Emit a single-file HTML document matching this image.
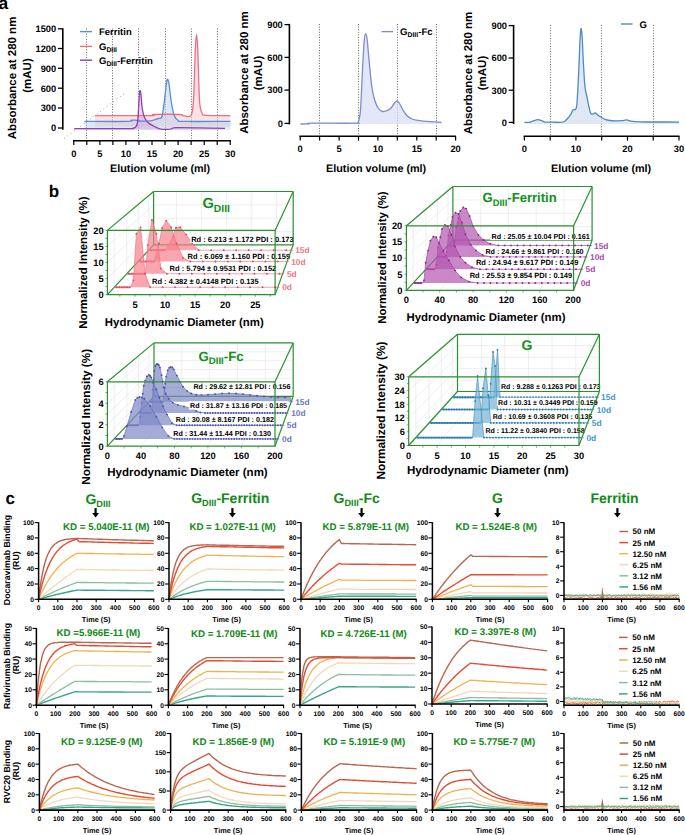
<!DOCTYPE html><html><head><meta charset="utf-8"><style>html,body{margin:0;padding:0;background:#fff;}svg{display:block;font-family:"Liberation Sans",sans-serif;}</style></head><body><svg width="685" height="835" viewBox="0 0 685 835" font-family='&quot;Liberation Sans&quot;, sans-serif' font-weight="bold" text-rendering="geometricPrecision"><rect width="100%" height="100%" fill="#fff"/><text x="-1.6" y="9.4" font-size="17.4">a</text>
<text x="15.8" y="78" font-size="11.5" text-anchor="middle" transform="rotate(-90 15.8 78)">Absorbance at 280 nm</text>
<text x="30.6" y="75.5" font-size="11.5" text-anchor="middle" transform="rotate(-90 30.6 75.5)">(mAU)</text>
<line x1="62.8" y1="28.2" x2="62.8" y2="129.8" stroke="#000" stroke-width="1.6"/>
<line x1="57.9" y1="28.8" x2="62.8" y2="28.8" stroke="#000" stroke-width="1.3"/>
<text x="56.2" y="32.1" font-size="9.3" text-anchor="end">1500</text>
<line x1="57.9" y1="48.5" x2="62.8" y2="48.5" stroke="#000" stroke-width="1.3"/>
<text x="56.2" y="51.8" font-size="9.3" text-anchor="end">1200</text>
<line x1="57.9" y1="68.3" x2="62.8" y2="68.3" stroke="#000" stroke-width="1.3"/>
<text x="56.2" y="71.6" font-size="9.3" text-anchor="end">900</text>
<line x1="57.9" y1="88.2" x2="62.8" y2="88.2" stroke="#000" stroke-width="1.3"/>
<text x="56.2" y="91.5" font-size="9.3" text-anchor="end">600</text>
<line x1="57.9" y1="108" x2="62.8" y2="108" stroke="#000" stroke-width="1.3"/>
<text x="56.2" y="111.3" font-size="9.3" text-anchor="end">300</text>
<line x1="57.9" y1="128" x2="62.8" y2="128" stroke="#000" stroke-width="1.3"/>
<text x="56.2" y="131.3" font-size="9.3" text-anchor="end">0</text>
<line x1="73" y1="140.7" x2="230.9" y2="140.7" stroke="#000" stroke-width="1.6"/>
<line x1="73.8" y1="140.7" x2="73.8" y2="145.1" stroke="#000" stroke-width="1.2"/>
<line x1="86.8" y1="140.7" x2="86.8" y2="145.1" stroke="#000" stroke-width="1.2"/>
<line x1="99.9" y1="140.7" x2="99.9" y2="145.1" stroke="#000" stroke-width="1.2"/>
<line x1="112.9" y1="140.7" x2="112.9" y2="145.1" stroke="#000" stroke-width="1.2"/>
<line x1="125.9" y1="140.7" x2="125.9" y2="145.1" stroke="#000" stroke-width="1.2"/>
<line x1="139" y1="140.7" x2="139" y2="145.1" stroke="#000" stroke-width="1.2"/>
<line x1="152" y1="140.7" x2="152" y2="145.1" stroke="#000" stroke-width="1.2"/>
<line x1="165" y1="140.7" x2="165" y2="145.1" stroke="#000" stroke-width="1.2"/>
<line x1="178.1" y1="140.7" x2="178.1" y2="145.1" stroke="#000" stroke-width="1.2"/>
<line x1="191.1" y1="140.7" x2="191.1" y2="145.1" stroke="#000" stroke-width="1.2"/>
<line x1="204.2" y1="140.7" x2="204.2" y2="145.1" stroke="#000" stroke-width="1.2"/>
<line x1="217.2" y1="140.7" x2="217.2" y2="145.1" stroke="#000" stroke-width="1.2"/>
<line x1="230.2" y1="140.7" x2="230.2" y2="145.1" stroke="#000" stroke-width="1.2"/>
<text x="73.8" y="156.7" font-size="9.3" text-anchor="middle">0</text>
<text x="99.9" y="156.7" font-size="9.3" text-anchor="middle">5</text>
<text x="125.9" y="156.7" font-size="9.3" text-anchor="middle">10</text>
<text x="152" y="156.7" font-size="9.3" text-anchor="middle">15</text>
<text x="178.1" y="156.7" font-size="9.3" text-anchor="middle">20</text>
<text x="204.2" y="156.7" font-size="9.3" text-anchor="middle">25</text>
<text x="230.2" y="156.7" font-size="9.3" text-anchor="middle">30</text>
<line x1="86.5" y1="28.5" x2="86.5" y2="140" stroke="#444" stroke-width="0.8" stroke-dasharray="1 1.6"/>
<line x1="112.5" y1="28.5" x2="112.5" y2="140" stroke="#444" stroke-width="0.8" stroke-dasharray="1 1.6"/>
<line x1="138.5" y1="28.5" x2="138.5" y2="140" stroke="#444" stroke-width="0.8" stroke-dasharray="1 1.6"/>
<line x1="165.5" y1="28.5" x2="165.5" y2="140" stroke="#444" stroke-width="0.8" stroke-dasharray="1 1.6"/>
<line x1="191.5" y1="28.5" x2="191.5" y2="140" stroke="#444" stroke-width="0.8" stroke-dasharray="1 1.6"/>
<line x1="217.5" y1="28.5" x2="217.5" y2="140" stroke="#444" stroke-width="0.8" stroke-dasharray="1 1.6"/>
<line x1="64" y1="138.5" x2="124.5" y2="93.5" stroke="#777" stroke-width="0.8" stroke-dasharray="0.9 3.2"/>
<text x="110" y="171.6" font-size="10.8">Elution volume (ml)</text>
<path d="M95 115.6 C104.2 115.6 140.2 115.8 150 115.6 C159.8 115.4 149 114.7 154 114.5 C159 114.3 175.2 114.3 180 114.5 C184.8 114.7 181.2 115.4 183 115.6 C184.8 115.8 189.2 118 191 115.4 C192.8 112.8 192.8 110.9 193.5 100 C194.2 89.1 194.8 60.9 195.3 50 C195.8 39.1 196.1 34.5 196.5 34.5 C196.9 34.5 197.3 39.1 197.8 50 C198.3 60.9 198.8 89.5 199.5 100 C200.2 110.5 200.9 110.4 202 113 C203.1 115.6 201.3 115 206 115.4 C210.7 115.8 226.3 115.6 230.4 115.6 L230.4 126.5 L95 126.5 Z" fill="#f6c6cf" stroke="none" fill-opacity="0.5"/>
<path d="M84.5 121.4 C91.8 121.4 120.2 121.6 128 121.4 C135.8 121.2 129.8 120.4 131 120.2 C132.2 120 133.7 120 135 120.1 C136.3 120.2 136.5 120.9 139 121 C141.5 121.1 147.3 121.1 150 120.9 C152.7 120.7 153.6 120 155 119.6 C156.4 119.2 157.3 118.9 158.5 118.4 C159.7 117.9 161 119.6 162 116.5 C163 113.4 163.8 105.6 164.5 100 C165.2 94.4 166 86.5 166.5 83 C167 79.5 167.2 79 167.6 79.2 C168 79.4 168.4 80.5 169 84 C169.6 87.5 170.2 94.8 171 100 C171.8 105.2 172.8 111.6 174 115 C175.2 118.4 176.3 119.2 178 120.3 C179.7 121.4 175.3 121.2 184 121.4 C192.7 121.6 222.7 121.4 230.4 121.4 L230.4 129.8 L84.5 129.8 Z" fill="#b7cdeb" stroke="none" fill-opacity="0.45"/>
<path d="M74.2 128.7 C83.2 128.7 118.2 128.7 128 128.6 C137.8 128.5 131.8 128.4 133 128.2 C134.2 128 134.8 127.9 135.5 127.2 C136.2 126.5 136.8 126 137.2 124 C137.6 122 137.8 119.8 138.2 115 C138.5 110.2 139 99.1 139.3 95 C139.6 90.9 139.7 90.7 140 90.5 C140.3 90.3 140.5 91.1 140.9 94 C141.3 96.9 141.6 104.1 142.2 108 C142.8 111.9 143.5 115.1 144.5 117.5 C145.5 119.9 146.6 121.1 148 122.5 C149.4 123.9 151.2 124.8 153 125.8 C154.8 126.8 157.3 128 159 128.6 C160.7 129.2 161.2 129.2 163 129.3 C164.8 129.4 168.2 129.4 170 129.2 C171.8 128.9 171.8 128 173.5 127.8 C175.2 127.5 175.6 127.7 180 127.7 C184.4 127.7 192.5 127.8 200 127.9 C207.5 128 220.8 128.3 225 128.4 L225 129.8 L74.2 129.8 Z" fill="#c9a6dc" stroke="none" fill-opacity="0.45"/>
<path d="M95 115.6 C104.2 115.6 140.2 115.8 150 115.6 C159.8 115.4 149 114.7 154 114.5 C159 114.3 175.2 114.3 180 114.5 C184.8 114.7 181.2 115.4 183 115.6 C184.8 115.8 189.2 118 191 115.4 C192.8 112.8 192.8 110.9 193.5 100 C194.2 89.1 194.8 60.9 195.3 50 C195.8 39.1 196.1 34.5 196.5 34.5 C196.9 34.5 197.3 39.1 197.8 50 C198.3 60.9 198.8 89.5 199.5 100 C200.2 110.5 200.9 110.4 202 113 C203.1 115.6 201.3 115 206 115.4 C210.7 115.8 226.3 115.6 230.4 115.6" stroke="#ee6f80" stroke-width="1.3" fill="none"/>
<path d="M84.5 121.4 C91.8 121.4 120.2 121.6 128 121.4 C135.8 121.2 129.8 120.4 131 120.2 C132.2 120 133.7 120 135 120.1 C136.3 120.2 136.5 120.9 139 121 C141.5 121.1 147.3 121.1 150 120.9 C152.7 120.7 153.6 120 155 119.6 C156.4 119.2 157.3 118.9 158.5 118.4 C159.7 117.9 161 119.6 162 116.5 C163 113.4 163.8 105.6 164.5 100 C165.2 94.4 166 86.5 166.5 83 C167 79.5 167.2 79 167.6 79.2 C168 79.4 168.4 80.5 169 84 C169.6 87.5 170.2 94.8 171 100 C171.8 105.2 172.8 111.6 174 115 C175.2 118.4 176.3 119.2 178 120.3 C179.7 121.4 175.3 121.2 184 121.4 C192.7 121.6 222.7 121.4 230.4 121.4" stroke="#5a8fd2" stroke-width="1.3" fill="none"/>
<path d="M74.2 128.7 C83.2 128.7 118.2 128.7 128 128.6 C137.8 128.5 131.8 128.4 133 128.2 C134.2 128 134.8 127.9 135.5 127.2 C136.2 126.5 136.8 126 137.2 124 C137.6 122 137.8 119.8 138.2 115 C138.5 110.2 139 99.1 139.3 95 C139.6 90.9 139.7 90.7 140 90.5 C140.3 90.3 140.5 91.1 140.9 94 C141.3 96.9 141.6 104.1 142.2 108 C142.8 111.9 143.5 115.1 144.5 117.5 C145.5 119.9 146.6 121.1 148 122.5 C149.4 123.9 151.2 124.8 153 125.8 C154.8 126.8 157.3 128 159 128.6 C160.7 129.2 161.2 129.2 163 129.3 C164.8 129.4 168.2 129.4 170 129.2 C171.8 128.9 171.8 128 173.5 127.8 C175.2 127.5 175.6 127.7 180 127.7 C184.4 127.7 192.5 127.8 200 127.9 C207.5 128 220.8 128.3 225 128.4" stroke="#9140b2" stroke-width="1.3" fill="none"/>
<line x1="80" y1="31.6" x2="92" y2="31.6" stroke="#5a8fd2" stroke-width="1.4"/>
<line x1="80" y1="46.4" x2="92" y2="46.4" stroke="#ee6f80" stroke-width="1.4"/>
<line x1="80" y1="60.2" x2="92" y2="60.2" stroke="#9140b2" stroke-width="1.4"/>
<text x="99" y="35" font-size="9.5">Ferritin</text>
<text x="99" y="49.8"><tspan font-size="9.5" dy="0">G</tspan><tspan font-size="6.8" dy="2.3">DIII</tspan></text>
<text x="99" y="63.6"><tspan font-size="9.5" dy="0">G</tspan><tspan font-size="6.8" dy="2.3">DIII</tspan><tspan font-size="9.5" dy="-2.3">-Ferritin</tspan></text>
<text x="248.2" y="72.5" font-size="11.5" text-anchor="middle" transform="rotate(-90 248.2 72.5)">Absorbance at 280 nm</text>
<text x="261.6" y="73" font-size="11.5" text-anchor="middle" transform="rotate(-90 261.6 73)">(mAU)</text>
<line x1="289.4" y1="23.9" x2="289.4" y2="124.4" stroke="#000" stroke-width="1.6"/>
<line x1="284.5" y1="24.6" x2="289.4" y2="24.6" stroke="#000" stroke-width="1.3"/>
<text x="282.8" y="27.9" font-size="9.3" text-anchor="end">900</text>
<line x1="284.5" y1="57.4" x2="289.4" y2="57.4" stroke="#000" stroke-width="1.3"/>
<text x="282.8" y="60.7" font-size="9.3" text-anchor="end">600</text>
<line x1="284.5" y1="90.1" x2="289.4" y2="90.1" stroke="#000" stroke-width="1.3"/>
<text x="282.8" y="93.4" font-size="9.3" text-anchor="end">300</text>
<line x1="284.5" y1="123.4" x2="289.4" y2="123.4" stroke="#000" stroke-width="1.3"/>
<text x="282.8" y="126.7" font-size="9.3" text-anchor="end">0</text>
<line x1="299.4" y1="136.2" x2="455.9" y2="136.2" stroke="#000" stroke-width="1.6"/>
<line x1="300.2" y1="136.2" x2="300.2" y2="140.6" stroke="#000" stroke-width="1.2"/>
<line x1="319.6" y1="136.2" x2="319.6" y2="140.6" stroke="#000" stroke-width="1.2"/>
<line x1="339.1" y1="136.2" x2="339.1" y2="140.6" stroke="#000" stroke-width="1.2"/>
<line x1="358.5" y1="136.2" x2="358.5" y2="140.6" stroke="#000" stroke-width="1.2"/>
<line x1="377.9" y1="136.2" x2="377.9" y2="140.6" stroke="#000" stroke-width="1.2"/>
<line x1="397.3" y1="136.2" x2="397.3" y2="140.6" stroke="#000" stroke-width="1.2"/>
<line x1="416.8" y1="136.2" x2="416.8" y2="140.6" stroke="#000" stroke-width="1.2"/>
<line x1="436.2" y1="136.2" x2="436.2" y2="140.6" stroke="#000" stroke-width="1.2"/>
<line x1="455.6" y1="136.2" x2="455.6" y2="140.6" stroke="#000" stroke-width="1.2"/>
<text x="300.2" y="151.5" font-size="9.3" text-anchor="middle">0</text>
<text x="339.1" y="151.5" font-size="9.3" text-anchor="middle">5</text>
<text x="377.9" y="151.5" font-size="9.3" text-anchor="middle">10</text>
<text x="416.8" y="151.5" font-size="9.3" text-anchor="middle">15</text>
<text x="455.6" y="151.5" font-size="9.3" text-anchor="middle">20</text>
<line x1="319.5" y1="24" x2="319.5" y2="135.5" stroke="#444" stroke-width="0.8" stroke-dasharray="1 1.6"/>
<line x1="358.5" y1="24" x2="358.5" y2="135.5" stroke="#444" stroke-width="0.8" stroke-dasharray="1 1.6"/>
<line x1="397.5" y1="24" x2="397.5" y2="135.5" stroke="#444" stroke-width="0.8" stroke-dasharray="1 1.6"/>
<line x1="436.5" y1="24" x2="436.5" y2="135.5" stroke="#444" stroke-width="0.8" stroke-dasharray="1 1.6"/>
<text x="326" y="171.6" font-size="10.8">Elution volume (ml)</text>
<path d="M300.5 124 C301.9 124 307.2 124 309 123.9 C310.8 123.8 303.3 123.3 311 123.2 C318.7 123.1 347.1 123.4 355 123.2 C362.9 123 357.3 124.2 358.2 122 C359.1 119.8 359.8 118.7 360.5 110 C361.2 101.3 361.9 81.7 362.5 70 C363.1 58.3 363.8 46.1 364.3 40 C364.8 33.9 365.2 33.6 365.7 33.6 C366.2 33.6 366.6 34.8 367.2 40 C367.8 45.2 368.7 57 369.5 65 C370.3 73 371.1 82 372 88 C372.9 94 373.9 97.6 375 101 C376.1 104.4 377.3 106.8 378.5 108.5 C379.7 110.2 380.8 110.9 382 111.3 C383.2 111.7 384.6 111.5 386 111 C387.4 110.5 389.1 109.8 390.5 108.5 C391.9 107.2 393.4 104.2 394.5 103 C395.6 101.8 396.2 100.9 397 101 C397.8 101.1 398.5 102 399.5 103.5 C400.5 105 401.8 108 403 110 C404.2 112 405.5 114.3 407 115.8 C408.5 117.3 410.2 118.2 412 119 C413.8 119.8 415 120 418 120.4 C421 120.8 426.1 121.3 430 121.6 C433.9 121.9 439.7 122.3 441.6 122.4 L441.6 124 L300.5 124 Z" fill="#d9ddf3" stroke="none" fill-opacity="0.7"/>
<path d="M300.5 124 C301.9 124 307.2 124 309 123.9 C310.8 123.8 303.3 123.3 311 123.2 C318.7 123.1 347.1 123.4 355 123.2 C362.9 123 357.3 124.2 358.2 122 C359.1 119.8 359.8 118.7 360.5 110 C361.2 101.3 361.9 81.7 362.5 70 C363.1 58.3 363.8 46.1 364.3 40 C364.8 33.9 365.2 33.6 365.7 33.6 C366.2 33.6 366.6 34.8 367.2 40 C367.8 45.2 368.7 57 369.5 65 C370.3 73 371.1 82 372 88 C372.9 94 373.9 97.6 375 101 C376.1 104.4 377.3 106.8 378.5 108.5 C379.7 110.2 380.8 110.9 382 111.3 C383.2 111.7 384.6 111.5 386 111 C387.4 110.5 389.1 109.8 390.5 108.5 C391.9 107.2 393.4 104.2 394.5 103 C395.6 101.8 396.2 100.9 397 101 C397.8 101.1 398.5 102 399.5 103.5 C400.5 105 401.8 108 403 110 C404.2 112 405.5 114.3 407 115.8 C408.5 117.3 410.2 118.2 412 119 C413.8 119.8 415 120 418 120.4 C421 120.8 426.1 121.3 430 121.6 C433.9 121.9 439.7 122.3 441.6 122.4" stroke="#7d8ccb" stroke-width="1.3" fill="none"/>
<line x1="381.6" y1="31.6" x2="393" y2="31.6" stroke="#7d8ccb" stroke-width="1.4"/>
<text x="400" y="34.9"><tspan font-size="9.6" dy="0">G</tspan><tspan font-size="6.9" dy="2.3">DIII</tspan><tspan font-size="9.6" dy="-2.3">-Fc</tspan></text>
<text x="472.2" y="73" font-size="11.5" text-anchor="middle" transform="rotate(-90 472.2 73)">Absorbance at 280 nm</text>
<text x="485.6" y="73" font-size="11.5" text-anchor="middle" transform="rotate(-90 485.6 73)">(mAU)</text>
<line x1="513.6" y1="24.9" x2="513.6" y2="124" stroke="#000" stroke-width="1.6"/>
<line x1="508.7" y1="25.6" x2="513.6" y2="25.6" stroke="#000" stroke-width="1.3"/>
<text x="507" y="28.9" font-size="9.3" text-anchor="end">900</text>
<line x1="508.7" y1="58" x2="513.6" y2="58" stroke="#000" stroke-width="1.3"/>
<text x="507" y="61.3" font-size="9.3" text-anchor="end">600</text>
<line x1="508.7" y1="90.2" x2="513.6" y2="90.2" stroke="#000" stroke-width="1.3"/>
<text x="507" y="93.5" font-size="9.3" text-anchor="end">300</text>
<line x1="508.7" y1="122.4" x2="513.6" y2="122.4" stroke="#000" stroke-width="1.3"/>
<text x="507" y="125.7" font-size="9.3" text-anchor="end">0</text>
<line x1="523.6" y1="136.2" x2="679.5" y2="136.2" stroke="#000" stroke-width="1.6"/>
<line x1="524.4" y1="136.2" x2="524.4" y2="140.6" stroke="#000" stroke-width="1.2"/>
<line x1="550.2" y1="136.2" x2="550.2" y2="140.6" stroke="#000" stroke-width="1.2"/>
<line x1="575.9" y1="136.2" x2="575.9" y2="140.6" stroke="#000" stroke-width="1.2"/>
<line x1="601.7" y1="136.2" x2="601.7" y2="140.6" stroke="#000" stroke-width="1.2"/>
<line x1="627.5" y1="136.2" x2="627.5" y2="140.6" stroke="#000" stroke-width="1.2"/>
<line x1="653.2" y1="136.2" x2="653.2" y2="140.6" stroke="#000" stroke-width="1.2"/>
<line x1="679" y1="136.2" x2="679" y2="140.6" stroke="#000" stroke-width="1.2"/>
<text x="524.4" y="151.5" font-size="9.3" text-anchor="middle">0</text>
<text x="575.9" y="151.5" font-size="9.3" text-anchor="middle">10</text>
<text x="627.5" y="151.5" font-size="9.3" text-anchor="middle">20</text>
<text x="679" y="151.5" font-size="9.3" text-anchor="middle">30</text>
<line x1="550.5" y1="25" x2="550.5" y2="135.5" stroke="#444" stroke-width="0.8" stroke-dasharray="1 1.6"/>
<line x1="601.5" y1="25" x2="601.5" y2="135.5" stroke="#444" stroke-width="0.8" stroke-dasharray="1 1.6"/>
<line x1="653.5" y1="25" x2="653.5" y2="135.5" stroke="#444" stroke-width="0.8" stroke-dasharray="1 1.6"/>
<text x="551" y="171.6" font-size="10.8">Elution volume (ml)</text>
<path d="M524.4 122.4 C525.3 122.4 528.4 122.5 530 122.2 C531.6 121.9 532.7 121 534 120.6 C535.3 120.2 536.7 119.6 538 119.6 C539.3 119.6 540.8 120.4 542 120.8 C543.2 121.2 543.3 121.9 545 122.1 C546.7 122.3 549.2 122.2 552 122.2 C554.8 122.2 559.8 122.4 562 122.2 C564.2 122 563.9 121.8 565 121 C566.1 120.2 567.5 118.7 568.5 117.5 C569.5 116.3 570.2 115.2 571 114 C571.8 112.8 572.2 110.8 573 110 C573.8 109.2 574.8 110.4 575.5 109.2 C576.2 108 576.5 109.5 577 103 C577.5 96.5 578.3 80.5 578.8 70 C579.3 59.5 579.6 46.9 580 40 C580.4 33.1 580.6 28.9 581 28.6 C581.4 28.3 581.8 31.9 582.2 38 C582.6 44.1 583 56.8 583.5 65 C584 73.2 584.4 81.7 585 87 C585.6 92.3 586.4 93.8 587 97 C587.6 100.2 588.2 103.3 588.8 106 C589.4 108.7 589.9 111.6 590.5 113 C591.1 114.4 591.8 114.2 592.5 114.2 C593.2 114.2 594.1 112.8 595 113 C595.9 113.2 597 114.6 598 115.3 C599 116 599.8 116.3 601 117 C602.2 117.7 603.5 118.7 605 119.3 C606.5 119.9 608.2 120.2 610 120.5 C611.8 120.8 614 120.8 616 120.8 C618 120.8 620.2 120.8 622 120.7 C623.8 120.6 625 119.8 626.5 119.9 C628 120 628.8 120.9 631 121.2 C633.2 121.5 635.2 121.7 640 121.8 C644.8 121.9 653.5 122 660 122 C666.5 122 675.8 122.1 679 122.1 L679 124 L524.4 124 Z" fill="#d3e0ee" stroke="none" fill-opacity="0.7"/>
<path d="M524.4 122.4 C525.3 122.4 528.4 122.5 530 122.2 C531.6 121.9 532.7 121 534 120.6 C535.3 120.2 536.7 119.6 538 119.6 C539.3 119.6 540.8 120.4 542 120.8 C543.2 121.2 543.3 121.9 545 122.1 C546.7 122.3 549.2 122.2 552 122.2 C554.8 122.2 559.8 122.4 562 122.2 C564.2 122 563.9 121.8 565 121 C566.1 120.2 567.5 118.7 568.5 117.5 C569.5 116.3 570.2 115.2 571 114 C571.8 112.8 572.2 110.8 573 110 C573.8 109.2 574.8 110.4 575.5 109.2 C576.2 108 576.5 109.5 577 103 C577.5 96.5 578.3 80.5 578.8 70 C579.3 59.5 579.6 46.9 580 40 C580.4 33.1 580.6 28.9 581 28.6 C581.4 28.3 581.8 31.9 582.2 38 C582.6 44.1 583 56.8 583.5 65 C584 73.2 584.4 81.7 585 87 C585.6 92.3 586.4 93.8 587 97 C587.6 100.2 588.2 103.3 588.8 106 C589.4 108.7 589.9 111.6 590.5 113 C591.1 114.4 591.8 114.2 592.5 114.2 C593.2 114.2 594.1 112.8 595 113 C595.9 113.2 597 114.6 598 115.3 C599 116 599.8 116.3 601 117 C602.2 117.7 603.5 118.7 605 119.3 C606.5 119.9 608.2 120.2 610 120.5 C611.8 120.8 614 120.8 616 120.8 C618 120.8 620.2 120.8 622 120.7 C623.8 120.6 625 119.8 626.5 119.9 C628 120 628.8 120.9 631 121.2 C633.2 121.5 635.2 121.7 640 121.8 C644.8 121.9 653.5 122 660 122 C666.5 122 675.8 122.1 679 122.1" stroke="#4e8cc0" stroke-width="1.3" fill="none"/>
<line x1="621" y1="24" x2="632.6" y2="24" stroke="#4e8cc0" stroke-width="1.4"/>
<text x="639.4" y="27.5" font-size="9.6">G</text>
<text x="48.7" y="196.6" font-size="17">b</text>
<path d="M135 294.6 L176.6 244.9 L176.6 191.5" stroke="#e2e2e2" stroke-width="0.6" fill="none"/>
<path d="M165.1 294.6 L201.6 244.9 L201.6 191.5" stroke="#e2e2e2" stroke-width="0.6" fill="none"/>
<path d="M195.1 294.6 L226.6 244.9 L226.6 191.5" stroke="#e2e2e2" stroke-width="0.6" fill="none"/>
<path d="M225.2 294.6 L251.7 244.9 L251.7 191.5" stroke="#e2e2e2" stroke-width="0.6" fill="none"/>
<path d="M255.3 294.6 L276.7 244.9 L276.7 191.5" stroke="#e2e2e2" stroke-width="0.6" fill="none"/>
<path d="M107.4 278.6 L153.6 231.6 L293.2 231.6" stroke="#e2e2e2" stroke-width="0.6" fill="none"/>
<path d="M107.4 262.5 L153.6 218.2 L293.2 218.2" stroke="#e2e2e2" stroke-width="0.6" fill="none"/>
<path d="M107.4 246.5 L153.6 204.9 L293.2 204.9" stroke="#e2e2e2" stroke-width="0.6" fill="none"/>
<line x1="114.2" y1="287.3" x2="114.2" y2="224.7" stroke="#e2e2e2" stroke-width="0.6"/>
<line x1="126.8" y1="273.8" x2="126.8" y2="214.1" stroke="#e2e2e2" stroke-width="0.6"/>
<line x1="138.2" y1="261.5" x2="138.2" y2="204.5" stroke="#e2e2e2" stroke-width="0.6"/>
<line x1="148.7" y1="250.2" x2="148.7" y2="195.6" stroke="#e2e2e2" stroke-width="0.6"/>
<line x1="119.9" y1="294.6" x2="119.9" y2="296.8" stroke="#555" stroke-width="0.6"/>
<line x1="135" y1="294.6" x2="135" y2="296.8" stroke="#555" stroke-width="0.6"/>
<line x1="150" y1="294.6" x2="150" y2="296.8" stroke="#555" stroke-width="0.6"/>
<line x1="165.1" y1="294.6" x2="165.1" y2="296.8" stroke="#555" stroke-width="0.6"/>
<line x1="180.1" y1="294.6" x2="180.1" y2="296.8" stroke="#555" stroke-width="0.6"/>
<line x1="195.1" y1="294.6" x2="195.1" y2="296.8" stroke="#555" stroke-width="0.6"/>
<line x1="210.2" y1="294.6" x2="210.2" y2="296.8" stroke="#555" stroke-width="0.6"/>
<line x1="225.2" y1="294.6" x2="225.2" y2="296.8" stroke="#555" stroke-width="0.6"/>
<line x1="240.2" y1="294.6" x2="240.2" y2="296.8" stroke="#555" stroke-width="0.6"/>
<line x1="255.3" y1="294.6" x2="255.3" y2="296.8" stroke="#555" stroke-width="0.6"/>
<line x1="270.3" y1="294.6" x2="270.3" y2="296.8" stroke="#555" stroke-width="0.6"/>
<path d="M153.6 191.5 L153.6 244.9 L293.2 244.9" stroke="#2a9130" stroke-width="1.2" fill="none"/>
<path d="M153.6 191.5 L293.2 191.5" stroke="#2a9130" stroke-width="1.2" fill="none"/>
<line x1="107.4" y1="294.6" x2="153.6" y2="244.9" stroke="#2a9130" stroke-width="1.2"/>
<path d="M149.1 250.2 L165.7 250.2 L172.9 236.4 L175.9 227.7 L180.3 227.2 L186.1 234.6 L192.1 243 L198.7 250.2 L291.3 250.2 Z" fill="#f7808e" fill-opacity="0.7" stroke="none"/>
<path d="M149.1 250.2 L165.7 250.2 L172.9 236.4 L175.9 227.7 L180.3 227.2 L186.1 234.6 L192.1 243 L198.7 250.2 L291.3 250.2" fill="none" stroke="#ef6d7d" stroke-width="0.7" stroke-opacity="0.9"/>
<line x1="149.1" y1="250.2" x2="165.7" y2="250.2" stroke="#ef6d7d" stroke-width="1.7"/>
<path d="M172.9 236.4h0.01M175.9 227.7h0.01M180.3 227.2h0.01M186.1 234.6h0.01M192.1 243h0.01M198.7 250.2h0.01M211.2 250.2h0.01M223.7 250.2h0.01M236.2 250.2h0.01M248.7 250.2h0.01M261.2 250.2h0.01M273.7 250.2h0.01M286.2 250.2h0.01M151.1 250.2h0.01M153.7 250.2h0.01M156.3 250.2h0.01M158.9 250.2h0.01M161.5 250.2h0.01M164.1 250.2h0.01" stroke="#e04a60" stroke-width="1.9" stroke-linecap="round" fill="none"/>
<path d="M138.7 261.5 L153.7 261.5 L158.9 243.5 L162.1 227.9 L166.3 220.7 L171.1 227.3 L176.5 243.5 L183.1 257.9 L190.3 261.5 L287.2 261.5 Z" fill="#f7808e" fill-opacity="0.7" stroke="none"/>
<path d="M138.7 261.5 L153.7 261.5 L158.9 243.5 L162.1 227.9 L166.3 220.7 L171.1 227.3 L176.5 243.5 L183.1 257.9 L190.3 261.5 L287.2 261.5" fill="none" stroke="#ef6d7d" stroke-width="0.7" stroke-opacity="0.9"/>
<line x1="138.7" y1="261.5" x2="153.7" y2="261.5" stroke="#ef6d7d" stroke-width="1.7"/>
<path d="M158.9 243.5h0.01M162.1 227.9h0.01M166.3 220.7h0.01M171.1 227.3h0.01M176.5 243.5h0.01M183.1 257.9h0.01M190.3 261.5h0.01M202.8 261.5h0.01M215.3 261.5h0.01M227.8 261.5h0.01M240.3 261.5h0.01M252.8 261.5h0.01M265.3 261.5h0.01M277.8 261.5h0.01M140.7 261.5h0.01M143.3 261.5h0.01M145.9 261.5h0.01M148.5 261.5h0.01M151.1 261.5h0.01M153.7 261.5h0.01" stroke="#e04a60" stroke-width="1.9" stroke-linecap="round" fill="none"/>
<path d="M127.2 273.8 L145.4 273.8 L147.8 245.1 L151.9 219.9 L156.4 233.7 L160.9 268.5 L166.9 273.8 L282.7 273.8 Z" fill="#f7808e" fill-opacity="0.7" stroke="none"/>
<path d="M127.2 273.8 L145.4 273.8 L147.8 245.1 L151.9 219.9 L156.4 233.7 L160.9 268.5 L166.9 273.8 L282.7 273.8" fill="none" stroke="#ef6d7d" stroke-width="0.7" stroke-opacity="0.9"/>
<line x1="127.2" y1="273.8" x2="145.4" y2="273.8" stroke="#ef6d7d" stroke-width="1.7"/>
<path d="M147.8 245.1h0.01M151.9 219.9h0.01M156.4 233.7h0.01M160.9 268.5h0.01M166.9 273.8h0.01M179.4 273.8h0.01M191.9 273.8h0.01M204.4 273.8h0.01M216.9 273.8h0.01M229.4 273.8h0.01M241.9 273.8h0.01M254.4 273.8h0.01M266.9 273.8h0.01M279.4 273.8h0.01M129.2 273.8h0.01M131.8 273.8h0.01M134.4 273.8h0.01M137 273.8h0.01M139.6 273.8h0.01M142.2 273.8h0.01M144.8 273.8h0.01" stroke="#e04a60" stroke-width="1.9" stroke-linecap="round" fill="none"/>
<path d="M114.7 287.3 L130.4 287.3 L133.4 280.4 L136.4 233.7 L140.6 227.4 L145.1 273.6 L150.1 287.3 L277.8 287.3 Z" fill="#f7808e" fill-opacity="0.7" stroke="none"/>
<path d="M114.7 287.3 L130.4 287.3 L133.4 280.4 L136.4 233.7 L140.6 227.4 L145.1 273.6 L150.1 287.3 L277.8 287.3" fill="none" stroke="#ef6d7d" stroke-width="0.7" stroke-opacity="0.9"/>
<line x1="114.7" y1="287.3" x2="130.4" y2="287.3" stroke="#ef6d7d" stroke-width="1.7"/>
<path d="M133.4 280.4h0.01M136.4 233.7h0.01M140.6 227.4h0.01M145.1 273.6h0.01M150.1 287.3h0.01M162.6 287.3h0.01M175.1 287.3h0.01M187.6 287.3h0.01M200.1 287.3h0.01M212.6 287.3h0.01M225.1 287.3h0.01M237.6 287.3h0.01M250.1 287.3h0.01M262.6 287.3h0.01M275.1 287.3h0.01M116.7 287.3h0.01M119.3 287.3h0.01M121.9 287.3h0.01M124.5 287.3h0.01M127.1 287.3h0.01M129.7 287.3h0.01" stroke="#e04a60" stroke-width="1.9" stroke-linecap="round" fill="none"/>
<rect x="190" y="234.4" width="104.6" height="8.4" fill="#fff"/>
<text x="191.2" y="241.5" font-size="7.5">Rd : 6.213 ± 1.172 PDI : 0.173</text>
<rect x="186.4" y="251.4" width="104.3" height="8.4" fill="#fff"/>
<text x="187.6" y="258.5" font-size="7.5">Rd : 6.069 ± 1.160 PDI : 0.159</text>
<rect x="168.4" y="263.6" width="109.1" height="8.4" fill="#fff"/>
<text x="169.6" y="270.7" font-size="7.5">Rd : 5.794 ± 0.9531 PDI : 0.152</text>
<rect x="150.8" y="276.9" width="109.4" height="8.4" fill="#fff"/>
<text x="152" y="284" font-size="7.5">Rd : 4.382 ± 0.4148 PDI : 0.135</text>
<path d="M107.4 230.4 L275.1 230.4 L275.1 294.6 L107.4 294.6 L107.4 230.4" stroke="#2a9130" stroke-width="1.2" fill="none"/>
<line x1="293.2" y1="191.5" x2="293.2" y2="244.9" stroke="#2a9130" stroke-width="1.2"/>
<line x1="107.4" y1="230.4" x2="153.6" y2="191.5" stroke="#2a9130" stroke-width="1.2"/>
<line x1="275.1" y1="230.4" x2="293.2" y2="191.5" stroke="#2a9130" stroke-width="1.2"/>
<line x1="275.1" y1="294.6" x2="293.2" y2="244.9" stroke="#2a9130" stroke-width="1.2"/>
<line x1="105.4" y1="294.6" x2="107.4" y2="294.6" stroke="#555" stroke-width="0.6"/>
<line x1="105.4" y1="286.6" x2="107.4" y2="286.6" stroke="#555" stroke-width="0.6"/>
<line x1="105.4" y1="278.6" x2="107.4" y2="278.6" stroke="#555" stroke-width="0.6"/>
<line x1="105.4" y1="270.5" x2="107.4" y2="270.5" stroke="#555" stroke-width="0.6"/>
<line x1="105.4" y1="262.5" x2="107.4" y2="262.5" stroke="#555" stroke-width="0.6"/>
<line x1="105.4" y1="254.5" x2="107.4" y2="254.5" stroke="#555" stroke-width="0.6"/>
<line x1="105.4" y1="246.5" x2="107.4" y2="246.5" stroke="#555" stroke-width="0.6"/>
<line x1="105.4" y1="238.4" x2="107.4" y2="238.4" stroke="#555" stroke-width="0.6"/>
<line x1="105.4" y1="230.4" x2="107.4" y2="230.4" stroke="#555" stroke-width="0.6"/>
<text x="103.6" y="297.9" font-size="9.3" text-anchor="end">0</text>
<text x="103.6" y="281.9" font-size="9.3" text-anchor="end">5</text>
<text x="103.6" y="265.8" font-size="9.3" text-anchor="end">10</text>
<text x="103.6" y="249.8" font-size="9.3" text-anchor="end">15</text>
<text x="103.6" y="233.7" font-size="9.3" text-anchor="end">20</text>
<text x="135" y="308.1" font-size="9.3" text-anchor="middle">5</text>
<text x="165.1" y="308.1" font-size="9.3" text-anchor="middle">10</text>
<text x="195.1" y="308.1" font-size="9.3" text-anchor="middle">15</text>
<text x="225.2" y="308.1" font-size="9.3" text-anchor="middle">20</text>
<text x="255.3" y="308.1" font-size="9.3" text-anchor="middle">25</text>
<text x="202.5" y="207.9" fill="#11901a"><tspan font-size="14.6" dy="0">G</tspan><tspan font-size="10.3" dy="4">DIII</tspan></text>
<text x="86.9" y="262.6" font-size="11.4" text-anchor="middle" transform="rotate(-90 86.9 262.6)">Normalized Intensity (%)</text>
<text x="184.3" y="326.3" font-size="11.4" text-anchor="middle">Hydrodynamic Diameter (nm)</text>
<line x1="276.2" y1="287.3" x2="279.4" y2="287.3" stroke="#f07585" stroke-width="0.9"/>
<text x="282.2" y="290.4" font-size="8.4" fill="#f07585">0d</text>
<line x1="281.1" y1="273.8" x2="284.3" y2="273.8" stroke="#f07585" stroke-width="0.9"/>
<text x="286.9" y="276.9" font-size="8.4" fill="#f07585">5d</text>
<line x1="285.6" y1="261.5" x2="288.8" y2="261.5" stroke="#f07585" stroke-width="0.9"/>
<text x="291.2" y="264.6" font-size="8.4" fill="#f07585">10d</text>
<line x1="289.7" y1="250.2" x2="292.9" y2="250.2" stroke="#f07585" stroke-width="0.9"/>
<text x="295.2" y="253.3" font-size="8.4" fill="#f07585">15d</text>
<path d="M439.7 290.3 L480.7 240.2 L480.7 186.5" stroke="#e2e2e2" stroke-width="0.6" fill="none"/>
<path d="M473.1 290.3 L508.4 240.2 L508.4 186.5" stroke="#e2e2e2" stroke-width="0.6" fill="none"/>
<path d="M506.4 290.3 L536.2 240.2 L536.2 186.5" stroke="#e2e2e2" stroke-width="0.6" fill="none"/>
<path d="M539.8 290.3 L563.9 240.2 L563.9 186.5" stroke="#e2e2e2" stroke-width="0.6" fill="none"/>
<path d="M406.4 274.2 L452.9 226.8 L592.1 226.8" stroke="#e2e2e2" stroke-width="0.6" fill="none"/>
<path d="M406.4 258 L452.9 213.3 L592.1 213.3" stroke="#e2e2e2" stroke-width="0.6" fill="none"/>
<path d="M406.4 241.9 L452.9 199.9 L592.1 199.9" stroke="#e2e2e2" stroke-width="0.6" fill="none"/>
<line x1="413.2" y1="283" x2="413.2" y2="220" stroke="#e2e2e2" stroke-width="0.6"/>
<line x1="425.9" y1="269.3" x2="425.9" y2="209.3" stroke="#e2e2e2" stroke-width="0.6"/>
<line x1="437.4" y1="256.9" x2="437.4" y2="199.6" stroke="#e2e2e2" stroke-width="0.6"/>
<line x1="448" y1="245.5" x2="448" y2="190.7" stroke="#e2e2e2" stroke-width="0.6"/>
<line x1="423.1" y1="290.3" x2="423.1" y2="292.5" stroke="#555" stroke-width="0.6"/>
<line x1="439.7" y1="290.3" x2="439.7" y2="292.5" stroke="#555" stroke-width="0.6"/>
<line x1="456.4" y1="290.3" x2="456.4" y2="292.5" stroke="#555" stroke-width="0.6"/>
<line x1="473.1" y1="290.3" x2="473.1" y2="292.5" stroke="#555" stroke-width="0.6"/>
<line x1="489.8" y1="290.3" x2="489.8" y2="292.5" stroke="#555" stroke-width="0.6"/>
<line x1="506.4" y1="290.3" x2="506.4" y2="292.5" stroke="#555" stroke-width="0.6"/>
<line x1="523.1" y1="290.3" x2="523.1" y2="292.5" stroke="#555" stroke-width="0.6"/>
<line x1="539.8" y1="290.3" x2="539.8" y2="292.5" stroke="#555" stroke-width="0.6"/>
<line x1="556.4" y1="290.3" x2="556.4" y2="292.5" stroke="#555" stroke-width="0.6"/>
<path d="M452.9 186.5 L452.9 240.2 L592.1 240.2" stroke="#2a9130" stroke-width="1.2" fill="none"/>
<path d="M452.9 186.5 L592.1 186.5" stroke="#2a9130" stroke-width="1.2" fill="none"/>
<line x1="406.4" y1="290.3" x2="452.9" y2="240.2" stroke="#2a9130" stroke-width="1.2"/>
<path d="M448.4 245.5 L453.2 245.5 L454.4 241.5 L456.2 227 L458.5 218.1 L460.2 211 L463.2 207.5 L466.1 208.6 L469.6 216 L473.1 226 L478.4 235 L483.6 240 L490.2 243.8 L498.2 245.5 L590.1 245.5 Z" fill="#b356b1" fill-opacity="0.7" stroke="none"/>
<path d="M448.4 245.5 L453.2 245.5 L454.4 241.5 L456.2 227 L458.5 218.1 L460.2 211 L463.2 207.5 L466.1 208.6 L469.6 216 L473.1 226 L478.4 235 L483.6 240 L490.2 243.8 L498.2 245.5 L590.1 245.5" fill="none" stroke="#a03c9e" stroke-width="0.7" stroke-opacity="0.9"/>
<line x1="448.4" y1="245.5" x2="453.2" y2="245.5" stroke="#a03c9e" stroke-width="1.7"/>
<path d="M454.4 241.5h0.01M456.2 227h0.01M458.5 218.1h0.01M460.2 211h0.01M463.2 207.5h0.01M466.1 208.6h0.01M469.6 216h0.01M473.1 226h0.01M478.4 235h0.01M483.6 240h0.01M490.2 243.8h0.01M498.2 245.5h0.01M504.6 245.5h0.01M511 245.5h0.01M517.4 245.5h0.01M523.8 245.5h0.01M530.2 245.5h0.01M536.6 245.5h0.01M543 245.5h0.01M549.4 245.5h0.01M555.8 245.5h0.01M562.2 245.5h0.01M568.6 245.5h0.01M575 245.5h0.01M581.4 245.5h0.01M587.8 245.5h0.01M450.4 245.5h0.01M453 245.5h0.01" stroke="#8c2a8a" stroke-width="1.9" stroke-linecap="round" fill="none"/>
<path d="M437.9 256.9 L445.5 256.9 L446.7 252.2 L448.5 235.4 L450.8 225 L452.5 216.9 L455.5 212.8 L458.4 214 L461.9 222.6 L465.4 234.2 L470.7 244.7 L475.9 250.4 L482.5 254.9 L490.5 256.9 L585.9 256.9 Z" fill="#b356b1" fill-opacity="0.7" stroke="none"/>
<path d="M437.9 256.9 L445.5 256.9 L446.7 252.2 L448.5 235.4 L450.8 225 L452.5 216.9 L455.5 212.8 L458.4 214 L461.9 222.6 L465.4 234.2 L470.7 244.7 L475.9 250.4 L482.5 254.9 L490.5 256.9 L585.9 256.9" fill="none" stroke="#a03c9e" stroke-width="0.7" stroke-opacity="0.9"/>
<line x1="437.9" y1="256.9" x2="445.5" y2="256.9" stroke="#a03c9e" stroke-width="1.7"/>
<path d="M446.7 252.2h0.01M448.5 235.4h0.01M450.8 225h0.01M452.5 216.9h0.01M455.5 212.8h0.01M458.4 214h0.01M461.9 222.6h0.01M465.4 234.2h0.01M470.7 244.7h0.01M475.9 250.4h0.01M482.5 254.9h0.01M490.5 256.9h0.01M496.9 256.9h0.01M503.3 256.9h0.01M509.7 256.9h0.01M516.1 256.9h0.01M522.5 256.9h0.01M528.9 256.9h0.01M535.3 256.9h0.01M541.7 256.9h0.01M548.1 256.9h0.01M554.5 256.9h0.01M560.9 256.9h0.01M567.3 256.9h0.01M573.7 256.9h0.01M580.1 256.9h0.01M439.9 256.9h0.01M442.5 256.9h0.01M445.1 256.9h0.01" stroke="#8c2a8a" stroke-width="1.9" stroke-linecap="round" fill="none"/>
<path d="M426.3 269.3 L435 269.3 L436.2 264.6 L438 247.7 L440.3 237.2 L442 229 L445 224.9 L447.9 226.1 L451.4 234.8 L454.9 246.5 L460.2 257 L465.4 262.8 L472 267.3 L480 269.3 L581.3 269.3 Z" fill="#b356b1" fill-opacity="0.7" stroke="none"/>
<path d="M426.3 269.3 L435 269.3 L436.2 264.6 L438 247.7 L440.3 237.2 L442 229 L445 224.9 L447.9 226.1 L451.4 234.8 L454.9 246.5 L460.2 257 L465.4 262.8 L472 267.3 L480 269.3 L581.3 269.3" fill="none" stroke="#a03c9e" stroke-width="0.7" stroke-opacity="0.9"/>
<line x1="426.3" y1="269.3" x2="435" y2="269.3" stroke="#a03c9e" stroke-width="1.7"/>
<path d="M436.2 264.6h0.01M438 247.7h0.01M440.3 237.2h0.01M442 229h0.01M445 224.9h0.01M447.9 226.1h0.01M451.4 234.8h0.01M454.9 246.5h0.01M460.2 257h0.01M465.4 262.8h0.01M472 267.3h0.01M480 269.3h0.01M486.4 269.3h0.01M492.8 269.3h0.01M499.2 269.3h0.01M505.6 269.3h0.01M512 269.3h0.01M518.4 269.3h0.01M524.8 269.3h0.01M531.2 269.3h0.01M537.6 269.3h0.01M544 269.3h0.01M550.4 269.3h0.01M556.8 269.3h0.01M563.2 269.3h0.01M569.6 269.3h0.01M576 269.3h0.01M428.3 269.3h0.01M430.9 269.3h0.01M433.5 269.3h0.01" stroke="#8c2a8a" stroke-width="1.9" stroke-linecap="round" fill="none"/>
<path d="M413.7 283 L422.2 283 L424 280.4 L425.7 262.8 L428 250.6 L430.4 240.8 L433.3 236.6 L436.2 237.2 L439.1 243 L443.2 251.2 L449 260.5 L455 270.5 L461.3 277.5 L469 281.6 L477.7 283 L576.3 283 Z" fill="#b356b1" fill-opacity="0.7" stroke="none"/>
<path d="M413.7 283 L422.2 283 L424 280.4 L425.7 262.8 L428 250.6 L430.4 240.8 L433.3 236.6 L436.2 237.2 L439.1 243 L443.2 251.2 L449 260.5 L455 270.5 L461.3 277.5 L469 281.6 L477.7 283 L576.3 283" fill="none" stroke="#a03c9e" stroke-width="0.7" stroke-opacity="0.9"/>
<line x1="413.7" y1="283" x2="422.2" y2="283" stroke="#a03c9e" stroke-width="1.7"/>
<path d="M424 280.4h0.01M425.7 262.8h0.01M428 250.6h0.01M430.4 240.8h0.01M433.3 236.6h0.01M436.2 237.2h0.01M439.1 243h0.01M443.2 251.2h0.01M449 260.5h0.01M455 270.5h0.01M461.3 277.5h0.01M469 281.6h0.01M477.7 283h0.01M484.1 283h0.01M490.5 283h0.01M496.9 283h0.01M503.3 283h0.01M509.7 283h0.01M516.1 283h0.01M522.5 283h0.01M528.9 283h0.01M535.3 283h0.01M541.7 283h0.01M548.1 283h0.01M554.5 283h0.01M560.9 283h0.01M567.3 283h0.01M573.7 283h0.01M415.7 283h0.01M418.3 283h0.01M420.9 283h0.01" stroke="#8c2a8a" stroke-width="1.9" stroke-linecap="round" fill="none"/>
<rect x="490.4" y="231.7" width="100.5" height="8.4" fill="#fff"/>
<text x="491.6" y="238.7" font-size="7.2">Rd : 25.05 ± 10.04 PDI : 0.161</text>
<rect x="484.2" y="246.7" width="100.5" height="8.4" fill="#fff"/>
<text x="485.4" y="253.7" font-size="7.2">Rd : 24.66 ± 9.861 PDI : 0.160</text>
<rect x="474.7" y="258" width="104.5" height="8.4" fill="#fff"/>
<text x="475.9" y="265.1" font-size="7.5">Rd : 24.94 ± 9.617 PDI : 0.149</text>
<rect x="468.5" y="270.6" width="104.5" height="8.4" fill="#fff"/>
<text x="469.7" y="277.7" font-size="7.5">Rd : 25.53 ± 9.854 PDI : 0.149</text>
<path d="M406.4 225.8 L573.6 225.8 L573.6 290.3 L406.4 290.3 L406.4 225.8" stroke="#2a9130" stroke-width="1.2" fill="none"/>
<line x1="592.1" y1="186.5" x2="592.1" y2="240.2" stroke="#2a9130" stroke-width="1.2"/>
<line x1="406.4" y1="225.8" x2="452.9" y2="186.5" stroke="#2a9130" stroke-width="1.2"/>
<line x1="573.6" y1="225.8" x2="592.1" y2="186.5" stroke="#2a9130" stroke-width="1.2"/>
<line x1="573.6" y1="290.3" x2="592.1" y2="240.2" stroke="#2a9130" stroke-width="1.2"/>
<line x1="404.4" y1="290.3" x2="406.4" y2="290.3" stroke="#555" stroke-width="0.6"/>
<line x1="404.4" y1="282.2" x2="406.4" y2="282.2" stroke="#555" stroke-width="0.6"/>
<line x1="404.4" y1="274.2" x2="406.4" y2="274.2" stroke="#555" stroke-width="0.6"/>
<line x1="404.4" y1="266.1" x2="406.4" y2="266.1" stroke="#555" stroke-width="0.6"/>
<line x1="404.4" y1="258.1" x2="406.4" y2="258.1" stroke="#555" stroke-width="0.6"/>
<line x1="404.4" y1="250" x2="406.4" y2="250" stroke="#555" stroke-width="0.6"/>
<line x1="404.4" y1="241.9" x2="406.4" y2="241.9" stroke="#555" stroke-width="0.6"/>
<line x1="404.4" y1="233.9" x2="406.4" y2="233.9" stroke="#555" stroke-width="0.6"/>
<line x1="404.4" y1="225.8" x2="406.4" y2="225.8" stroke="#555" stroke-width="0.6"/>
<text x="402.3" y="293.6" font-size="9.3" text-anchor="end">0</text>
<text x="402.3" y="277.5" font-size="9.3" text-anchor="end">5</text>
<text x="402.3" y="261.4" font-size="9.3" text-anchor="end">10</text>
<text x="402.3" y="245.3" font-size="9.3" text-anchor="end">15</text>
<text x="402.3" y="229.1" font-size="9.3" text-anchor="end">20</text>
<text x="406.4" y="303.3" font-size="9.3" text-anchor="middle">0</text>
<text x="439.7" y="303.3" font-size="9.3" text-anchor="middle">40</text>
<text x="473.1" y="303.3" font-size="9.3" text-anchor="middle">80</text>
<text x="506.4" y="303.3" font-size="9.3" text-anchor="middle">120</text>
<text x="539.8" y="303.3" font-size="9.3" text-anchor="middle">160</text>
<text x="573.1" y="303.3" font-size="9.3" text-anchor="middle">200</text>
<text x="482.5" y="202.2" fill="#11901a"><tspan font-size="13.1" dy="0">G</tspan><tspan font-size="9.4" dy="3.3">DIII</tspan><tspan font-size="13.1" dy="-3.3">-Ferritin</tspan></text>
<text x="385.8" y="257.5" font-size="11.4" text-anchor="middle" transform="rotate(-90 385.8 257.5)">Normalized Intensity (%)</text>
<text x="486" y="321.4" font-size="11.4" text-anchor="middle">Hydrodynamic Diameter (nm)</text>
<line x1="574.7" y1="283" x2="577.9" y2="283" stroke="#a84aa6" stroke-width="0.9"/>
<text x="580.7" y="286.1" font-size="8.4" fill="#a84aa6">0d</text>
<line x1="579.7" y1="269.3" x2="582.9" y2="269.3" stroke="#a84aa6" stroke-width="0.9"/>
<text x="585.6" y="272.4" font-size="8.4" fill="#a84aa6">5d</text>
<line x1="584.3" y1="256.9" x2="587.5" y2="256.9" stroke="#a84aa6" stroke-width="0.9"/>
<text x="590" y="260" font-size="8.4" fill="#a84aa6">10d</text>
<line x1="588.5" y1="245.5" x2="591.7" y2="245.5" stroke="#a84aa6" stroke-width="0.9"/>
<text x="594" y="248.6" font-size="8.4" fill="#a84aa6">15d</text>
<path d="M140.9 446.2 L181.8 396.4 L181.8 342.9" stroke="#e2e2e2" stroke-width="0.6" fill="none"/>
<path d="M174.4 446.2 L209.6 396.4 L209.6 342.9" stroke="#e2e2e2" stroke-width="0.6" fill="none"/>
<path d="M207.9 446.2 L237.5 396.4 L237.5 342.9" stroke="#e2e2e2" stroke-width="0.6" fill="none"/>
<path d="M241.4 446.2 L265.3 396.4 L265.3 342.9" stroke="#e2e2e2" stroke-width="0.6" fill="none"/>
<path d="M107.4 435.5 L154 387.5 L293.2 387.5" stroke="#e2e2e2" stroke-width="0.6" fill="none"/>
<path d="M107.4 424.7 L154 378.6 L293.2 378.6" stroke="#e2e2e2" stroke-width="0.6" fill="none"/>
<path d="M107.4 414 L154 369.6 L293.2 369.6" stroke="#e2e2e2" stroke-width="0.6" fill="none"/>
<path d="M107.4 403.3 L154 360.7 L293.2 360.7" stroke="#e2e2e2" stroke-width="0.6" fill="none"/>
<path d="M107.4 392.5 L154 351.8 L293.2 351.8" stroke="#e2e2e2" stroke-width="0.6" fill="none"/>
<line x1="114.2" y1="438.9" x2="114.2" y2="376.1" stroke="#e2e2e2" stroke-width="0.6"/>
<line x1="126.9" y1="425.3" x2="126.9" y2="365.5" stroke="#e2e2e2" stroke-width="0.6"/>
<line x1="138.5" y1="413" x2="138.5" y2="355.8" stroke="#e2e2e2" stroke-width="0.6"/>
<line x1="149.1" y1="401.7" x2="149.1" y2="347" stroke="#e2e2e2" stroke-width="0.6"/>
<line x1="124.2" y1="446.2" x2="124.2" y2="448.4" stroke="#555" stroke-width="0.6"/>
<line x1="140.9" y1="446.2" x2="140.9" y2="448.4" stroke="#555" stroke-width="0.6"/>
<line x1="157.7" y1="446.2" x2="157.7" y2="448.4" stroke="#555" stroke-width="0.6"/>
<line x1="174.4" y1="446.2" x2="174.4" y2="448.4" stroke="#555" stroke-width="0.6"/>
<line x1="191.2" y1="446.2" x2="191.2" y2="448.4" stroke="#555" stroke-width="0.6"/>
<line x1="207.9" y1="446.2" x2="207.9" y2="448.4" stroke="#555" stroke-width="0.6"/>
<line x1="224.7" y1="446.2" x2="224.7" y2="448.4" stroke="#555" stroke-width="0.6"/>
<line x1="241.4" y1="446.2" x2="241.4" y2="448.4" stroke="#555" stroke-width="0.6"/>
<line x1="258.1" y1="446.2" x2="258.1" y2="448.4" stroke="#555" stroke-width="0.6"/>
<path d="M154 342.9 L154 396.4 L293.2 396.4" stroke="#2a9130" stroke-width="1.2" fill="none"/>
<path d="M154 342.9 L293.2 342.9" stroke="#2a9130" stroke-width="1.2" fill="none"/>
<line x1="107.4" y1="446.2" x2="154" y2="396.4" stroke="#2a9130" stroke-width="1.2"/>
<path d="M149.5 401.7 L163.2 401.7 L164.6 387.8 L165.1 383.8 L166.2 376.6 L167.7 370.5 L169.3 367.7 L170.8 366.9 L172.3 367.5 L173.8 369.4 L176.9 375.6 L180 381.7 L183 386.8 L187.1 390.9 L191.2 393.5 L196.3 394.8 L201.4 395.1 L208 394.7 L215 394.1 L222 393.5 L229 393.3 L236 393.5 L243 394.1 L250 394.9 L257 395.7 L264 396.4 L271 396.9 L278 397.3 L285 397.5 L290.5 397.7 L291.3 401.7 Z" fill="#7f88c6" fill-opacity="0.7" stroke="none"/>
<path d="M149.5 401.7 L163.2 401.7 L164.6 387.8 L165.1 383.8 L166.2 376.6 L167.7 370.5 L169.3 367.7 L170.8 366.9 L172.3 367.5 L173.8 369.4 L176.9 375.6 L180 381.7 L183 386.8 L187.1 390.9 L191.2 393.5 L196.3 394.8 L201.4 395.1 L208 394.7 L215 394.1 L222 393.5 L229 393.3 L236 393.5 L243 394.1 L250 394.9 L257 395.7 L264 396.4 L271 396.9 L278 397.3 L285 397.5 L290.5 397.7 L291.3 401.7" fill="none" stroke="#5f6ab3" stroke-width="0.7" stroke-opacity="0.9"/>
<line x1="149.5" y1="401.7" x2="163.2" y2="401.7" stroke="#5f6ab3" stroke-width="1.7"/>
<path d="M164.6 387.8h0.01M165.1 383.8h0.01M166.2 376.6h0.01M167.7 370.5h0.01M169.3 367.7h0.01M170.8 366.9h0.01M172.3 367.5h0.01M173.8 369.4h0.01M176.9 375.6h0.01M180 381.7h0.01M183 386.8h0.01M187.1 390.9h0.01M191.2 393.5h0.01M196.3 394.8h0.01M201.4 395.1h0.01M208 394.7h0.01M215 394.1h0.01M222 393.5h0.01M229 393.3h0.01M236 393.5h0.01M243 394.1h0.01M250 394.9h0.01M257 395.7h0.01M264 396.4h0.01M271 396.9h0.01M278 397.3h0.01M285 397.5h0.01M151.5 401.7h0.01M154.1 401.7h0.01M156.7 401.7h0.01M159.3 401.7h0.01M161.9 401.7h0.01" stroke="#4a55a3" stroke-width="1.9" stroke-linecap="round" fill="none"/>
<path d="M138.9 413 L151.9 413 L152.9 389.5 L153.4 380.3 L154.4 371.1 L155.4 366 L156.4 364.3 L157.5 364 L158.8 365 L160 367.6 L161.6 375.2 L162.6 381.4 L163.6 387.5 L165.7 393.6 L168.7 398.7 L172.8 402.8 L177.9 404.9 L184 406.4 L190.2 407.9 L196.3 411 L200.4 412.5 L205 413 L287.1 413 Z" fill="#7f88c6" fill-opacity="0.7" stroke="none"/>
<path d="M138.9 413 L151.9 413 L152.9 389.5 L153.4 380.3 L154.4 371.1 L155.4 366 L156.4 364.3 L157.5 364 L158.8 365 L160 367.6 L161.6 375.2 L162.6 381.4 L163.6 387.5 L165.7 393.6 L168.7 398.7 L172.8 402.8 L177.9 404.9 L184 406.4 L190.2 407.9 L196.3 411 L200.4 412.5 L205 413 L287.1 413" fill="none" stroke="#5f6ab3" stroke-width="0.7" stroke-opacity="0.9"/>
<line x1="138.9" y1="413" x2="151.9" y2="413" stroke="#5f6ab3" stroke-width="1.7"/>
<path d="M152.9 389.5h0.01M153.4 380.3h0.01M154.4 371.1h0.01M155.4 366h0.01M156.4 364.3h0.01M157.5 364h0.01M158.8 365h0.01M160 367.6h0.01M161.6 375.2h0.01M162.6 381.4h0.01M163.6 387.5h0.01M165.7 393.6h0.01M168.7 398.7h0.01M172.8 402.8h0.01M177.9 404.9h0.01M184 406.4h0.01M190.2 407.9h0.01M196.3 411h0.01M200.4 412.5h0.01M205 413h0.01M207.6 413h0.01M210.2 413h0.01M212.8 413h0.01M215.4 413h0.01M218 413h0.01M220.6 413h0.01M223.2 413h0.01M225.8 413h0.01M228.4 413h0.01M231 413h0.01M233.6 413h0.01M236.2 413h0.01M238.8 413h0.01M241.4 413h0.01M244 413h0.01M246.6 413h0.01M249.2 413h0.01M251.8 413h0.01M254.4 413h0.01M257 413h0.01M259.6 413h0.01M262.2 413h0.01M264.8 413h0.01M267.4 413h0.01M270 413h0.01M272.6 413h0.01M275.2 413h0.01M277.8 413h0.01M280.4 413h0.01M283 413h0.01M285.6 413h0.01M140.9 413h0.01M143.5 413h0.01M146.1 413h0.01M148.7 413h0.01M151.3 413h0.01" stroke="#4a55a3" stroke-width="1.9" stroke-linecap="round" fill="none"/>
<path d="M127.4 425.3 L138.9 425.3 L140.1 417 L140.6 411.3 L141.6 403 L142.7 393.8 L143.7 385.7 L145.2 380.6 L146.9 376.5 L148.8 374.9 L150.1 375.7 L151.3 377.5 L152.9 382.6 L156.3 389.4 L159.3 397.8 L162.9 406.2 L167.1 414.6 L171.9 423 L176.6 425.3 L282.6 425.3 Z" fill="#7f88c6" fill-opacity="0.7" stroke="none"/>
<path d="M127.4 425.3 L138.9 425.3 L140.1 417 L140.6 411.3 L141.6 403 L142.7 393.8 L143.7 385.7 L145.2 380.6 L146.9 376.5 L148.8 374.9 L150.1 375.7 L151.3 377.5 L152.9 382.6 L156.3 389.4 L159.3 397.8 L162.9 406.2 L167.1 414.6 L171.9 423 L176.6 425.3 L282.6 425.3" fill="none" stroke="#5f6ab3" stroke-width="0.7" stroke-opacity="0.9"/>
<line x1="127.4" y1="425.3" x2="138.9" y2="425.3" stroke="#5f6ab3" stroke-width="1.7"/>
<path d="M140.1 417h0.01M140.6 411.3h0.01M141.6 403h0.01M142.7 393.8h0.01M143.7 385.7h0.01M145.2 380.6h0.01M146.9 376.5h0.01M148.8 374.9h0.01M150.1 375.7h0.01M151.3 377.5h0.01M152.9 382.6h0.01M156.3 389.4h0.01M159.3 397.8h0.01M162.9 406.2h0.01M167.1 414.6h0.01M171.9 423h0.01M176.6 425.3h0.01M179.2 425.3h0.01M181.8 425.3h0.01M184.4 425.3h0.01M187 425.3h0.01M189.6 425.3h0.01M192.2 425.3h0.01M194.8 425.3h0.01M197.4 425.3h0.01M200 425.3h0.01M202.6 425.3h0.01M205.2 425.3h0.01M207.8 425.3h0.01M210.4 425.3h0.01M213 425.3h0.01M215.6 425.3h0.01M218.2 425.3h0.01M220.8 425.3h0.01M223.4 425.3h0.01M226 425.3h0.01M228.6 425.3h0.01M231.2 425.3h0.01M233.8 425.3h0.01M236.4 425.3h0.01M239 425.3h0.01M241.6 425.3h0.01M244.2 425.3h0.01M246.8 425.3h0.01M249.4 425.3h0.01M252 425.3h0.01M254.6 425.3h0.01M257.2 425.3h0.01M259.8 425.3h0.01M262.4 425.3h0.01M265 425.3h0.01M267.6 425.3h0.01M270.2 425.3h0.01M272.8 425.3h0.01M275.4 425.3h0.01M278 425.3h0.01M280.6 425.3h0.01M129.4 425.3h0.01M132 425.3h0.01M134.6 425.3h0.01M137.2 425.3h0.01" stroke="#4a55a3" stroke-width="1.9" stroke-linecap="round" fill="none"/>
<path d="M114.7 438.9 L122.2 438.9 L124 435.9 L127 426.3 L131.1 412 L135.3 400 L137.4 397.7 L139.5 397 L141.9 397.4 L144.3 398.8 L150.3 406 L156.3 416.7 L162.3 427.5 L168.3 435.9 L174.3 438.9 L277.7 438.9 Z" fill="#7f88c6" fill-opacity="0.7" stroke="none"/>
<path d="M114.7 438.9 L122.2 438.9 L124 435.9 L127 426.3 L131.1 412 L135.3 400 L137.4 397.7 L139.5 397 L141.9 397.4 L144.3 398.8 L150.3 406 L156.3 416.7 L162.3 427.5 L168.3 435.9 L174.3 438.9 L277.7 438.9" fill="none" stroke="#5f6ab3" stroke-width="0.7" stroke-opacity="0.9"/>
<line x1="114.7" y1="438.9" x2="122.2" y2="438.9" stroke="#5f6ab3" stroke-width="1.7"/>
<path d="M124 435.9h0.01M127 426.3h0.01M131.1 412h0.01M135.3 400h0.01M137.4 397.7h0.01M139.5 397h0.01M141.9 397.4h0.01M144.3 398.8h0.01M150.3 406h0.01M156.3 416.7h0.01M162.3 427.5h0.01M168.3 435.9h0.01M174.3 438.9h0.01M176.9 438.9h0.01M179.5 438.9h0.01M182.1 438.9h0.01M184.7 438.9h0.01M187.3 438.9h0.01M189.9 438.9h0.01M192.5 438.9h0.01M195.1 438.9h0.01M197.7 438.9h0.01M200.3 438.9h0.01M202.9 438.9h0.01M205.5 438.9h0.01M208.1 438.9h0.01M210.7 438.9h0.01M213.3 438.9h0.01M215.9 438.9h0.01M218.5 438.9h0.01M221.1 438.9h0.01M223.7 438.9h0.01M226.3 438.9h0.01M228.9 438.9h0.01M231.5 438.9h0.01M234.1 438.9h0.01M236.7 438.9h0.01M239.3 438.9h0.01M241.9 438.9h0.01M244.5 438.9h0.01M247.1 438.9h0.01M249.7 438.9h0.01M252.3 438.9h0.01M254.9 438.9h0.01M257.5 438.9h0.01M260.1 438.9h0.01M262.7 438.9h0.01M265.3 438.9h0.01M267.9 438.9h0.01M270.5 438.9h0.01M273.1 438.9h0.01M275.7 438.9h0.01M116.7 438.9h0.01M119.3 438.9h0.01M121.9 438.9h0.01" stroke="#4a55a3" stroke-width="1.9" stroke-linecap="round" fill="none"/>
<rect x="192.3" y="381.9" width="99.8" height="8.4" fill="#fff"/>
<text x="193.5" y="388.9" font-size="7.1">Rd : 29.62 ± 12.81 PDI : 0.156</text>
<rect x="188.9" y="401.2" width="99.8" height="8.4" fill="#fff"/>
<text x="190.1" y="408.2" font-size="7.1">Rd : 31.87 ± 13.16 PDI : 0.185</text>
<rect x="174.5" y="415.4" width="100.7" height="8.4" fill="#fff"/>
<text x="175.7" y="422.4" font-size="7.2">Rd : 30.08 ± 8.167 PDI : 0.182</text>
<rect x="172" y="428.8" width="100.1" height="8.4" fill="#fff"/>
<text x="173.2" y="435.8" font-size="7.2">Rd : 31.44 ± 11.44 PDI : 0.130</text>
<path d="M107.4 381.8 L275 381.8 L275 446.2 L107.4 446.2 L107.4 381.8" stroke="#2a9130" stroke-width="1.2" fill="none"/>
<line x1="293.2" y1="342.9" x2="293.2" y2="396.4" stroke="#2a9130" stroke-width="1.2"/>
<line x1="107.4" y1="381.8" x2="154" y2="342.9" stroke="#2a9130" stroke-width="1.2"/>
<line x1="275" y1="381.8" x2="293.2" y2="342.9" stroke="#2a9130" stroke-width="1.2"/>
<line x1="275" y1="446.2" x2="293.2" y2="396.4" stroke="#2a9130" stroke-width="1.2"/>
<line x1="105.4" y1="446.2" x2="107.4" y2="446.2" stroke="#555" stroke-width="0.6"/>
<line x1="105.4" y1="435.5" x2="107.4" y2="435.5" stroke="#555" stroke-width="0.6"/>
<line x1="105.4" y1="424.7" x2="107.4" y2="424.7" stroke="#555" stroke-width="0.6"/>
<line x1="105.4" y1="414" x2="107.4" y2="414" stroke="#555" stroke-width="0.6"/>
<line x1="105.4" y1="403.3" x2="107.4" y2="403.3" stroke="#555" stroke-width="0.6"/>
<line x1="105.4" y1="392.5" x2="107.4" y2="392.5" stroke="#555" stroke-width="0.6"/>
<line x1="105.4" y1="381.8" x2="107.4" y2="381.8" stroke="#555" stroke-width="0.6"/>
<text x="103.6" y="449.5" font-size="9.3" text-anchor="end">0</text>
<text x="103.6" y="428.1" font-size="9.3" text-anchor="end">2</text>
<text x="103.6" y="406.6" font-size="9.3" text-anchor="end">4</text>
<text x="103.6" y="385.1" font-size="9.3" text-anchor="end">6</text>
<text x="107.4" y="459.2" font-size="9.3" text-anchor="middle">0</text>
<text x="140.9" y="459.2" font-size="9.3" text-anchor="middle">40</text>
<text x="174.4" y="459.2" font-size="9.3" text-anchor="middle">80</text>
<text x="207.9" y="459.2" font-size="9.3" text-anchor="middle">120</text>
<text x="241.4" y="459.2" font-size="9.3" text-anchor="middle">160</text>
<text x="274.9" y="459.2" font-size="9.3" text-anchor="middle">200</text>
<text x="198.5" y="360.6" fill="#11901a"><tspan font-size="13.3" dy="0">G</tspan><tspan font-size="9.6" dy="3.3">DIII</tspan><tspan font-size="13.3" dy="-3.3">-Fc</tspan></text>
<text x="89.8" y="416.8" font-size="11.7" text-anchor="middle" transform="rotate(-90 89.8 416.8)">Normalized Intensity (%)</text>
<text x="187.5" y="475.6" font-size="11.5" text-anchor="middle">Hydrodynamic Diameter (nm)</text>
<line x1="276.1" y1="438.9" x2="279.3" y2="438.9" stroke="#6b76bd" stroke-width="0.9"/>
<text x="282.1" y="442" font-size="8.4" fill="#6b76bd">0d</text>
<line x1="281" y1="425.3" x2="284.2" y2="425.3" stroke="#6b76bd" stroke-width="0.9"/>
<text x="286.8" y="428.4" font-size="8.4" fill="#6b76bd">5d</text>
<line x1="285.5" y1="413" x2="288.7" y2="413" stroke="#6b76bd" stroke-width="0.9"/>
<text x="291.2" y="416.1" font-size="8.4" fill="#6b76bd">10d</text>
<line x1="289.7" y1="401.7" x2="292.9" y2="401.7" stroke="#6b76bd" stroke-width="0.9"/>
<text x="295.2" y="404.8" font-size="8.4" fill="#6b76bd">15d</text>
<path d="M437.1 445.5 L481.2 391.5 L481.2 334.3" stroke="#e2e2e2" stroke-width="0.6" fill="none"/>
<path d="M465.5 445.5 L504.8 391.5 L504.8 334.3" stroke="#e2e2e2" stroke-width="0.6" fill="none"/>
<path d="M493.9 445.5 L528.5 391.5 L528.5 334.3" stroke="#e2e2e2" stroke-width="0.6" fill="none"/>
<path d="M522.2 445.5 L552.1 391.5 L552.1 334.3" stroke="#e2e2e2" stroke-width="0.6" fill="none"/>
<path d="M550.6 445.5 L575.8 391.5 L575.8 334.3" stroke="#e2e2e2" stroke-width="0.6" fill="none"/>
<path d="M408.7 431.8 L457.5 380.1 L599.4 380.1" stroke="#e2e2e2" stroke-width="0.6" fill="none"/>
<path d="M408.7 418 L457.5 368.6 L599.4 368.6" stroke="#e2e2e2" stroke-width="0.6" fill="none"/>
<path d="M408.7 404.3 L457.5 357.2 L599.4 357.2" stroke="#e2e2e2" stroke-width="0.6" fill="none"/>
<path d="M408.7 390.5 L457.5 345.7 L599.4 345.7" stroke="#e2e2e2" stroke-width="0.6" fill="none"/>
<line x1="415.8" y1="437.6" x2="415.8" y2="370.6" stroke="#e2e2e2" stroke-width="0.6"/>
<line x1="429.1" y1="422.9" x2="429.1" y2="359" stroke="#e2e2e2" stroke-width="0.6"/>
<line x1="441.2" y1="409.5" x2="441.2" y2="348.5" stroke="#e2e2e2" stroke-width="0.6"/>
<line x1="452.3" y1="397.3" x2="452.3" y2="338.8" stroke="#e2e2e2" stroke-width="0.6"/>
<line x1="422.9" y1="445.5" x2="422.9" y2="447.7" stroke="#555" stroke-width="0.6"/>
<line x1="437.1" y1="445.5" x2="437.1" y2="447.7" stroke="#555" stroke-width="0.6"/>
<line x1="451.3" y1="445.5" x2="451.3" y2="447.7" stroke="#555" stroke-width="0.6"/>
<line x1="465.5" y1="445.5" x2="465.5" y2="447.7" stroke="#555" stroke-width="0.6"/>
<line x1="479.7" y1="445.5" x2="479.7" y2="447.7" stroke="#555" stroke-width="0.6"/>
<line x1="493.9" y1="445.5" x2="493.9" y2="447.7" stroke="#555" stroke-width="0.6"/>
<line x1="508" y1="445.5" x2="508" y2="447.7" stroke="#555" stroke-width="0.6"/>
<line x1="522.2" y1="445.5" x2="522.2" y2="447.7" stroke="#555" stroke-width="0.6"/>
<line x1="536.4" y1="445.5" x2="536.4" y2="447.7" stroke="#555" stroke-width="0.6"/>
<line x1="550.6" y1="445.5" x2="550.6" y2="447.7" stroke="#555" stroke-width="0.6"/>
<line x1="564.8" y1="445.5" x2="564.8" y2="447.7" stroke="#555" stroke-width="0.6"/>
<path d="M457.5 334.3 L457.5 391.5 L599.4 391.5" stroke="#2a9130" stroke-width="1.2" fill="none"/>
<path d="M457.5 334.3 L599.4 334.3" stroke="#2a9130" stroke-width="1.2" fill="none"/>
<line x1="408.7" y1="445.5" x2="457.5" y2="391.5" stroke="#2a9130" stroke-width="1.2"/>
<path d="M452.7 397.3 L494 397.3 L497.5 349.9 L500 397.3 L597.2 397.3 Z" fill="#74b3d6" fill-opacity="0.7" stroke="none"/>
<path d="M452.7 397.3 L494 397.3 L497.5 349.9 L500 397.3 L597.2 397.3" fill="none" stroke="#3f8ebb" stroke-width="0.7" stroke-opacity="0.9"/>
<line x1="452.7" y1="397.3" x2="494" y2="397.3" stroke="#3f8ebb" stroke-width="1.7"/>
<path d="M497.5 349.9h0.01M500 397.3h0.01M503 397.3h0.01M506 397.3h0.01M509 397.3h0.01M512 397.3h0.01M515 397.3h0.01M518 397.3h0.01M521 397.3h0.01M524 397.3h0.01M527 397.3h0.01M530 397.3h0.01M533 397.3h0.01M536 397.3h0.01M539 397.3h0.01M542 397.3h0.01M545 397.3h0.01M548 397.3h0.01M551 397.3h0.01M554 397.3h0.01M557 397.3h0.01M560 397.3h0.01M563 397.3h0.01M566 397.3h0.01M569 397.3h0.01M572 397.3h0.01M575 397.3h0.01M578 397.3h0.01M581 397.3h0.01M584 397.3h0.01M587 397.3h0.01M590 397.3h0.01M593 397.3h0.01M596 397.3h0.01M454.7 397.3h0.01M457.3 397.3h0.01M459.9 397.3h0.01M462.5 397.3h0.01M465.1 397.3h0.01M467.7 397.3h0.01M470.3 397.3h0.01M472.9 397.3h0.01M475.5 397.3h0.01M478.1 397.3h0.01M480.7 397.3h0.01M483.3 397.3h0.01M485.9 397.3h0.01M488.5 397.3h0.01M491.1 397.3h0.01M493.7 397.3h0.01" stroke="#2f7aa6" stroke-width="1.9" stroke-linecap="round" fill="none"/>
<path d="M441.7 409.5 L488.9 409.5 L490.6 383.8 L493 351.9 L495.2 366.1 L497.7 409.5 L592.6 409.5 Z" fill="#74b3d6" fill-opacity="0.7" stroke="none"/>
<path d="M441.7 409.5 L488.9 409.5 L490.6 383.8 L493 351.9 L495.2 366.1 L497.7 409.5 L592.6 409.5" fill="none" stroke="#3f8ebb" stroke-width="0.7" stroke-opacity="0.9"/>
<line x1="441.7" y1="409.5" x2="488.9" y2="409.5" stroke="#3f8ebb" stroke-width="1.7"/>
<path d="M490.6 383.8h0.01M493 351.9h0.01M495.2 366.1h0.01M497.7 409.5h0.01M500.7 409.5h0.01M503.7 409.5h0.01M506.7 409.5h0.01M509.7 409.5h0.01M512.7 409.5h0.01M515.7 409.5h0.01M518.7 409.5h0.01M521.7 409.5h0.01M524.7 409.5h0.01M527.7 409.5h0.01M530.7 409.5h0.01M533.7 409.5h0.01M536.7 409.5h0.01M539.7 409.5h0.01M542.7 409.5h0.01M545.7 409.5h0.01M548.7 409.5h0.01M551.7 409.5h0.01M554.7 409.5h0.01M557.7 409.5h0.01M560.7 409.5h0.01M563.7 409.5h0.01M566.7 409.5h0.01M569.7 409.5h0.01M572.7 409.5h0.01M575.7 409.5h0.01M578.7 409.5h0.01M581.7 409.5h0.01M584.7 409.5h0.01M587.7 409.5h0.01M590.7 409.5h0.01M443.7 409.5h0.01M446.3 409.5h0.01M448.9 409.5h0.01M451.5 409.5h0.01M454.1 409.5h0.01M456.7 409.5h0.01M459.3 409.5h0.01M461.9 409.5h0.01M464.5 409.5h0.01M467.1 409.5h0.01M469.7 409.5h0.01M472.3 409.5h0.01M474.9 409.5h0.01M477.5 409.5h0.01M480.1 409.5h0.01M482.7 409.5h0.01M485.3 409.5h0.01M487.9 409.5h0.01" stroke="#2f7aa6" stroke-width="1.9" stroke-linecap="round" fill="none"/>
<path d="M429.6 422.9 L480.8 422.9 L483 388.3 L485.8 368.5 L488.3 395.3 L490.8 422.9 L587.5 422.9 Z" fill="#74b3d6" fill-opacity="0.7" stroke="none"/>
<path d="M429.6 422.9 L480.8 422.9 L483 388.3 L485.8 368.5 L488.3 395.3 L490.8 422.9 L587.5 422.9" fill="none" stroke="#3f8ebb" stroke-width="0.7" stroke-opacity="0.9"/>
<line x1="429.6" y1="422.9" x2="480.8" y2="422.9" stroke="#3f8ebb" stroke-width="1.7"/>
<path d="M483 388.3h0.01M485.8 368.5h0.01M488.3 395.3h0.01M490.8 422.9h0.01M493.8 422.9h0.01M496.8 422.9h0.01M499.8 422.9h0.01M502.8 422.9h0.01M505.8 422.9h0.01M508.8 422.9h0.01M511.8 422.9h0.01M514.8 422.9h0.01M517.8 422.9h0.01M520.8 422.9h0.01M523.8 422.9h0.01M526.8 422.9h0.01M529.8 422.9h0.01M532.8 422.9h0.01M535.8 422.9h0.01M538.8 422.9h0.01M541.8 422.9h0.01M544.8 422.9h0.01M547.8 422.9h0.01M550.8 422.9h0.01M553.8 422.9h0.01M556.8 422.9h0.01M559.8 422.9h0.01M562.8 422.9h0.01M565.8 422.9h0.01M568.8 422.9h0.01M571.8 422.9h0.01M574.8 422.9h0.01M577.8 422.9h0.01M580.8 422.9h0.01M583.8 422.9h0.01M431.6 422.9h0.01M434.2 422.9h0.01M436.8 422.9h0.01M439.4 422.9h0.01M442 422.9h0.01M444.6 422.9h0.01M447.2 422.9h0.01M449.8 422.9h0.01M452.4 422.9h0.01M455 422.9h0.01M457.6 422.9h0.01M460.2 422.9h0.01M462.8 422.9h0.01M465.4 422.9h0.01M468 422.9h0.01M470.6 422.9h0.01M473.2 422.9h0.01M475.8 422.9h0.01M478.4 422.9h0.01" stroke="#2f7aa6" stroke-width="1.9" stroke-linecap="round" fill="none"/>
<path d="M416.3 437.6 L472.6 437.6 L475.1 401.1 L477.6 376 L483.9 437.6 L582 437.6 Z" fill="#74b3d6" fill-opacity="0.7" stroke="none"/>
<path d="M416.3 437.6 L472.6 437.6 L475.1 401.1 L477.6 376 L483.9 437.6 L582 437.6" fill="none" stroke="#3f8ebb" stroke-width="0.7" stroke-opacity="0.9"/>
<line x1="416.3" y1="437.6" x2="472.6" y2="437.6" stroke="#3f8ebb" stroke-width="1.7"/>
<path d="M475.1 401.1h0.01M477.6 376h0.01M483.9 437.6h0.01M486.9 437.6h0.01M489.9 437.6h0.01M492.9 437.6h0.01M495.9 437.6h0.01M498.9 437.6h0.01M501.9 437.6h0.01M504.9 437.6h0.01M507.9 437.6h0.01M510.9 437.6h0.01M513.9 437.6h0.01M516.9 437.6h0.01M519.9 437.6h0.01M522.9 437.6h0.01M525.9 437.6h0.01M528.9 437.6h0.01M531.9 437.6h0.01M534.9 437.6h0.01M537.9 437.6h0.01M540.9 437.6h0.01M543.9 437.6h0.01M546.9 437.6h0.01M549.9 437.6h0.01M552.9 437.6h0.01M555.9 437.6h0.01M558.9 437.6h0.01M561.9 437.6h0.01M564.9 437.6h0.01M567.9 437.6h0.01M570.9 437.6h0.01M573.9 437.6h0.01M576.9 437.6h0.01M579.9 437.6h0.01M418.3 437.6h0.01M420.9 437.6h0.01M423.5 437.6h0.01M426.1 437.6h0.01M428.7 437.6h0.01M431.3 437.6h0.01M433.9 437.6h0.01M436.5 437.6h0.01M439.1 437.6h0.01M441.7 437.6h0.01M444.3 437.6h0.01M446.9 437.6h0.01M449.5 437.6h0.01M452.1 437.6h0.01M454.7 437.6h0.01M457.3 437.6h0.01M459.9 437.6h0.01M462.5 437.6h0.01M465.1 437.6h0.01M467.7 437.6h0.01M470.3 437.6h0.01" stroke="#2f7aa6" stroke-width="1.9" stroke-linecap="round" fill="none"/>
<rect x="499.7" y="382.4" width="101.2" height="8.4" fill="#fff"/>
<text x="500.9" y="389.3" font-size="7">Rd : 9.288 ± 0.1263 PDI : 0.173</text>
<rect x="496.9" y="397.8" width="101.2" height="8.4" fill="#fff"/>
<text x="498.1" y="404.7" font-size="7">Rd : 10.31 ± 0.3449 PDI : 0.159</text>
<rect x="491.5" y="411.9" width="101.2" height="8.4" fill="#fff"/>
<text x="492.7" y="418.8" font-size="7">Rd : 10.69 ± 0.3608 PDI : 0.135</text>
<rect x="484.2" y="426.4" width="100.9" height="8.4" fill="#fff"/>
<text x="485.4" y="433.3" font-size="7">Rd : 11.22 ± 0.3840 PDI : 0.158</text>
<path d="M408.7 376.8 L579 376.8 L579 445.5 L408.7 445.5 L408.7 376.8" stroke="#2a9130" stroke-width="1.2" fill="none"/>
<line x1="599.4" y1="334.3" x2="599.4" y2="391.5" stroke="#2a9130" stroke-width="1.2"/>
<line x1="408.7" y1="376.8" x2="457.5" y2="334.3" stroke="#2a9130" stroke-width="1.2"/>
<line x1="579" y1="376.8" x2="599.4" y2="334.3" stroke="#2a9130" stroke-width="1.2"/>
<line x1="579" y1="445.5" x2="599.4" y2="391.5" stroke="#2a9130" stroke-width="1.2"/>
<line x1="406.7" y1="445.5" x2="408.7" y2="445.5" stroke="#555" stroke-width="0.6"/>
<line x1="406.7" y1="438.6" x2="408.7" y2="438.6" stroke="#555" stroke-width="0.6"/>
<line x1="406.7" y1="431.8" x2="408.7" y2="431.8" stroke="#555" stroke-width="0.6"/>
<line x1="406.7" y1="424.9" x2="408.7" y2="424.9" stroke="#555" stroke-width="0.6"/>
<line x1="406.7" y1="418" x2="408.7" y2="418" stroke="#555" stroke-width="0.6"/>
<line x1="406.7" y1="411.1" x2="408.7" y2="411.1" stroke="#555" stroke-width="0.6"/>
<line x1="406.7" y1="404.3" x2="408.7" y2="404.3" stroke="#555" stroke-width="0.6"/>
<line x1="406.7" y1="397.4" x2="408.7" y2="397.4" stroke="#555" stroke-width="0.6"/>
<line x1="406.7" y1="390.5" x2="408.7" y2="390.5" stroke="#555" stroke-width="0.6"/>
<line x1="406.7" y1="383.7" x2="408.7" y2="383.7" stroke="#555" stroke-width="0.6"/>
<line x1="406.7" y1="376.8" x2="408.7" y2="376.8" stroke="#555" stroke-width="0.6"/>
<text x="404.8" y="448.8" font-size="9.3" text-anchor="end">0</text>
<text x="404.8" y="435.1" font-size="9.3" text-anchor="end">6</text>
<text x="404.8" y="421.4" font-size="9.3" text-anchor="end">12</text>
<text x="404.8" y="407.6" font-size="9.3" text-anchor="end">18</text>
<text x="404.8" y="393.9" font-size="9.3" text-anchor="end">24</text>
<text x="404.8" y="380.1" font-size="9.3" text-anchor="end">30</text>
<text x="408.7" y="458.5" font-size="9.3" text-anchor="middle">0</text>
<text x="437.1" y="458.5" font-size="9.3" text-anchor="middle">5</text>
<text x="465.5" y="458.5" font-size="9.3" text-anchor="middle">10</text>
<text x="493.9" y="458.5" font-size="9.3" text-anchor="middle">15</text>
<text x="522.2" y="458.5" font-size="9.3" text-anchor="middle">20</text>
<text x="550.6" y="458.5" font-size="9.3" text-anchor="middle">25</text>
<text x="579" y="458.5" font-size="9.3" text-anchor="middle">30</text>
<text x="521.5" y="349.6" fill="#11901a"><tspan font-size="14" dy="0">G</tspan></text>
<text x="385.3" y="410.5" font-size="11.9" text-anchor="middle" transform="rotate(-90 385.3 410.5)">Normalized Intensity (%)</text>
<text x="487.8" y="473.6" font-size="11.6" text-anchor="middle">Hydrodynamic Diameter (nm)</text>
<line x1="580.4" y1="437.6" x2="583.6" y2="437.6" stroke="#3f96c4" stroke-width="0.9"/>
<text x="586.4" y="440.7" font-size="8.4" fill="#3f96c4">0d</text>
<line x1="585.9" y1="422.9" x2="589.1" y2="422.9" stroke="#3f96c4" stroke-width="0.9"/>
<text x="591.8" y="426" font-size="8.4" fill="#3f96c4">5d</text>
<line x1="591" y1="409.5" x2="594.2" y2="409.5" stroke="#3f96c4" stroke-width="0.9"/>
<text x="596.7" y="412.6" font-size="8.4" fill="#3f96c4">10d</text>
<line x1="595.6" y1="397.3" x2="598.8" y2="397.3" stroke="#3f96c4" stroke-width="0.9"/>
<text x="601.1" y="400.4" font-size="8.4" fill="#3f96c4">15d</text>
<text x="5.6" y="504.4" font-size="17">c</text>
<text x="85.4" y="503.5" fill="#118a17"><tspan font-size="14" dy="0">G</tspan><tspan font-size="9.2" dy="3">DIII</tspan></text>
<text x="191.2" y="502.7" fill="#118a17"><tspan font-size="14" dy="0">G</tspan><tspan font-size="9.2" dy="3">DIII</tspan><tspan font-size="14" dy="-3">-Ferritin</tspan></text>
<text x="333.6" y="502.7" fill="#118a17"><tspan font-size="14" dy="0">G</tspan><tspan font-size="9.2" dy="3">DIII</tspan><tspan font-size="14" dy="-3">-Fc</tspan></text>
<text x="497.4" y="502.7" font-size="14" text-anchor="middle" fill="#118a17">G</text>
<text x="614.5" y="502.7" font-size="14" text-anchor="middle" fill="#118a17">Ferritin</text>
<line x1="95.6" y1="508.1" x2="95.6" y2="514" stroke="#000" stroke-width="2.2"/>
<path d="M92.2 513.1 L99 513.1 L95.6 517.6 Z" fill="#000"/>
<line x1="232.4" y1="508.1" x2="232.4" y2="514" stroke="#000" stroke-width="2.2"/>
<path d="M229 513.1 L235.8 513.1 L232.4 517.6 Z" fill="#000"/>
<line x1="361.6" y1="508.1" x2="361.6" y2="514" stroke="#000" stroke-width="2.2"/>
<path d="M358.2 513.1 L365 513.1 L361.6 517.6 Z" fill="#000"/>
<line x1="497.6" y1="508.1" x2="497.6" y2="514" stroke="#000" stroke-width="2.2"/>
<path d="M494.2 513.1 L501 513.1 L497.6 517.6 Z" fill="#000"/>
<line x1="617.4" y1="508.1" x2="617.4" y2="514" stroke="#000" stroke-width="2.2"/>
<path d="M614 513.1 L620.8 513.1 L617.4 517.6 Z" fill="#000"/>
<path d="M38.6 599.3 L38.8 599.2 L39 599.2 L39.2 599.1 L39.4 599.1 L40.1 598.9 L40.9 598.6 L41.7 598.4 L42.4 598.2 L43.2 598 L44 597.8 L44.7 597.6 L45.5 597.4 L46.3 597.2 L47 596.9 L47.8 596.7 L48.6 596.5 L49.4 596.3 L50.1 596.1 L50.9 595.9 L51.7 595.8 L52.4 595.6 L53.2 595.4 L54 595.2 L54.7 595 L55.5 594.8 L56.3 594.6 L57 594.4 L57.8 594.2 L58.6 594.1 L59.3 593.9 L60.1 593.7 L60.9 593.5 L61.6 593.3 L62.4 593.2 L63.2 593 L63.9 592.8 L64.7 592.7 L65.5 592.5 L66.2 592.3 L67 592.1 L67.8 592 L68.6 591.8 L69.3 591.7 L70.1 591.5 L70.9 591.3 L71.6 591.2 L72.4 591 L73.2 590.9 L73.9 590.7 L74.7 590.6 L75.5 590.4 L76.2 590.2 L77 590.1 L78.9 590.1 L80.8 590.1 L82.8 590.2 L84.7 590.2 L86.6 590.2 L88.5 590.2 L90.4 590.2 L92.4 590.2 L94.3 590.3 L96.2 590.3 L98.1 590.3 L100 590.3 L102 590.3 L103.9 590.3 L105.8 590.4 L107.7 590.4 L109.6 590.4 L111.6 590.4 L113.5 590.4 L115.4 590.4 L117.3 590.4 L119.2 590.5 L121.2 590.5 L123.1 590.5 L125 590.5 L126.9 590.5 L128.8 590.5 L130.8 590.6 L132.7 590.6 L134.6 590.6 L136.5 590.6 L138.4 590.6 L140.4 590.6 L142.3 590.6 L144.2 590.6 L146.1 590.7 L148 590.7 L150 590.7 L151.9 590.7 L153.8 590.7" stroke="#36a68b" stroke-width="1.4" fill="none" stroke-linejoin="round"/>
<path d="M38.6 599.3 L38.8 599.2 L39 599.1 L39.2 599 L39.4 598.9 L40.1 598.5 L40.9 598.1 L41.7 597.7 L42.4 597.3 L43.2 596.9 L44 596.5 L44.7 596.1 L45.5 595.7 L46.3 595.4 L47 595 L47.8 594.6 L48.6 594.2 L49.4 593.9 L50.1 593.5 L50.9 593.2 L51.7 592.8 L52.4 592.4 L53.2 592.1 L54 591.7 L54.7 591.4 L55.5 591 L56.3 590.7 L57 590.4 L57.8 590 L58.6 589.7 L59.3 589.4 L60.1 589 L60.9 588.7 L61.6 588.4 L62.4 588.1 L63.2 587.7 L63.9 587.4 L64.7 587.1 L65.5 586.8 L66.2 586.5 L67 586.2 L67.8 585.9 L68.6 585.6 L69.3 585.3 L70.1 585 L70.9 584.7 L71.6 584.4 L72.4 584.1 L73.2 583.8 L73.9 583.5 L74.7 583.3 L75.5 583 L76.2 582.7 L77 582.4 L78.9 582.4 L80.8 582.5 L82.8 582.5 L84.7 582.5 L86.6 582.5 L88.5 582.6 L90.4 582.6 L92.4 582.6 L94.3 582.6 L96.2 582.6 L98.1 582.7 L100 582.7 L102 582.7 L103.9 582.7 L105.8 582.8 L107.7 582.8 L109.6 582.8 L111.6 582.8 L113.5 582.8 L115.4 582.8 L117.3 582.9 L119.2 582.9 L121.2 582.9 L123.1 582.9 L125 582.9 L126.9 583 L128.8 583 L130.8 583 L132.7 583 L134.6 583 L136.5 583 L138.4 583.1 L140.4 583.1 L142.3 583.1 L144.2 583.1 L146.1 583.1 L148 583.1 L150 583.2 L151.9 583.2 L153.8 583.2" stroke="#8cbd9f" stroke-width="1.3" fill="none" stroke-linejoin="round"/>
<path d="M38.6 599.3 L38.8 599.1 L39 599 L39.2 598.8 L39.4 598.6 L40.1 597.9 L40.9 597.2 L41.7 596.6 L42.4 595.9 L43.2 595.2 L44 594.6 L44.7 593.9 L45.5 593.2 L46.3 592.6 L47 591.9 L47.8 591.3 L48.6 590.6 L49.4 590 L50.1 589.4 L50.9 588.7 L51.7 588.1 L52.4 587.5 L53.2 586.9 L54 586.2 L54.7 585.6 L55.5 585 L56.3 584.4 L57 583.8 L57.8 583.2 L58.6 582.6 L59.3 582 L60.1 581.5 L60.9 580.9 L61.6 580.3 L62.4 579.7 L63.2 579.1 L63.9 578.6 L64.7 578 L65.5 577.4 L66.2 576.9 L67 576.3 L67.8 575.8 L68.6 575.2 L69.3 574.7 L70.1 574.1 L70.9 573.6 L71.6 573.1 L72.4 572.5 L73.2 572 L73.9 571.5 L74.7 570.9 L75.5 570.4 L76.2 569.9 L77 569.4 L78.9 569.4 L80.8 569.5 L82.8 569.5 L84.7 569.5 L86.6 569.6 L88.5 569.6 L90.4 569.6 L92.4 569.7 L94.3 569.7 L96.2 569.7 L98.1 569.8 L100 569.8 L102 569.8 L103.9 569.8 L105.8 569.9 L107.7 569.9 L109.6 569.9 L111.6 570 L113.5 570 L115.4 570 L117.3 570 L119.2 570.1 L121.2 570.1 L123.1 570.1 L125 570.2 L126.9 570.2 L128.8 570.2 L130.8 570.2 L132.7 570.3 L134.6 570.3 L136.5 570.3 L138.4 570.3 L140.4 570.4 L142.3 570.4 L144.2 570.4 L146.1 570.4 L148 570.5 L150 570.5 L151.9 570.5 L153.8 570.5" stroke="#f2d8ba" stroke-width="1.3" fill="none" stroke-linejoin="round"/>
<path d="M38.6 599.3 L38.8 598.9 L39 598.4 L39.2 598 L39.4 597.5 L40.1 595.8 L40.9 594.1 L41.7 592.5 L42.4 590.9 L43.2 589.4 L44 587.9 L44.7 586.5 L45.5 585.1 L46.3 583.8 L47 582.5 L47.8 581.2 L48.6 580 L49.4 578.8 L50.1 577.6 L50.9 576.5 L51.7 575.4 L52.4 574.4 L53.2 573.3 L54 572.4 L54.7 571.4 L55.5 570.5 L56.3 569.6 L57 568.7 L57.8 567.8 L58.6 567 L59.3 566.2 L60.1 565.5 L60.9 564.7 L61.6 564 L62.4 563.3 L63.2 562.6 L63.9 561.9 L64.7 561.3 L65.5 560.7 L66.2 560.1 L67 559.5 L67.8 558.9 L68.6 558.3 L69.3 557.8 L70.1 557.3 L70.9 556.8 L71.6 556.3 L72.4 555.8 L73.2 555.4 L73.9 554.9 L74.7 554.5 L75.5 554.1 L76.2 553.7 L77 553.3 L78.9 553.3 L80.8 553.3 L82.8 553.4 L84.7 553.4 L86.6 553.5 L88.5 553.5 L90.4 553.5 L92.4 553.5 L94.3 553.6 L96.2 553.6 L98.1 553.6 L100 553.7 L102 553.7 L103.9 553.7 L105.8 553.8 L107.7 553.8 L109.6 553.8 L111.6 553.9 L113.5 553.9 L115.4 553.9 L117.3 553.9 L119.2 554 L121.2 554 L123.1 554 L125 554.1 L126.9 554.1 L128.8 554.1 L130.8 554.1 L132.7 554.2 L134.6 554.2 L136.5 554.2 L138.4 554.2 L140.4 554.3 L142.3 554.3 L144.2 554.3 L146.1 554.3 L148 554.4 L150 554.4 L151.9 554.4 L153.8 554.4" stroke="#f1b14e" stroke-width="1.3" fill="none" stroke-linejoin="round"/>
<path d="M38.6 599.3 L38.8 598.4 L39 597.5 L39.2 596.6 L39.4 595.7 L40.1 592.3 L40.9 589.1 L41.7 586.1 L42.4 583.3 L43.2 580.6 L44 578 L44.7 575.6 L45.5 573.4 L46.3 571.3 L47 569.2 L47.8 567.4 L48.6 565.6 L49.4 563.9 L50.1 562.3 L50.9 560.8 L51.7 559.4 L52.4 558 L53.2 556.8 L54 555.6 L54.7 554.4 L55.5 553.4 L56.3 552.4 L57 551.4 L57.8 550.5 L58.6 549.7 L59.3 548.9 L60.1 548.1 L60.9 547.4 L61.6 546.8 L62.4 546.1 L63.2 545.5 L63.9 545 L64.7 544.5 L65.5 544 L66.2 543.5 L67 543 L67.8 542.6 L68.6 542.2 L69.3 541.8 L70.1 541.5 L70.9 541.2 L71.6 540.8 L72.4 540.5 L73.2 540.3 L73.9 540 L74.7 539.8 L75.5 539.5 L76.2 539.3 L77 539.1 L78.9 541.6 L80.8 541.7 L82.8 541.7 L84.7 541.8 L86.6 541.8 L88.5 541.9 L90.4 541.9 L92.4 542 L94.3 542 L96.2 542.1 L98.1 542.2 L100 542.2 L102 542.3 L103.9 542.3 L105.8 542.4 L107.7 542.4 L109.6 542.5 L111.6 542.5 L113.5 542.6 L115.4 542.6 L117.3 542.6 L119.2 542.7 L121.2 542.7 L123.1 542.8 L125 542.8 L126.9 542.9 L128.8 542.9 L130.8 543 L132.7 543 L134.6 543.1 L136.5 543.1 L138.4 543.1 L140.4 543.2 L142.3 543.2 L144.2 543.3 L146.1 543.3 L148 543.3 L150 543.4 L151.9 543.4 L153.8 543.5" stroke="#e64a32" stroke-width="1.4" fill="none" stroke-linejoin="round"/>
<path d="M38.6 599.3 L38.8 597.6 L39 596 L39.2 594.5 L39.4 592.9 L40.1 587.2 L40.9 582.1 L41.7 577.6 L42.4 573.5 L43.2 569.8 L44 566.5 L44.7 563.6 L45.5 560.9 L46.3 558.6 L47 556.4 L47.8 554.5 L48.6 552.8 L49.4 551.3 L50.1 550 L50.9 548.7 L51.7 547.6 L52.4 546.7 L53.2 545.8 L54 545 L54.7 544.3 L55.5 543.7 L56.3 543.1 L57 542.6 L57.8 542.1 L58.6 541.7 L59.3 541.4 L60.1 541 L60.9 540.7 L61.6 540.5 L62.4 540.2 L63.2 540 L63.9 539.8 L64.7 539.7 L65.5 539.5 L66.2 539.4 L67 539.3 L67.8 539.2 L68.6 539.1 L69.3 539 L70.1 538.9 L70.9 538.8 L71.6 538.8 L72.4 538.7 L73.2 538.7 L73.9 538.6 L74.7 538.6 L75.5 538.5 L76.2 538.5 L77 538.5 L78.9 538.5 L80.8 538.6 L82.8 538.7 L84.7 538.8 L86.6 538.8 L88.5 538.9 L90.4 538.9 L92.4 539 L94.3 539.1 L96.2 539.1 L98.1 539.2 L100 539.3 L102 539.3 L103.9 539.4 L105.8 539.4 L107.7 539.5 L109.6 539.6 L111.6 539.6 L113.5 539.7 L115.4 539.7 L117.3 539.8 L119.2 539.9 L121.2 539.9 L123.1 540 L125 540 L126.9 540.1 L128.8 540.1 L130.8 540.2 L132.7 540.2 L134.6 540.3 L136.5 540.3 L138.4 540.4 L140.4 540.4 L142.3 540.5 L144.2 540.5 L146.1 540.6 L148 540.6 L150 540.7 L151.9 540.7 L153.8 540.8" stroke="#b9664c" stroke-width="1.4" fill="none" stroke-linejoin="round"/>
<line x1="38.6" y1="522.2" x2="38.6" y2="600" stroke="#000" stroke-width="1.5"/>
<line x1="37.9" y1="599.3" x2="154.3" y2="599.3" stroke="#000" stroke-width="1.6"/>
<line x1="34.7" y1="599.3" x2="38.6" y2="599.3" stroke="#000" stroke-width="1.1"/>
<text x="34.1" y="601.7" font-size="6.7" text-anchor="end">0</text>
<line x1="34.7" y1="584" x2="38.6" y2="584" stroke="#000" stroke-width="1.1"/>
<text x="34.1" y="586.4" font-size="6.7" text-anchor="end">20</text>
<line x1="34.7" y1="568.6" x2="38.6" y2="568.6" stroke="#000" stroke-width="1.1"/>
<text x="34.1" y="571" font-size="6.7" text-anchor="end">40</text>
<line x1="34.7" y1="553.3" x2="38.6" y2="553.3" stroke="#000" stroke-width="1.1"/>
<text x="34.1" y="555.7" font-size="6.7" text-anchor="end">60</text>
<line x1="34.7" y1="537.9" x2="38.6" y2="537.9" stroke="#000" stroke-width="1.1"/>
<text x="34.1" y="540.4" font-size="6.7" text-anchor="end">80</text>
<line x1="34.7" y1="522.6" x2="38.6" y2="522.6" stroke="#000" stroke-width="1.1"/>
<text x="34.1" y="525" font-size="6.7" text-anchor="end">100</text>
<line x1="38.6" y1="599.3" x2="38.6" y2="602.3" stroke="#000" stroke-width="1.1"/>
<text x="38.6" y="610.3" font-size="6.7" text-anchor="middle">0</text>
<line x1="57.8" y1="599.3" x2="57.8" y2="602.3" stroke="#000" stroke-width="1.1"/>
<text x="57.8" y="610.3" font-size="6.7" text-anchor="middle">100</text>
<line x1="77" y1="599.3" x2="77" y2="602.3" stroke="#000" stroke-width="1.1"/>
<text x="77" y="610.3" font-size="6.7" text-anchor="middle">200</text>
<line x1="96.2" y1="599.3" x2="96.2" y2="602.3" stroke="#000" stroke-width="1.1"/>
<text x="96.2" y="610.3" font-size="6.7" text-anchor="middle">300</text>
<line x1="115.4" y1="599.3" x2="115.4" y2="602.3" stroke="#000" stroke-width="1.1"/>
<text x="115.4" y="610.3" font-size="6.7" text-anchor="middle">400</text>
<line x1="134.6" y1="599.3" x2="134.6" y2="602.3" stroke="#000" stroke-width="1.1"/>
<text x="134.6" y="610.3" font-size="6.7" text-anchor="middle">500</text>
<line x1="153.8" y1="599.3" x2="153.8" y2="602.3" stroke="#000" stroke-width="1.1"/>
<text x="153.8" y="610.3" font-size="6.7" text-anchor="middle">600</text>
<text x="96.2" y="622" font-size="7.3" text-anchor="middle">Time (S)</text>
<text x="63.1" y="529.6" font-size="9.7" fill="#118a17">KD = 5.040E-11 (M)</text>
<path d="M169 599.3 L169.2 599.2 L169.4 599.1 L169.6 599.1 L169.8 599 L170.5 598.7 L171.3 598.4 L172.1 598.1 L172.8 597.8 L173.6 597.5 L174.4 597.2 L175.1 596.9 L175.9 596.7 L176.7 596.4 L177.4 596.2 L178.2 595.9 L179 595.7 L179.8 595.4 L180.5 595.2 L181.3 595 L182.1 594.7 L182.8 594.5 L183.6 594.3 L184.4 594.1 L185.1 593.9 L185.9 593.7 L186.7 593.5 L187.4 593.3 L188.2 593.2 L189 593 L189.7 592.8 L190.5 592.6 L191.3 592.5 L192 592.3 L192.8 592.1 L193.6 592 L194.3 591.8 L195.1 591.7 L195.9 591.5 L196.6 591.4 L197.4 591.3 L198.2 591.1 L199 591 L199.7 590.9 L200.5 590.7 L201.3 590.6 L202 590.5 L202.8 590.4 L203.6 590.3 L204.3 590.1 L205.1 590 L205.9 589.9 L206.6 589.8 L207.4 589.7 L209.3 589.7 L211.2 589.7 L213.2 589.7 L215.1 589.8 L217 589.8 L218.9 589.8 L220.8 589.8 L222.8 589.8 L224.7 589.8 L226.6 589.8 L228.5 589.8 L230.4 589.8 L232.4 589.9 L234.3 589.9 L236.2 589.9 L238.1 589.9 L240 589.9 L242 589.9 L243.9 589.9 L245.8 589.9 L247.7 589.9 L249.6 589.9 L251.6 590 L253.5 590 L255.4 590 L257.3 590 L259.2 590 L261.2 590 L263.1 590 L265 590 L266.9 590 L268.8 590 L270.8 590 L272.7 590 L274.6 590.1 L276.5 590.1 L278.4 590.1 L280.4 590.1 L282.3 590.1 L284.2 590.1" stroke="#36a68b" stroke-width="1.4" fill="none" stroke-linejoin="round"/>
<path d="M169 599.3 L169.2 599.1 L169.4 599 L169.6 598.8 L169.8 598.7 L170.5 598.1 L171.3 597.5 L172.1 597 L172.8 596.4 L173.6 595.9 L174.4 595.4 L175.1 594.9 L175.9 594.4 L176.7 593.9 L177.4 593.4 L178.2 592.9 L179 592.5 L179.8 592 L180.5 591.6 L181.3 591.2 L182.1 590.7 L182.8 590.3 L183.6 589.9 L184.4 589.6 L185.1 589.2 L185.9 588.8 L186.7 588.4 L187.4 588.1 L188.2 587.7 L189 587.4 L189.7 587.1 L190.5 586.8 L191.3 586.4 L192 586.1 L192.8 585.8 L193.6 585.5 L194.3 585.3 L195.1 585 L195.9 584.7 L196.6 584.4 L197.4 584.2 L198.2 583.9 L199 583.7 L199.7 583.4 L200.5 583.2 L201.3 583 L202 582.7 L202.8 582.5 L203.6 582.3 L204.3 582.1 L205.1 581.9 L205.9 581.7 L206.6 581.5 L207.4 581.3 L209.3 581.3 L211.2 581.3 L213.2 581.3 L215.1 581.4 L217 581.4 L218.9 581.4 L220.8 581.4 L222.8 581.5 L224.7 581.5 L226.6 581.5 L228.5 581.5 L230.4 581.5 L232.4 581.6 L234.3 581.6 L236.2 581.6 L238.1 581.6 L240 581.6 L242 581.7 L243.9 581.7 L245.8 581.7 L247.7 581.7 L249.6 581.7 L251.6 581.8 L253.5 581.8 L255.4 581.8 L257.3 581.8 L259.2 581.8 L261.2 581.8 L263.1 581.9 L265 581.9 L266.9 581.9 L268.8 581.9 L270.8 581.9 L272.7 581.9 L274.6 582 L276.5 582 L278.4 582 L280.4 582 L282.3 582 L284.2 582" stroke="#8cbd9f" stroke-width="1.3" fill="none" stroke-linejoin="round"/>
<path d="M169 599.3 L169.2 599 L169.4 598.7 L169.6 598.4 L169.8 598.1 L170.5 597 L171.3 595.9 L172.1 594.8 L172.8 593.8 L173.6 592.8 L174.4 591.8 L175.1 590.9 L175.9 590 L176.7 589.1 L177.4 588.2 L178.2 587.4 L179 586.6 L179.8 585.8 L180.5 585 L181.3 584.3 L182.1 583.6 L182.8 582.9 L183.6 582.2 L184.4 581.6 L185.1 580.9 L185.9 580.3 L186.7 579.7 L187.4 579.2 L188.2 578.6 L189 578.1 L189.7 577.5 L190.5 577 L191.3 576.5 L192 576 L192.8 575.6 L193.6 575.1 L194.3 574.7 L195.1 574.3 L195.9 573.9 L196.6 573.5 L197.4 573.1 L198.2 572.7 L199 572.3 L199.7 572 L200.5 571.6 L201.3 571.3 L202 571 L202.8 570.7 L203.6 570.4 L204.3 570.1 L205.1 569.8 L205.9 569.5 L206.6 569.3 L207.4 569 L209.3 569 L211.2 569.1 L213.2 569.1 L215.1 569.1 L217 569.2 L218.9 569.2 L220.8 569.2 L222.8 569.3 L224.7 569.3 L226.6 569.3 L228.5 569.4 L230.4 569.4 L232.4 569.4 L234.3 569.5 L236.2 569.5 L238.1 569.5 L240 569.5 L242 569.6 L243.9 569.6 L245.8 569.6 L247.7 569.7 L249.6 569.7 L251.6 569.7 L253.5 569.7 L255.4 569.8 L257.3 569.8 L259.2 569.8 L261.2 569.9 L263.1 569.9 L265 569.9 L266.9 569.9 L268.8 570 L270.8 570 L272.7 570 L274.6 570 L276.5 570.1 L278.4 570.1 L280.4 570.1 L282.3 570.1 L284.2 570.2" stroke="#f2d8ba" stroke-width="1.3" fill="none" stroke-linejoin="round"/>
<path d="M169 599.3 L169.2 598.7 L169.4 598.1 L169.6 597.5 L169.8 596.9 L170.5 594.7 L171.3 592.5 L172.1 590.5 L172.8 588.6 L173.6 586.7 L174.4 585 L175.1 583.3 L175.9 581.7 L176.7 580.2 L177.4 578.8 L178.2 577.4 L179 576.2 L179.8 574.9 L180.5 573.8 L181.3 572.7 L182.1 571.6 L182.8 570.6 L183.6 569.7 L184.4 568.8 L185.1 567.9 L185.9 567.1 L186.7 566.3 L187.4 565.6 L188.2 564.9 L189 564.2 L189.7 563.6 L190.5 563 L191.3 562.4 L192 561.9 L192.8 561.3 L193.6 560.8 L194.3 560.4 L195.1 559.9 L195.9 559.5 L196.6 559.1 L197.4 558.7 L198.2 558.4 L199 558 L199.7 557.7 L200.5 557.4 L201.3 557.1 L202 556.8 L202.8 556.5 L203.6 556.3 L204.3 556 L205.1 555.8 L205.9 555.6 L206.6 555.4 L207.4 555.2 L209.3 555.2 L211.2 555.3 L213.2 555.3 L215.1 555.4 L217 555.4 L218.9 555.5 L220.8 555.5 L222.8 555.6 L224.7 555.6 L226.6 555.6 L228.5 555.7 L230.4 555.7 L232.4 555.8 L234.3 555.8 L236.2 555.8 L238.1 555.9 L240 555.9 L242 556 L243.9 556 L245.8 556 L247.7 556.1 L249.6 556.1 L251.6 556.2 L253.5 556.2 L255.4 556.2 L257.3 556.3 L259.2 556.3 L261.2 556.3 L263.1 556.4 L265 556.4 L266.9 556.4 L268.8 556.5 L270.8 556.5 L272.7 556.5 L274.6 556.6 L276.5 556.6 L278.4 556.6 L280.4 556.7 L282.3 556.7 L284.2 556.7" stroke="#f1b14e" stroke-width="1.3" fill="none" stroke-linejoin="round"/>
<path d="M169 599.3 L169.2 598.3 L169.4 597.3 L169.6 596.3 L169.8 595.3 L170.5 591.7 L171.3 588.3 L172.1 585.1 L172.8 582.2 L173.6 579.5 L174.4 577 L175.1 574.6 L175.9 572.5 L176.7 570.5 L177.4 568.6 L178.2 566.9 L179 565.3 L179.8 563.8 L180.5 562.5 L181.3 561.2 L182.1 560 L182.8 558.9 L183.6 557.9 L184.4 557 L185.1 556.1 L185.9 555.3 L186.7 554.6 L187.4 553.9 L188.2 553.3 L189 552.7 L189.7 552.1 L190.5 551.6 L191.3 551.1 L192 550.7 L192.8 550.3 L193.6 549.9 L194.3 549.6 L195.1 549.3 L195.9 549 L196.6 548.7 L197.4 548.4 L198.2 548.2 L199 548 L199.7 547.8 L200.5 547.6 L201.3 547.4 L202 547.2 L202.8 547.1 L203.6 546.9 L204.3 546.8 L205.1 546.7 L205.9 546.6 L206.6 546.5 L207.4 546.4 L209.3 546.4 L211.2 546.5 L213.2 546.5 L215.1 546.6 L217 546.6 L218.9 546.6 L220.8 546.7 L222.8 546.7 L224.7 546.8 L226.6 546.8 L228.5 546.9 L230.4 546.9 L232.4 546.9 L234.3 547 L236.2 547 L238.1 547.1 L240 547.1 L242 547.1 L243.9 547.2 L245.8 547.2 L247.7 547.3 L249.6 547.3 L251.6 547.3 L253.5 547.4 L255.4 547.4 L257.3 547.4 L259.2 547.5 L261.2 547.5 L263.1 547.5 L265 547.6 L266.9 547.6 L268.8 547.7 L270.8 547.7 L272.7 547.7 L274.6 547.8 L276.5 547.8 L278.4 547.8 L280.4 547.8 L282.3 547.9 L284.2 547.9" stroke="#e64a32" stroke-width="1.4" fill="none" stroke-linejoin="round"/>
<path d="M169 599.3 L169.2 597.6 L169.4 596 L169.6 594.5 L169.8 592.9 L170.5 587.3 L171.3 582.3 L172.1 578 L172.8 574.1 L173.6 570.7 L174.4 567.6 L175.1 565 L175.9 562.6 L176.7 560.5 L177.4 558.7 L178.2 557.1 L179 555.6 L179.8 554.3 L180.5 553.2 L181.3 552.2 L182.1 551.4 L182.8 550.6 L183.6 549.9 L184.4 549.3 L185.1 548.8 L185.9 548.3 L186.7 547.9 L187.4 547.5 L188.2 547.2 L189 546.9 L189.7 546.7 L190.5 546.4 L191.3 546.2 L192 546.1 L192.8 545.9 L193.6 545.8 L194.3 545.6 L195.1 545.5 L195.9 545.4 L196.6 545.4 L197.4 545.3 L198.2 545.2 L199 545.2 L199.7 545.1 L200.5 545.1 L201.3 545 L202 545 L202.8 545 L203.6 544.9 L204.3 544.9 L205.1 544.9 L205.9 544.9 L206.6 544.9 L207.4 544.8 L209.3 544.9 L211.2 544.9 L213.2 545 L215.1 545 L217 545.1 L218.9 545.1 L220.8 545.2 L222.8 545.2 L224.7 545.2 L226.6 545.3 L228.5 545.3 L230.4 545.4 L232.4 545.4 L234.3 545.5 L236.2 545.5 L238.1 545.5 L240 545.6 L242 545.6 L243.9 545.6 L245.8 545.7 L247.7 545.7 L249.6 545.8 L251.6 545.8 L253.5 545.8 L255.4 545.9 L257.3 545.9 L259.2 545.9 L261.2 546 L263.1 546 L265 546 L266.9 546.1 L268.8 546.1 L270.8 546.2 L272.7 546.2 L274.6 546.2 L276.5 546.2 L278.4 546.3 L280.4 546.3 L282.3 546.3 L284.2 546.4" stroke="#b9664c" stroke-width="1.4" fill="none" stroke-linejoin="round"/>
<line x1="169" y1="522.2" x2="169" y2="600" stroke="#000" stroke-width="1.5"/>
<line x1="168.3" y1="599.3" x2="284.7" y2="599.3" stroke="#000" stroke-width="1.6"/>
<line x1="165.1" y1="599.3" x2="169" y2="599.3" stroke="#000" stroke-width="1.1"/>
<text x="164.5" y="601.7" font-size="6.7" text-anchor="end">0</text>
<line x1="165.1" y1="584" x2="169" y2="584" stroke="#000" stroke-width="1.1"/>
<text x="164.5" y="586.4" font-size="6.7" text-anchor="end">20</text>
<line x1="165.1" y1="568.6" x2="169" y2="568.6" stroke="#000" stroke-width="1.1"/>
<text x="164.5" y="571" font-size="6.7" text-anchor="end">40</text>
<line x1="165.1" y1="553.3" x2="169" y2="553.3" stroke="#000" stroke-width="1.1"/>
<text x="164.5" y="555.7" font-size="6.7" text-anchor="end">60</text>
<line x1="165.1" y1="537.9" x2="169" y2="537.9" stroke="#000" stroke-width="1.1"/>
<text x="164.5" y="540.4" font-size="6.7" text-anchor="end">80</text>
<line x1="165.1" y1="522.6" x2="169" y2="522.6" stroke="#000" stroke-width="1.1"/>
<text x="164.5" y="525" font-size="6.7" text-anchor="end">100</text>
<line x1="169" y1="599.3" x2="169" y2="602.3" stroke="#000" stroke-width="1.1"/>
<text x="169" y="610.3" font-size="6.7" text-anchor="middle">0</text>
<line x1="188.2" y1="599.3" x2="188.2" y2="602.3" stroke="#000" stroke-width="1.1"/>
<text x="188.2" y="610.3" font-size="6.7" text-anchor="middle">100</text>
<line x1="207.4" y1="599.3" x2="207.4" y2="602.3" stroke="#000" stroke-width="1.1"/>
<text x="207.4" y="610.3" font-size="6.7" text-anchor="middle">200</text>
<line x1="226.6" y1="599.3" x2="226.6" y2="602.3" stroke="#000" stroke-width="1.1"/>
<text x="226.6" y="610.3" font-size="6.7" text-anchor="middle">300</text>
<line x1="245.8" y1="599.3" x2="245.8" y2="602.3" stroke="#000" stroke-width="1.1"/>
<text x="245.8" y="610.3" font-size="6.7" text-anchor="middle">400</text>
<line x1="265" y1="599.3" x2="265" y2="602.3" stroke="#000" stroke-width="1.1"/>
<text x="265" y="610.3" font-size="6.7" text-anchor="middle">500</text>
<line x1="284.2" y1="599.3" x2="284.2" y2="602.3" stroke="#000" stroke-width="1.1"/>
<text x="284.2" y="610.3" font-size="6.7" text-anchor="middle">600</text>
<text x="226.6" y="622" font-size="7.3" text-anchor="middle">Time (S)</text>
<text x="189.4" y="529.6" font-size="9.7" fill="#118a17">KD = 1.027E-11 (M)</text>
<path d="M301 599.3 L301.2 599.3 L301.4 599.3 L301.6 599.2 L301.8 599.2 L302.5 599.2 L303.3 599.1 L304.1 599 L304.8 599 L305.6 598.9 L306.4 598.8 L307.1 598.8 L307.9 598.7 L308.7 598.6 L309.4 598.6 L310.2 598.5 L311 598.4 L311.8 598.4 L312.5 598.3 L313.3 598.3 L314.1 598.2 L314.8 598.1 L315.6 598.1 L316.4 598 L317.1 597.9 L317.9 597.9 L318.7 597.8 L319.4 597.8 L320.2 597.7 L321 597.6 L321.7 597.6 L322.5 597.5 L323.3 597.4 L324 597.4 L324.8 597.3 L325.6 597.3 L326.3 597.2 L327.1 597.1 L327.9 597.1 L328.6 597 L329.4 597 L330.2 596.9 L331 596.9 L331.7 596.8 L332.5 596.7 L333.3 596.7 L334 596.6 L334.8 596.6 L335.6 596.5 L336.3 596.5 L337.1 596.4 L337.9 596.3 L338.6 596.3 L339.4 596.2 L341.3 596.2 L343.2 596.2 L345.2 596.2 L347.1 596.3 L349 596.3 L350.9 596.3 L352.8 596.3 L354.8 596.3 L356.7 596.3 L358.6 596.3 L360.5 596.3 L362.4 596.3 L364.4 596.3 L366.3 596.3 L368.2 596.3 L370.1 596.3 L372 596.3 L374 596.3 L375.9 596.3 L377.8 596.3 L379.7 596.3 L381.6 596.3 L383.6 596.3 L385.5 596.3 L387.4 596.3 L389.3 596.3 L391.2 596.3 L393.2 596.3 L395.1 596.3 L397 596.4 L398.9 596.4 L400.8 596.4 L402.8 596.4 L404.7 596.4 L406.6 596.4 L408.5 596.4 L410.4 596.4 L412.4 596.4 L414.3 596.4 L416.2 596.4" stroke="#36a68b" stroke-width="1.4" fill="none" stroke-linejoin="round"/>
<path d="M301 599.3 L301.2 599.3 L301.4 599.2 L301.6 599.2 L301.8 599.2 L302.5 599.1 L303.3 598.9 L304.1 598.8 L304.8 598.7 L305.6 598.6 L306.4 598.5 L307.1 598.4 L307.9 598.3 L308.7 598.1 L309.4 598 L310.2 597.9 L311 597.8 L311.8 597.7 L312.5 597.6 L313.3 597.5 L314.1 597.4 L314.8 597.2 L315.6 597.1 L316.4 597 L317.1 596.9 L317.9 596.8 L318.7 596.7 L319.4 596.6 L320.2 596.5 L321 596.4 L321.7 596.3 L322.5 596.2 L323.3 596.1 L324 596 L324.8 595.8 L325.6 595.7 L326.3 595.6 L327.1 595.5 L327.9 595.4 L328.6 595.3 L329.4 595.2 L330.2 595.1 L331 595 L331.7 594.9 L332.5 594.8 L333.3 594.7 L334 594.6 L334.8 594.5 L335.6 594.4 L336.3 594.3 L337.1 594.2 L337.9 594.1 L338.6 594 L339.4 593.9 L341.3 593.9 L343.2 593.9 L345.2 593.9 L347.1 593.9 L349 594 L350.9 594 L352.8 594 L354.8 594 L356.7 594 L358.6 594 L360.5 594 L362.4 594 L364.4 594 L366.3 594 L368.2 594 L370.1 594 L372 594 L374 594 L375.9 594 L377.8 594 L379.7 594 L381.6 594 L383.6 594 L385.5 594 L387.4 594 L389.3 594 L391.2 594 L393.2 594 L395.1 594 L397 594.1 L398.9 594.1 L400.8 594.1 L402.8 594.1 L404.7 594.1 L406.6 594.1 L408.5 594.1 L410.4 594.1 L412.4 594.1 L414.3 594.1 L416.2 594.1" stroke="#8cbd9f" stroke-width="1.3" fill="none" stroke-linejoin="round"/>
<path d="M301 599.3 L301.2 599.2 L301.4 599.2 L301.6 599.1 L301.8 599.1 L302.5 598.8 L303.3 598.6 L304.1 598.4 L304.8 598.2 L305.6 597.9 L306.4 597.7 L307.1 597.5 L307.9 597.3 L308.7 597.1 L309.4 596.8 L310.2 596.6 L311 596.4 L311.8 596.2 L312.5 596 L313.3 595.8 L314.1 595.5 L314.8 595.3 L315.6 595.1 L316.4 594.9 L317.1 594.7 L317.9 594.5 L318.7 594.3 L319.4 594.1 L320.2 593.9 L321 593.7 L321.7 593.5 L322.5 593.2 L323.3 593 L324 592.8 L324.8 592.6 L325.6 592.4 L326.3 592.2 L327.1 592 L327.9 591.8 L328.6 591.6 L329.4 591.4 L330.2 591.2 L331 591 L331.7 590.9 L332.5 590.7 L333.3 590.5 L334 590.3 L334.8 590.1 L335.6 589.9 L336.3 589.7 L337.1 589.5 L337.9 589.3 L338.6 589.1 L339.4 588.9 L341.3 589.2 L343.2 589.2 L345.2 589.2 L347.1 589.2 L349 589.2 L350.9 589.2 L352.8 589.2 L354.8 589.2 L356.7 589.3 L358.6 589.3 L360.5 589.3 L362.4 589.3 L364.4 589.3 L366.3 589.3 L368.2 589.3 L370.1 589.3 L372 589.3 L374 589.3 L375.9 589.3 L377.8 589.3 L379.7 589.4 L381.6 589.4 L383.6 589.4 L385.5 589.4 L387.4 589.4 L389.3 589.4 L391.2 589.4 L393.2 589.4 L395.1 589.4 L397 589.4 L398.9 589.4 L400.8 589.4 L402.8 589.4 L404.7 589.4 L406.6 589.5 L408.5 589.5 L410.4 589.5 L412.4 589.5 L414.3 589.5 L416.2 589.5" stroke="#f2d8ba" stroke-width="1.3" fill="none" stroke-linejoin="round"/>
<path d="M301 599.3 L301.2 599.2 L301.4 599.1 L301.6 598.9 L301.8 598.8 L302.5 598.3 L303.3 597.9 L304.1 597.4 L304.8 596.9 L305.6 596.5 L306.4 596 L307.1 595.5 L307.9 595.1 L308.7 594.6 L309.4 594.2 L310.2 593.8 L311 593.3 L311.8 592.9 L312.5 592.5 L313.3 592 L314.1 591.6 L314.8 591.2 L315.6 590.8 L316.4 590.4 L317.1 589.9 L317.9 589.5 L318.7 589.1 L319.4 588.7 L320.2 588.3 L321 587.9 L321.7 587.5 L322.5 587.2 L323.3 586.8 L324 586.4 L324.8 586 L325.6 585.6 L326.3 585.3 L327.1 584.9 L327.9 584.5 L328.6 584.2 L329.4 583.8 L330.2 583.4 L331 583.1 L331.7 582.7 L332.5 582.4 L333.3 582 L334 581.7 L334.8 581.4 L335.6 581 L336.3 580.7 L337.1 580.3 L337.9 580 L338.6 579.7 L339.4 579.4 L341.3 580.1 L343.2 580.1 L345.2 580.2 L347.1 580.2 L349 580.2 L350.9 580.2 L352.8 580.2 L354.8 580.2 L356.7 580.2 L358.6 580.2 L360.5 580.2 L362.4 580.3 L364.4 580.3 L366.3 580.3 L368.2 580.3 L370.1 580.3 L372 580.3 L374 580.3 L375.9 580.3 L377.8 580.3 L379.7 580.3 L381.6 580.4 L383.6 580.4 L385.5 580.4 L387.4 580.4 L389.3 580.4 L391.2 580.4 L393.2 580.4 L395.1 580.4 L397 580.4 L398.9 580.4 L400.8 580.4 L402.8 580.5 L404.7 580.5 L406.6 580.5 L408.5 580.5 L410.4 580.5 L412.4 580.5 L414.3 580.5 L416.2 580.5" stroke="#f1b14e" stroke-width="1.3" fill="none" stroke-linejoin="round"/>
<path d="M301 599.3 L301.2 599.1 L301.4 598.8 L301.6 598.6 L301.8 598.3 L302.5 597.4 L303.3 596.5 L304.1 595.6 L304.8 594.6 L305.6 593.7 L306.4 592.9 L307.1 592 L307.9 591.1 L308.7 590.3 L309.4 589.4 L310.2 588.6 L311 587.8 L311.8 586.9 L312.5 586.1 L313.3 585.3 L314.1 584.6 L314.8 583.8 L315.6 583 L316.4 582.3 L317.1 581.5 L317.9 580.8 L318.7 580 L319.4 579.3 L320.2 578.6 L321 577.9 L321.7 577.2 L322.5 576.5 L323.3 575.8 L324 575.1 L324.8 574.5 L325.6 573.8 L326.3 573.2 L327.1 572.5 L327.9 571.9 L328.6 571.3 L329.4 570.7 L330.2 570 L331 569.4 L331.7 568.8 L332.5 568.3 L333.3 567.7 L334 567.1 L334.8 566.5 L335.6 566 L336.3 565.4 L337.1 564.9 L337.9 564.3 L338.6 563.8 L339.4 563.3 L341.3 564 L343.2 564.1 L345.2 564.1 L347.1 564.1 L349 564.1 L350.9 564.2 L352.8 564.2 L354.8 564.2 L356.7 564.2 L358.6 564.2 L360.5 564.3 L362.4 564.3 L364.4 564.3 L366.3 564.3 L368.2 564.3 L370.1 564.4 L372 564.4 L374 564.4 L375.9 564.4 L377.8 564.4 L379.7 564.5 L381.6 564.5 L383.6 564.5 L385.5 564.5 L387.4 564.5 L389.3 564.6 L391.2 564.6 L393.2 564.6 L395.1 564.6 L397 564.6 L398.9 564.6 L400.8 564.7 L402.8 564.7 L404.7 564.7 L406.6 564.7 L408.5 564.7 L410.4 564.7 L412.4 564.8 L414.3 564.8 L416.2 564.8" stroke="#e64a32" stroke-width="1.4" fill="none" stroke-linejoin="round"/>
<path d="M301 599.3 L301.2 598.8 L301.4 598.3 L301.6 597.7 L301.8 597.2 L302.5 595.2 L303.3 593.3 L304.1 591.3 L304.8 589.5 L305.6 587.7 L306.4 585.9 L307.1 584.1 L307.9 582.5 L308.7 580.8 L309.4 579.2 L310.2 577.6 L311 576.1 L311.8 574.6 L312.5 573.1 L313.3 571.7 L314.1 570.3 L314.8 569 L315.6 567.7 L316.4 566.4 L317.1 565.1 L317.9 563.9 L318.7 562.7 L319.4 561.5 L320.2 560.4 L321 559.3 L321.7 558.2 L322.5 557.2 L323.3 556.1 L324 555.1 L324.8 554.1 L325.6 553.2 L326.3 552.2 L327.1 551.3 L327.9 550.5 L328.6 549.6 L329.4 548.7 L330.2 547.9 L331 547.1 L331.7 546.3 L332.5 545.6 L333.3 544.8 L334 544.1 L334.8 543.4 L335.6 542.7 L336.3 542 L337.1 541.4 L337.9 540.7 L338.6 540.1 L339.4 539.5 L341.3 543.5 L343.2 543.5 L345.2 543.6 L347.1 543.6 L349 543.6 L350.9 543.7 L352.8 543.7 L354.8 543.7 L356.7 543.8 L358.6 543.8 L360.5 543.9 L362.4 543.9 L364.4 543.9 L366.3 543.9 L368.2 544 L370.1 544 L372 544 L374 544.1 L375.9 544.1 L377.8 544.1 L379.7 544.2 L381.6 544.2 L383.6 544.2 L385.5 544.3 L387.4 544.3 L389.3 544.3 L391.2 544.3 L393.2 544.4 L395.1 544.4 L397 544.4 L398.9 544.5 L400.8 544.5 L402.8 544.5 L404.7 544.5 L406.6 544.6 L408.5 544.6 L410.4 544.6 L412.4 544.6 L414.3 544.7 L416.2 544.7" stroke="#b9664c" stroke-width="1.4" fill="none" stroke-linejoin="round"/>
<line x1="301" y1="522.2" x2="301" y2="600" stroke="#000" stroke-width="1.5"/>
<line x1="300.3" y1="599.3" x2="416.7" y2="599.3" stroke="#000" stroke-width="1.6"/>
<line x1="297.1" y1="599.3" x2="301" y2="599.3" stroke="#000" stroke-width="1.1"/>
<text x="296.5" y="601.7" font-size="6.7" text-anchor="end">0</text>
<line x1="297.1" y1="584" x2="301" y2="584" stroke="#000" stroke-width="1.1"/>
<text x="296.5" y="586.4" font-size="6.7" text-anchor="end">20</text>
<line x1="297.1" y1="568.6" x2="301" y2="568.6" stroke="#000" stroke-width="1.1"/>
<text x="296.5" y="571" font-size="6.7" text-anchor="end">40</text>
<line x1="297.1" y1="553.3" x2="301" y2="553.3" stroke="#000" stroke-width="1.1"/>
<text x="296.5" y="555.7" font-size="6.7" text-anchor="end">60</text>
<line x1="297.1" y1="537.9" x2="301" y2="537.9" stroke="#000" stroke-width="1.1"/>
<text x="296.5" y="540.4" font-size="6.7" text-anchor="end">80</text>
<line x1="297.1" y1="522.6" x2="301" y2="522.6" stroke="#000" stroke-width="1.1"/>
<text x="296.5" y="525" font-size="6.7" text-anchor="end">100</text>
<line x1="301" y1="599.3" x2="301" y2="602.3" stroke="#000" stroke-width="1.1"/>
<text x="301" y="610.3" font-size="6.7" text-anchor="middle">0</text>
<line x1="320.2" y1="599.3" x2="320.2" y2="602.3" stroke="#000" stroke-width="1.1"/>
<text x="320.2" y="610.3" font-size="6.7" text-anchor="middle">100</text>
<line x1="339.4" y1="599.3" x2="339.4" y2="602.3" stroke="#000" stroke-width="1.1"/>
<text x="339.4" y="610.3" font-size="6.7" text-anchor="middle">200</text>
<line x1="358.6" y1="599.3" x2="358.6" y2="602.3" stroke="#000" stroke-width="1.1"/>
<text x="358.6" y="610.3" font-size="6.7" text-anchor="middle">300</text>
<line x1="377.8" y1="599.3" x2="377.8" y2="602.3" stroke="#000" stroke-width="1.1"/>
<text x="377.8" y="610.3" font-size="6.7" text-anchor="middle">400</text>
<line x1="397" y1="599.3" x2="397" y2="602.3" stroke="#000" stroke-width="1.1"/>
<text x="397" y="610.3" font-size="6.7" text-anchor="middle">500</text>
<line x1="416.2" y1="599.3" x2="416.2" y2="602.3" stroke="#000" stroke-width="1.1"/>
<text x="416.2" y="610.3" font-size="6.7" text-anchor="middle">600</text>
<text x="358.6" y="622" font-size="7.3" text-anchor="middle">Time (S)</text>
<text x="322.6" y="529.6" font-size="9.7" fill="#118a17">KD = 5.879E-11 (M)</text>
<path d="M432.4 599.3 L432.6 599.3 L432.8 599.3 L433 599.3 L433.2 599.3 L433.9 599.2 L434.7 599.2 L435.5 599.2 L436.2 599.1 L437 599.1 L437.8 599 L438.5 599 L439.3 599 L440.1 598.9 L440.8 598.9 L441.6 598.9 L442.4 598.8 L443.2 598.8 L443.9 598.8 L444.7 598.7 L445.5 598.7 L446.2 598.7 L447 598.6 L447.8 598.6 L448.5 598.6 L449.3 598.5 L450.1 598.5 L450.8 598.4 L451.6 598.4 L452.4 598.4 L453.1 598.3 L453.9 598.3 L454.7 598.3 L455.4 598.2 L456.2 598.2 L457 598.2 L457.7 598.1 L458.5 598.1 L459.3 598.1 L460 598.1 L460.8 598 L461.6 598 L462.4 598 L463.1 597.9 L463.9 597.9 L464.7 597.9 L465.4 597.8 L466.2 597.8 L467 597.8 L467.7 597.7 L468.5 597.7 L469.3 597.7 L470 597.6 L470.8 597.6 L472.7 597.8 L474.6 597.8 L476.6 597.8 L478.5 597.8 L480.4 597.8 L482.3 597.8 L484.2 597.8 L486.2 597.8 L488.1 597.8 L490 597.8 L491.9 597.8 L493.8 597.8 L495.8 597.8 L497.7 597.8 L499.6 597.8 L501.5 597.8 L503.4 597.8 L505.4 597.8 L507.3 597.8 L509.2 597.8 L511.1 597.8 L513 597.8 L515 597.8 L516.9 597.8 L518.8 597.8 L520.7 597.8 L522.6 597.8 L524.6 597.8 L526.5 597.8 L528.4 597.8 L530.3 597.8 L532.2 597.8 L534.2 597.8 L536.1 597.8 L538 597.8 L539.9 597.8 L541.8 597.8 L543.8 597.8 L545.7 597.8 L547.6 597.8" stroke="#36a68b" stroke-width="1.4" fill="none" stroke-linejoin="round"/>
<path d="M432.4 599.3 L432.6 599.3 L432.8 599.3 L433 599.2 L433.2 599.2 L433.9 599.1 L434.7 599 L435.5 599 L436.2 598.9 L437 598.8 L437.8 598.7 L438.5 598.6 L439.3 598.6 L440.1 598.5 L440.8 598.4 L441.6 598.3 L442.4 598.2 L443.2 598.1 L443.9 598.1 L444.7 598 L445.5 597.9 L446.2 597.8 L447 597.8 L447.8 597.7 L448.5 597.6 L449.3 597.5 L450.1 597.4 L450.8 597.4 L451.6 597.3 L452.4 597.2 L453.1 597.1 L453.9 597.1 L454.7 597 L455.4 596.9 L456.2 596.8 L457 596.8 L457.7 596.7 L458.5 596.6 L459.3 596.5 L460 596.5 L460.8 596.4 L461.6 596.3 L462.4 596.2 L463.1 596.2 L463.9 596.1 L464.7 596 L465.4 596 L466.2 595.9 L467 595.8 L467.7 595.7 L468.5 595.7 L469.3 595.6 L470 595.5 L470.8 595.5 L472.7 596.1 L474.6 596.1 L476.6 596.1 L478.5 596.1 L480.4 596.1 L482.3 596.1 L484.2 596.1 L486.2 596.1 L488.1 596.1 L490 596.1 L491.9 596.1 L493.8 596.1 L495.8 596.1 L497.7 596.1 L499.6 596.1 L501.5 596.1 L503.4 596.2 L505.4 596.2 L507.3 596.2 L509.2 596.2 L511.1 596.2 L513 596.2 L515 596.2 L516.9 596.2 L518.8 596.2 L520.7 596.2 L522.6 596.2 L524.6 596.2 L526.5 596.2 L528.4 596.2 L530.3 596.2 L532.2 596.2 L534.2 596.2 L536.1 596.2 L538 596.2 L539.9 596.2 L541.8 596.2 L543.8 596.2 L545.7 596.2 L547.6 596.2" stroke="#8cbd9f" stroke-width="1.3" fill="none" stroke-linejoin="round"/>
<path d="M432.4 599.3 L432.6 599.3 L432.8 599.2 L433 599.2 L433.2 599.1 L433.9 599 L434.7 598.8 L435.5 598.6 L436.2 598.5 L437 598.3 L437.8 598.1 L438.5 598 L439.3 597.8 L440.1 597.6 L440.8 597.5 L441.6 597.3 L442.4 597.2 L443.2 597 L443.9 596.8 L444.7 596.7 L445.5 596.5 L446.2 596.4 L447 596.2 L447.8 596 L448.5 595.9 L449.3 595.7 L450.1 595.6 L450.8 595.4 L451.6 595.3 L452.4 595.1 L453.1 595 L453.9 594.8 L454.7 594.7 L455.4 594.5 L456.2 594.4 L457 594.2 L457.7 594.1 L458.5 593.9 L459.3 593.8 L460 593.6 L460.8 593.5 L461.6 593.3 L462.4 593.2 L463.1 593 L463.9 592.9 L464.7 592.8 L465.4 592.6 L466.2 592.5 L467 592.3 L467.7 592.2 L468.5 592 L469.3 591.9 L470 591.8 L470.8 591.6 L472.7 592.8 L474.6 592.8 L476.6 592.8 L478.5 592.8 L480.4 592.8 L482.3 592.8 L484.2 592.8 L486.2 592.8 L488.1 592.8 L490 592.8 L491.9 592.9 L493.8 592.9 L495.8 592.9 L497.7 592.9 L499.6 592.9 L501.5 592.9 L503.4 592.9 L505.4 592.9 L507.3 592.9 L509.2 592.9 L511.1 592.9 L513 592.9 L515 592.9 L516.9 592.9 L518.8 592.9 L520.7 592.9 L522.6 592.9 L524.6 593 L526.5 593 L528.4 593 L530.3 593 L532.2 593 L534.2 593 L536.1 593 L538 593 L539.9 593 L541.8 593 L543.8 593 L545.7 593 L547.6 593" stroke="#f2d8ba" stroke-width="1.3" fill="none" stroke-linejoin="round"/>
<path d="M432.4 599.3 L432.6 599.2 L432.8 599.1 L433 599.1 L433.2 599 L433.9 598.7 L434.7 598.3 L435.5 598 L436.2 597.7 L437 597.4 L437.8 597.1 L438.5 596.8 L439.3 596.5 L440.1 596.1 L440.8 595.8 L441.6 595.5 L442.4 595.2 L443.2 594.9 L443.9 594.6 L444.7 594.3 L445.5 594 L446.2 593.7 L447 593.4 L447.8 593.1 L448.5 592.8 L449.3 592.5 L450.1 592.2 L450.8 591.9 L451.6 591.6 L452.4 591.4 L453.1 591.1 L453.9 590.8 L454.7 590.5 L455.4 590.2 L456.2 589.9 L457 589.6 L457.7 589.4 L458.5 589.1 L459.3 588.8 L460 588.5 L460.8 588.2 L461.6 588 L462.4 587.7 L463.1 587.4 L463.9 587.1 L464.7 586.9 L465.4 586.6 L466.2 586.3 L467 586.1 L467.7 585.8 L468.5 585.5 L469.3 585.3 L470 585 L470.8 584.7 L472.7 586.3 L474.6 586.3 L476.6 586.3 L478.5 586.3 L480.4 586.3 L482.3 586.3 L484.2 586.3 L486.2 586.4 L488.1 586.4 L490 586.4 L491.9 586.4 L493.8 586.4 L495.8 586.4 L497.7 586.4 L499.6 586.4 L501.5 586.4 L503.4 586.4 L505.4 586.5 L507.3 586.5 L509.2 586.5 L511.1 586.5 L513 586.5 L515 586.5 L516.9 586.5 L518.8 586.5 L520.7 586.5 L522.6 586.5 L524.6 586.5 L526.5 586.6 L528.4 586.6 L530.3 586.6 L532.2 586.6 L534.2 586.6 L536.1 586.6 L538 586.6 L539.9 586.6 L541.8 586.6 L543.8 586.6 L545.7 586.6 L547.6 586.6" stroke="#f1b14e" stroke-width="1.3" fill="none" stroke-linejoin="round"/>
<path d="M432.4 599.3 L432.6 599.2 L432.8 599 L433 598.9 L433.2 598.8 L433.9 598.2 L434.7 597.7 L435.5 597.2 L436.2 596.6 L437 596.1 L437.8 595.6 L438.5 595 L439.3 594.5 L440.1 594 L440.8 593.5 L441.6 593 L442.4 592.4 L443.2 591.9 L443.9 591.4 L444.7 590.9 L445.5 590.4 L446.2 589.9 L447 589.4 L447.8 588.9 L448.5 588.4 L449.3 587.9 L450.1 587.4 L450.8 586.9 L451.6 586.4 L452.4 585.9 L453.1 585.4 L453.9 585 L454.7 584.5 L455.4 584 L456.2 583.5 L457 583 L457.7 582.6 L458.5 582.1 L459.3 581.6 L460 581.1 L460.8 580.7 L461.6 580.2 L462.4 579.7 L463.1 579.3 L463.9 578.8 L464.7 578.4 L465.4 577.9 L466.2 577.4 L467 577 L467.7 576.5 L468.5 576.1 L469.3 575.6 L470 575.2 L470.8 574.8 L472.7 574.8 L474.6 574.8 L476.6 574.8 L478.5 574.8 L480.4 574.8 L482.3 574.8 L484.2 574.8 L486.2 574.8 L488.1 574.8 L490 574.8 L491.9 574.8 L493.8 574.8 L495.8 574.8 L497.7 574.8 L499.6 574.8 L501.5 574.8 L503.4 574.8 L505.4 574.8 L507.3 574.8 L509.2 574.8 L511.1 574.8 L513 574.8 L515 574.9 L516.9 574.9 L518.8 574.9 L520.7 574.9 L522.6 574.9 L524.6 574.9 L526.5 574.9 L528.4 574.9 L530.3 574.9 L532.2 574.9 L534.2 574.9 L536.1 574.9 L538 574.9 L539.9 574.9 L541.8 574.9 L543.8 574.9 L545.7 574.9 L547.6 574.9" stroke="#e64a32" stroke-width="1.4" fill="none" stroke-linejoin="round"/>
<path d="M432.4 599.3 L432.6 599 L432.8 598.7 L433 598.4 L433.2 598.1 L433.9 597 L434.7 595.9 L435.5 594.8 L436.2 593.6 L437 592.6 L437.8 591.5 L438.5 590.4 L439.3 589.4 L440.1 588.3 L440.8 587.3 L441.6 586.3 L442.4 585.2 L443.2 584.2 L443.9 583.3 L444.7 582.3 L445.5 581.3 L446.2 580.4 L447 579.4 L447.8 578.5 L448.5 577.6 L449.3 576.6 L450.1 575.7 L450.8 574.8 L451.6 574 L452.4 573.1 L453.1 572.2 L453.9 571.4 L454.7 570.5 L455.4 569.7 L456.2 568.9 L457 568.1 L457.7 567.2 L458.5 566.4 L459.3 565.7 L460 564.9 L460.8 564.1 L461.6 563.3 L462.4 562.6 L463.1 561.8 L463.9 561.1 L464.7 560.4 L465.4 559.6 L466.2 558.9 L467 558.2 L467.7 557.5 L468.5 556.8 L469.3 556.2 L470 555.5 L470.8 554.8 L472.7 556.4 L474.6 556.4 L476.6 556.4 L478.5 556.4 L480.4 556.4 L482.3 556.4 L484.2 556.4 L486.2 556.4 L488.1 556.4 L490 556.5 L491.9 556.5 L493.8 556.5 L495.8 556.5 L497.7 556.5 L499.6 556.5 L501.5 556.5 L503.4 556.5 L505.4 556.5 L507.3 556.5 L509.2 556.6 L511.1 556.6 L513 556.6 L515 556.6 L516.9 556.6 L518.8 556.6 L520.7 556.6 L522.6 556.6 L524.6 556.6 L526.5 556.6 L528.4 556.6 L530.3 556.7 L532.2 556.7 L534.2 556.7 L536.1 556.7 L538 556.7 L539.9 556.7 L541.8 556.7 L543.8 556.7 L545.7 556.7 L547.6 556.7" stroke="#b9664c" stroke-width="1.4" fill="none" stroke-linejoin="round"/>
<line x1="432.4" y1="522.2" x2="432.4" y2="600" stroke="#000" stroke-width="1.5"/>
<line x1="431.7" y1="599.3" x2="548.1" y2="599.3" stroke="#000" stroke-width="1.6"/>
<line x1="428.5" y1="599.3" x2="432.4" y2="599.3" stroke="#000" stroke-width="1.1"/>
<text x="427.9" y="601.7" font-size="6.7" text-anchor="end">0</text>
<line x1="428.5" y1="584" x2="432.4" y2="584" stroke="#000" stroke-width="1.1"/>
<text x="427.9" y="586.4" font-size="6.7" text-anchor="end">20</text>
<line x1="428.5" y1="568.6" x2="432.4" y2="568.6" stroke="#000" stroke-width="1.1"/>
<text x="427.9" y="571" font-size="6.7" text-anchor="end">40</text>
<line x1="428.5" y1="553.3" x2="432.4" y2="553.3" stroke="#000" stroke-width="1.1"/>
<text x="427.9" y="555.7" font-size="6.7" text-anchor="end">60</text>
<line x1="428.5" y1="537.9" x2="432.4" y2="537.9" stroke="#000" stroke-width="1.1"/>
<text x="427.9" y="540.4" font-size="6.7" text-anchor="end">80</text>
<line x1="428.5" y1="522.6" x2="432.4" y2="522.6" stroke="#000" stroke-width="1.1"/>
<text x="427.9" y="525" font-size="6.7" text-anchor="end">100</text>
<line x1="432.4" y1="599.3" x2="432.4" y2="602.3" stroke="#000" stroke-width="1.1"/>
<text x="432.4" y="610.3" font-size="6.7" text-anchor="middle">0</text>
<line x1="451.6" y1="599.3" x2="451.6" y2="602.3" stroke="#000" stroke-width="1.1"/>
<text x="451.6" y="610.3" font-size="6.7" text-anchor="middle">100</text>
<line x1="470.8" y1="599.3" x2="470.8" y2="602.3" stroke="#000" stroke-width="1.1"/>
<text x="470.8" y="610.3" font-size="6.7" text-anchor="middle">200</text>
<line x1="490" y1="599.3" x2="490" y2="602.3" stroke="#000" stroke-width="1.1"/>
<text x="490" y="610.3" font-size="6.7" text-anchor="middle">300</text>
<line x1="509.2" y1="599.3" x2="509.2" y2="602.3" stroke="#000" stroke-width="1.1"/>
<text x="509.2" y="610.3" font-size="6.7" text-anchor="middle">400</text>
<line x1="528.4" y1="599.3" x2="528.4" y2="602.3" stroke="#000" stroke-width="1.1"/>
<text x="528.4" y="610.3" font-size="6.7" text-anchor="middle">500</text>
<line x1="547.6" y1="599.3" x2="547.6" y2="602.3" stroke="#000" stroke-width="1.1"/>
<text x="547.6" y="610.3" font-size="6.7" text-anchor="middle">600</text>
<text x="490" y="622" font-size="7.3" text-anchor="middle">Time (S)</text>
<text x="455.4" y="529.6" font-size="9.7" fill="#118a17">KD = 1.524E-8 (M)</text>
<path d="M564 598.9 L564.8 599.1 L565.5 598.5 L566.3 599.2 L567.1 598.7 L567.8 598.8 L568.6 599.2 L569.4 598.7 L570.1 599.2 L570.9 598.8 L571.7 599.2 L572.4 599.1 L573.2 598.7 L574 598.3 L574.8 599.1 L575.5 599 L576.3 598.5 L577.1 598.1 L577.8 598.5 L578.6 598.7 L579.4 598.1 L580.1 599.1 L580.9 598.2 L581.7 598.9 L582.4 599 L583.2 599 L584 598.8 L584.7 598.2 L585.5 599 L586.3 598.5 L587 598.4 L587.8 598.7 L588.6 598.5 L589.3 599.1 L590.1 599.1 L590.9 598.9 L591.6 598.3 L592.4 598.6 L593.2 598.7 L594 598.4 L594.7 598.6 L595.5 598.8 L596.3 598.2 L597 598.3 L597.8 598.8 L598.6 598.4 L599.3 598.5 L600.1 598.1 L600.9 598.2 L601.6 598.7 L602.4 597.9 L603.2 598.9 L603.9 598.6 L604.7 598.2 L605.5 598.9 L606.2 598.5 L607 599 L607.8 598.2 L608.5 598.1 L609.3 598.3 L610.1 598 L610.8 598.6 L611.6 598.2 L612.4 598.3 L613.2 598.3 L613.9 598.5 L614.7 598 L615.5 597.9 L616.2 598.4 L617 598.2 L617.8 598.9 L618.5 598.1 L619.3 598.2 L620.1 597.8 L620.8 598 L621.6 598.6 L622.4 598.5 L623.1 598.1 L623.9 598.9 L624.7 598.4 L625.4 598.7 L626.2 598.8 L627 598.8 L627.7 598 L628.5 598.7 L629.3 598.6 L630 598.4 L630.8 597.9 L631.6 598.8 L632.4 598.3 L633.1 598.2 L633.9 597.8 L634.7 597.9 L635.4 597.8 L636.2 598.5 L637 598.4 L637.7 598.4 L638.5 597.8 L639.3 597.7 L640 598.6 L640.8 598.6 L641.6 598.5 L642.3 598.5 L643.1 598.2 L643.9 598.1 L644.6 598.5 L645.4 598.8 L646.2 598.3 L646.9 598.3 L647.7 598.1 L648.5 597.7 L649.2 598 L650 598.2 L650.8 598 L651.6 598 L652.3 598.7 L653.1 597.7 L653.9 597.8 L654.6 597.7 L655.4 597.8 L656.2 598.3 L656.9 598.2 L657.7 598.6 L658.5 598 L659.2 598.6 L660 598.6 L660.8 598.4 L661.5 598.5 L662.3 598.3 L663.1 598.6 L663.8 598.7 L664.6 598.5 L665.4 598.5 L666.1 598.2 L666.9 598.6 L667.7 597.6 L668.4 597.9 L669.2 598.5 L670 598.3 L670.8 598.2 L671.5 598.2 L672.3 598.5 L673.1 597.6 L673.8 597.4 L674.6 598.1 L675.4 598 L676.1 598.5 L676.9 598.5 L677.7 598.2 L678.4 598.3 L679.2 597.6" stroke="#b9664c" stroke-width="0.9" fill="none"/>
<path d="M564 598.4 L564.8 598.5 L565.5 597.5 L566.3 598 L567.1 598.4 L567.8 597.9 L568.6 598.5 L569.4 598 L570.1 597.4 L570.9 597.6 L571.7 597.8 L572.4 598.3 L573.2 598.1 L574 598.4 L574.8 597.7 L575.5 598 L576.3 597.7 L577.1 598.2 L577.8 598.3 L578.6 597.6 L579.4 597.4 L580.1 597.6 L580.9 597.6 L581.7 597.6 L582.4 597.7 L583.2 598.3 L584 598 L584.7 598.2 L585.5 598.5 L586.3 598.5 L587 598.2 L587.8 598.3 L588.6 597.8 L589.3 597.5 L590.1 598.1 L590.9 597.5 L591.6 597.4 L592.4 597.5 L593.2 598.1 L594 598.3 L594.7 598.3 L595.5 598.3 L596.3 598.3 L597 597.8 L597.8 597.5 L598.6 597.6 L599.3 598 L600.1 597.8 L600.9 597.6 L601.6 598.5 L602.4 591.1 L603.2 597.7 L603.9 597.7 L604.7 598 L605.5 598.4 L606.2 597.7 L607 598.2 L607.8 597.6 L608.5 597.4 L609.3 598.1 L610.1 598.1 L610.8 597.5 L611.6 597.7 L612.4 598.4 L613.2 598.4 L613.9 598.4 L614.7 597.5 L615.5 597.6 L616.2 598.4 L617 597.6 L617.8 597.4 L618.5 597.8 L619.3 598.2 L620.1 597.9 L620.8 598.4 L621.6 598.6 L622.4 597.4 L623.1 597.8 L623.9 598 L624.7 597.5 L625.4 598.1 L626.2 597.6 L627 597.6 L627.7 598.3 L628.5 598.3 L629.3 598.2 L630 598.3 L630.8 597.9 L631.6 598.3 L632.4 598.1 L633.1 598.4 L633.9 597.5 L634.7 598.2 L635.4 598 L636.2 597.9 L637 597.5 L637.7 598.1 L638.5 597.5 L639.3 598 L640 598 L640.8 598 L641.6 598.5 L642.3 598.1 L643.1 598.4 L643.9 598.6 L644.6 597.6 L645.4 598.4 L646.2 598 L646.9 597.7 L647.7 597.9 L648.5 598.2 L649.2 598 L650 597.9 L650.8 597.7 L651.6 598.4 L652.3 597.9 L653.1 598.3 L653.9 598.2 L654.6 597.7 L655.4 598 L656.2 597.9 L656.9 597.7 L657.7 597.5 L658.5 598.1 L659.2 597.9 L660 598 L660.8 598 L661.5 597.8 L662.3 598 L663.1 598 L663.8 598 L664.6 597.5 L665.4 597.8 L666.1 597.6 L666.9 597.5 L667.7 598.3 L668.4 597.9 L669.2 597.5 L670 597.6 L670.8 598.4 L671.5 598.4 L672.3 598.1 L673.1 598.5 L673.8 598.3 L674.6 598.5 L675.4 597.8 L676.1 597.7 L676.9 597.5 L677.7 598.4 L678.4 597.7 L679.2 597.8" stroke="#e64a32" stroke-width="0.9" fill="none"/>
<path d="M564 595.6 L564.8 594.5 L565.5 594.4 L566.3 595.5 L567.1 594.4 L567.8 595.2 L568.6 595.1 L569.4 594.3 L570.1 594.6 L570.9 595.5 L571.7 595.1 L572.4 595 L573.2 595.3 L574 595.5 L574.8 595.3 L575.5 594.7 L576.3 595.7 L577.1 594.9 L577.8 595.1 L578.6 595.7 L579.4 595.2 L580.1 594.8 L580.9 595 L581.7 595.6 L582.4 594.3 L583.2 594.5 L584 594.3 L584.7 595.5 L585.5 595.3 L586.3 595.6 L587 594.5 L587.8 595.3 L588.6 595.5 L589.3 595 L590.1 594.3 L590.9 594.4 L591.6 595.3 L592.4 595.4 L593.2 594.3 L594 594.8 L594.7 594.6 L595.5 595.5 L596.3 595.5 L597 594.6 L597.8 595 L598.6 595.5 L599.3 594.2 L600.1 594.7 L600.9 594.4 L601.6 595.4 L602.4 594.3 L603.2 595.5 L603.9 594.3 L604.7 594.9 L605.5 595 L606.2 594.7 L607 594.2 L607.8 595.1 L608.5 595.3 L609.3 594.7 L610.1 595.2 L610.8 595.3 L611.6 595.3 L612.4 595.4 L613.2 595.2 L613.9 595 L614.7 595 L615.5 594.4 L616.2 595.1 L617 594.7 L617.8 595.2 L618.5 595 L619.3 595.4 L620.1 595.1 L620.8 595.4 L621.6 594.4 L622.4 594.6 L623.1 595.2 L623.9 594.7 L624.7 594.1 L625.4 595.3 L626.2 594.2 L627 594.8 L627.7 594.7 L628.5 594.2 L629.3 594.8 L630 594.6 L630.8 594.4 L631.6 593.9 L632.4 594.9 L633.1 594.2 L633.9 594.3 L634.7 594.4 L635.4 594.8 L636.2 594.8 L637 595.3 L637.7 595.1 L638.5 595.2 L639.3 594.2 L640 595 L640.8 595.1 L641.6 595.2 L642.3 594.1 L643.1 594 L643.9 594.3 L644.6 594.9 L645.4 594.9 L646.2 594.9 L646.9 594.6 L647.7 595 L648.5 594.6 L649.2 594.9 L650 593.9 L650.8 593.8 L651.6 594.5 L652.3 594.9 L653.1 593.8 L653.9 594.8 L654.6 594.7 L655.4 595.2 L656.2 594.7 L656.9 594.5 L657.7 594.5 L658.5 594.9 L659.2 594.5 L660 595.2 L660.8 594.8 L661.5 595.1 L662.3 594.6 L663.1 595.1 L663.8 595.1 L664.6 594.7 L665.4 594.8 L666.1 594.3 L666.9 594.4 L667.7 594.1 L668.4 594.2 L669.2 594.1 L670 593.9 L670.8 594.6 L671.5 594.6 L672.3 593.7 L673.1 594.9 L673.8 594.1 L674.6 594.2 L675.4 595 L676.1 593.9 L676.9 593.8 L677.7 594.2 L678.4 594 L679.2 593.9" stroke="#f1b14e" stroke-width="0.9" fill="none"/>
<path d="M564 596.6 L564.8 596.1 L565.5 596.2 L566.3 595.8 L567.1 595.8 L567.8 595.8 L568.6 596.1 L569.4 595.7 L570.1 595.9 L570.9 595.9 L571.7 596.5 L572.4 596.7 L573.2 596.6 L574 596.3 L574.8 596.6 L575.5 595.7 L576.3 596.1 L577.1 596 L577.8 596 L578.6 595.9 L579.4 596.1 L580.1 596.7 L580.9 595.8 L581.7 595.8 L582.4 596.1 L583.2 596.1 L584 595.9 L584.7 596.6 L585.5 595.8 L586.3 596.4 L587 596.6 L587.8 596.4 L588.6 595.8 L589.3 596.4 L590.1 595.8 L590.9 595.5 L591.6 596.1 L592.4 596.2 L593.2 596.1 L594 595.9 L594.7 595.8 L595.5 595.9 L596.3 595.9 L597 596.6 L597.8 596.5 L598.6 596.3 L599.3 595.8 L600.1 596.3 L600.9 596 L601.6 596.6 L602.4 596.6 L603.2 596.3 L603.9 595.8 L604.7 595.8 L605.5 595.8 L606.2 596.3 L607 596 L607.8 596.1 L608.5 596.1 L609.3 596.5 L610.1 595.6 L610.8 596.4 L611.6 595.5 L612.4 595.5 L613.2 596.6 L613.9 596.1 L614.7 595.6 L615.5 595.5 L616.2 596.1 L617 596.3 L617.8 596.3 L618.5 595.5 L619.3 596.3 L620.1 595.9 L620.8 596.4 L621.6 596 L622.4 595.5 L623.1 596.4 L623.9 595.6 L624.7 596 L625.4 595.5 L626.2 595.7 L627 596.3 L627.7 595.5 L628.5 596 L629.3 596.5 L630 596.5 L630.8 596 L631.6 596 L632.4 596.2 L633.1 596.4 L633.9 596.1 L634.7 596.2 L635.4 595.5 L636.2 596.5 L637 595.6 L637.7 595.5 L638.5 596.4 L639.3 595.4 L640 595.7 L640.8 595.5 L641.6 596.2 L642.3 596.1 L643.1 596 L643.9 595.3 L644.6 595.8 L645.4 596.1 L646.2 596 L646.9 596.2 L647.7 596.4 L648.5 596.4 L649.2 595.5 L650 596.1 L650.8 595.4 L651.6 596.2 L652.3 596.2 L653.1 595.9 L653.9 596.2 L654.6 596 L655.4 595.3 L656.2 595.4 L656.9 595.5 L657.7 595.7 L658.5 595.4 L659.2 595.4 L660 595.8 L660.8 595.6 L661.5 596.4 L662.3 595.6 L663.1 595.9 L663.8 595.6 L664.6 595.7 L665.4 596.1 L666.1 596.4 L666.9 595.3 L667.7 596.3 L668.4 595.9 L669.2 596 L670 596.1 L670.8 595.6 L671.5 595.3 L672.3 596.1 L673.1 595.6 L673.8 596.1 L674.6 595.8 L675.4 595.9 L676.1 596.2 L676.9 596.2 L677.7 596.1 L678.4 595.3 L679.2 595.8" stroke="#f2d8ba" stroke-width="0.9" fill="none"/>
<path d="M564 596.1 L564.8 595.3 L565.5 595.2 L566.3 595.9 L567.1 596.2 L567.8 596.2 L568.6 596.3 L569.4 596 L570.1 596.3 L570.9 596.1 L571.7 596.1 L572.4 595.7 L573.2 595.4 L574 595.5 L574.8 595.9 L575.5 595.9 L576.3 595.8 L577.1 595.9 L577.8 596 L578.6 596.3 L579.4 596.1 L580.1 595.3 L580.9 596.2 L581.7 595.8 L582.4 595.7 L583.2 595.4 L584 596.1 L584.7 596.1 L585.5 596.1 L586.3 595.9 L587 595.9 L587.8 595.3 L588.6 595.4 L589.3 595.4 L590.1 596.4 L590.9 596.3 L591.6 595.6 L592.4 595.3 L593.2 595.8 L594 595.7 L594.7 596.4 L595.5 595.9 L596.3 595.3 L597 595.4 L597.8 595.4 L598.6 595.3 L599.3 596.1 L600.1 596.3 L600.9 596.2 L601.6 595.8 L602.4 595.6 L603.2 595.3 L603.9 595.5 L604.7 595.6 L605.5 595.5 L606.2 595.9 L607 595.7 L607.8 596.3 L608.5 595.5 L609.3 596.1 L610.1 595.3 L610.8 595.6 L611.6 596 L612.4 596.2 L613.2 596.1 L613.9 595.6 L614.7 595.6 L615.5 596.3 L616.2 596.3 L617 595.8 L617.8 595.7 L618.5 595.9 L619.3 596.1 L620.1 595.7 L620.8 596.4 L621.6 596 L622.4 595.8 L623.1 595.3 L623.9 595.6 L624.7 595.4 L625.4 595.8 L626.2 596.1 L627 596.1 L627.7 595.3 L628.5 595.6 L629.3 596 L630 596.4 L630.8 595.8 L631.6 595.6 L632.4 595.9 L633.1 596.1 L633.9 595.6 L634.7 595.3 L635.4 596.1 L636.2 596.3 L637 596 L637.7 595.9 L638.5 595.6 L639.3 596.2 L640 595.5 L640.8 595.5 L641.6 595.8 L642.3 596.1 L643.1 595.3 L643.9 596 L644.6 595.4 L645.4 596.1 L646.2 596.1 L646.9 595.5 L647.7 596 L648.5 595.3 L649.2 595.8 L650 596.2 L650.8 596.1 L651.6 595.9 L652.3 595.6 L653.1 595.3 L653.9 596.2 L654.6 595.9 L655.4 596.1 L656.2 595.3 L656.9 596.2 L657.7 596.3 L658.5 596.3 L659.2 595.9 L660 595.3 L660.8 595.4 L661.5 595.5 L662.3 595.2 L663.1 595.3 L663.8 596 L664.6 596.2 L665.4 595.3 L666.1 595.5 L666.9 596.3 L667.7 595.6 L668.4 595.9 L669.2 596 L670 596 L670.8 596.2 L671.5 596.4 L672.3 596.1 L673.1 596 L673.8 595.3 L674.6 596.2 L675.4 595.3 L676.1 596.1 L676.9 596 L677.7 595.4 L678.4 595.4 L679.2 595.9" stroke="#8cbd9f" stroke-width="0.9" fill="none"/>
<path d="M564 596.1 L564.8 595.5 L565.5 595.6 L566.3 594.8 L567.1 595.9 L567.8 595.6 L568.6 594.9 L569.4 596.1 L570.1 595.6 L570.9 595 L571.7 595.1 L572.4 596.1 L573.2 596.1 L574 596.1 L574.8 594.9 L575.5 595.8 L576.3 595.1 L577.1 594.9 L577.8 595.7 L578.6 595.8 L579.4 594.8 L580.1 595.3 L580.9 595.8 L581.7 595.2 L582.4 595.8 L583.2 595.8 L584 596.2 L584.7 595.1 L585.5 594.9 L586.3 595.3 L587 594.9 L587.8 596.2 L588.6 595.9 L589.3 595.6 L590.1 594.9 L590.9 594.9 L591.6 595.7 L592.4 595.9 L593.2 595.6 L594 595.5 L594.7 594.9 L595.5 596 L596.3 595.1 L597 595.2 L597.8 595.1 L598.6 595.2 L599.3 595.4 L600.1 595.8 L600.9 595.8 L601.6 595.8 L602.4 600.6 L603.2 596 L603.9 595.2 L604.7 595.9 L605.5 596.2 L606.2 596.3 L607 595.5 L607.8 595.8 L608.5 594.9 L609.3 595 L610.1 594.9 L610.8 595.9 L611.6 596.2 L612.4 596.2 L613.2 595.6 L613.9 595.3 L614.7 595.7 L615.5 596 L616.2 595.7 L617 595.4 L617.8 595.4 L618.5 595.3 L619.3 595.1 L620.1 595.4 L620.8 596.2 L621.6 595.1 L622.4 595.9 L623.1 595.5 L623.9 595.8 L624.7 595.3 L625.4 596.1 L626.2 596 L627 596 L627.7 596.1 L628.5 595.1 L629.3 595.5 L630 595.9 L630.8 595.8 L631.6 594.9 L632.4 595.6 L633.1 596 L633.9 595.2 L634.7 595.4 L635.4 595 L636.2 596.2 L637 595.7 L637.7 595.2 L638.5 595.2 L639.3 595.1 L640 596.3 L640.8 596 L641.6 596.2 L642.3 596.1 L643.1 595 L643.9 595.6 L644.6 595.1 L645.4 595.9 L646.2 595.2 L646.9 595.8 L647.7 596.1 L648.5 595.3 L649.2 595.1 L650 596.3 L650.8 595.6 L651.6 595.5 L652.3 596.1 L653.1 595.9 L653.9 596.2 L654.6 596.2 L655.4 596.1 L656.2 595.6 L656.9 595.5 L657.7 596.2 L658.5 596.4 L659.2 596 L660 595.5 L660.8 596.2 L661.5 596 L662.3 596.2 L663.1 595.3 L663.8 595.7 L664.6 596.4 L665.4 596.3 L666.1 595.9 L666.9 595.7 L667.7 595.6 L668.4 596.4 L669.2 596.3 L670 595.5 L670.8 595.9 L671.5 596.1 L672.3 596.1 L673.1 595.1 L673.8 596.1 L674.6 595.7 L675.4 596 L676.1 595.9 L676.9 595.3 L677.7 595.1 L678.4 596 L679.2 596.2" stroke="#36a68b" stroke-width="0.9" fill="none"/>
<line x1="602.4" y1="588.2" x2="602.4" y2="599.8" stroke="#e64a32" stroke-width="0.8"/>
<line x1="602.8" y1="592.5" x2="602.8" y2="600.5" stroke="#36a68b" stroke-width="0.8"/>
<line x1="564" y1="522.2" x2="564" y2="600" stroke="#000" stroke-width="1.5"/>
<line x1="563.3" y1="599.3" x2="679.7" y2="599.3" stroke="#000" stroke-width="1.6"/>
<line x1="560.1" y1="595.4" x2="564" y2="595.4" stroke="#000" stroke-width="1.1"/>
<text x="559.5" y="597.9" font-size="6.7" text-anchor="end">0</text>
<line x1="560.1" y1="580.9" x2="564" y2="580.9" stroke="#000" stroke-width="1.1"/>
<text x="559.5" y="583.3" font-size="6.7" text-anchor="end">2</text>
<line x1="560.1" y1="566.3" x2="564" y2="566.3" stroke="#000" stroke-width="1.1"/>
<text x="559.5" y="568.7" font-size="6.7" text-anchor="end">4</text>
<line x1="560.1" y1="551.7" x2="564" y2="551.7" stroke="#000" stroke-width="1.1"/>
<text x="559.5" y="554.1" font-size="6.7" text-anchor="end">6</text>
<line x1="560.1" y1="537.2" x2="564" y2="537.2" stroke="#000" stroke-width="1.1"/>
<text x="559.5" y="539.6" font-size="6.7" text-anchor="end">8</text>
<line x1="560.1" y1="522.6" x2="564" y2="522.6" stroke="#000" stroke-width="1.1"/>
<text x="559.5" y="525" font-size="6.7" text-anchor="end">10</text>
<line x1="564" y1="599.3" x2="564" y2="602.3" stroke="#000" stroke-width="1.1"/>
<text x="564" y="610.3" font-size="6.7" text-anchor="middle">0</text>
<line x1="583.2" y1="599.3" x2="583.2" y2="602.3" stroke="#000" stroke-width="1.1"/>
<text x="583.2" y="610.3" font-size="6.7" text-anchor="middle">100</text>
<line x1="602.4" y1="599.3" x2="602.4" y2="602.3" stroke="#000" stroke-width="1.1"/>
<text x="602.4" y="610.3" font-size="6.7" text-anchor="middle">200</text>
<line x1="621.6" y1="599.3" x2="621.6" y2="602.3" stroke="#000" stroke-width="1.1"/>
<text x="621.6" y="610.3" font-size="6.7" text-anchor="middle">300</text>
<line x1="640.8" y1="599.3" x2="640.8" y2="602.3" stroke="#000" stroke-width="1.1"/>
<text x="640.8" y="610.3" font-size="6.7" text-anchor="middle">400</text>
<line x1="660" y1="599.3" x2="660" y2="602.3" stroke="#000" stroke-width="1.1"/>
<text x="660" y="610.3" font-size="6.7" text-anchor="middle">500</text>
<line x1="679.2" y1="599.3" x2="679.2" y2="602.3" stroke="#000" stroke-width="1.1"/>
<text x="679.2" y="610.3" font-size="6.7" text-anchor="middle">600</text>
<text x="621.6" y="622" font-size="7.3" text-anchor="middle">Time (S)</text>
<line x1="619.4" y1="531.5" x2="628" y2="531.5" stroke="#b9664c" stroke-width="1.5"/>
<text x="632.6" y="534.4" font-size="8">50 nM</text>
<line x1="619.4" y1="542.6" x2="628" y2="542.6" stroke="#e64a32" stroke-width="1.5"/>
<text x="632.6" y="545.5" font-size="8">25 nM</text>
<line x1="619.4" y1="553.7" x2="628" y2="553.7" stroke="#f1b14e" stroke-width="1.5"/>
<text x="632.6" y="556.5" font-size="8">12.50 nM</text>
<line x1="619.4" y1="564.7" x2="628" y2="564.7" stroke="#f2d8ba" stroke-width="1.5"/>
<text x="632.6" y="567.6" font-size="8">6.25 nM</text>
<line x1="619.4" y1="575.8" x2="628" y2="575.8" stroke="#8cbd9f" stroke-width="1.5"/>
<text x="632.6" y="578.7" font-size="8">3.12 nM</text>
<line x1="619.4" y1="586.9" x2="628" y2="586.9" stroke="#36a68b" stroke-width="1.5"/>
<text x="632.6" y="589.8" font-size="8">1.56 nM</text>
<path d="M36.4 705.2 L36.6 705.1 L36.8 705.1 L37 705 L37.2 704.9 L37.9 704.6 L38.7 704.3 L39.5 704 L40.2 703.7 L41 703.5 L41.8 703.2 L42.5 702.9 L43.3 702.6 L44.1 702.3 L44.8 702 L45.6 701.7 L46.4 701.5 L47.2 701.2 L47.9 700.9 L48.7 700.6 L49.5 700.4 L50.2 700.1 L51 699.8 L51.8 699.5 L52.5 699.3 L53.3 699 L54.1 698.7 L54.8 698.5 L55.6 698.2 L56.4 697.9 L57.1 697.7 L57.9 697.4 L58.7 697.1 L59.4 696.9 L60.2 696.6 L61 696.3 L61.7 696.1 L62.5 695.8 L63.3 695.6 L64 695.3 L64.8 695.1 L65.6 694.8 L66.4 694.6 L67.1 694.3 L67.9 694 L68.7 693.8 L69.4 693.6 L70.2 693.3 L71 693.1 L71.7 692.8 L72.5 692.6 L73.3 692.3 L74 692.1 L74.8 691.8 L76.7 691.8 L78.6 691.9 L80.6 691.9 L82.5 691.9 L84.4 691.9 L86.3 691.9 L88.2 691.9 L90.2 691.9 L92.1 691.9 L94 691.9 L95.9 691.9 L97.8 691.9 L99.8 692 L101.7 692 L103.6 692 L105.5 692 L107.4 692 L109.4 692 L111.3 692 L113.2 692 L115.1 692 L117 692 L119 692 L120.9 692 L122.8 692 L124.7 692.1 L126.6 692.1 L128.6 692.1 L130.5 692.1 L132.4 692.1 L134.3 692.1 L136.2 692.1 L138.2 692.1 L140.1 692.1 L142 692.1 L143.9 692.1 L145.8 692.1 L147.8 692.1 L149.7 692.1 L151.6 692.1" stroke="#36a68b" stroke-width="1.4" fill="none" stroke-linejoin="round"/>
<path d="M36.4 705.2 L36.6 705.1 L36.8 704.9 L37 704.8 L37.2 704.7 L37.9 704.2 L38.7 703.6 L39.5 703.1 L40.2 702.6 L41 702.1 L41.8 701.6 L42.5 701.1 L43.3 700.6 L44.1 700.1 L44.8 699.5 L45.6 699 L46.4 698.5 L47.2 698 L47.9 697.6 L48.7 697.1 L49.5 696.6 L50.2 696.1 L51 695.6 L51.8 695.1 L52.5 694.6 L53.3 694.1 L54.1 693.7 L54.8 693.2 L55.6 692.7 L56.4 692.2 L57.1 691.8 L57.9 691.3 L58.7 690.8 L59.4 690.3 L60.2 689.9 L61 689.4 L61.7 689 L62.5 688.5 L63.3 688 L64 687.6 L64.8 687.1 L65.6 686.7 L66.4 686.2 L67.1 685.8 L67.9 685.3 L68.7 684.9 L69.4 684.4 L70.2 684 L71 683.6 L71.7 683.1 L72.5 682.7 L73.3 682.3 L74 681.8 L74.8 681.4 L76.7 681.4 L78.6 681.4 L80.6 681.4 L82.5 681.4 L84.4 681.5 L86.3 681.5 L88.2 681.5 L90.2 681.5 L92.1 681.5 L94 681.5 L95.9 681.5 L97.8 681.6 L99.8 681.6 L101.7 681.6 L103.6 681.6 L105.5 681.6 L107.4 681.6 L109.4 681.6 L111.3 681.6 L113.2 681.6 L115.1 681.7 L117 681.7 L119 681.7 L120.9 681.7 L122.8 681.7 L124.7 681.7 L126.6 681.7 L128.6 681.7 L130.5 681.7 L132.4 681.8 L134.3 681.8 L136.2 681.8 L138.2 681.8 L140.1 681.8 L142 681.8 L143.9 681.8 L145.8 681.8 L147.8 681.8 L149.7 681.8 L151.6 681.9" stroke="#8cbd9f" stroke-width="1.3" fill="none" stroke-linejoin="round"/>
<path d="M36.4 705.2 L36.6 704.9 L36.8 704.6 L37 704.3 L37.2 704 L37.9 702.8 L38.7 701.6 L39.5 700.5 L40.2 699.3 L41 698.2 L41.8 697.1 L42.5 696 L43.3 695 L44.1 694 L44.8 693 L45.6 692 L46.4 691 L47.2 690 L47.9 689.1 L48.7 688.2 L49.5 687.3 L50.2 686.4 L51 685.5 L51.8 684.7 L52.5 683.8 L53.3 683 L54.1 682.2 L54.8 681.4 L55.6 680.6 L56.4 679.9 L57.1 679.1 L57.9 678.4 L58.7 677.7 L59.4 676.9 L60.2 676.3 L61 675.6 L61.7 674.9 L62.5 674.2 L63.3 673.6 L64 673 L64.8 672.4 L65.6 671.7 L66.4 671.1 L67.1 670.6 L67.9 670 L68.7 669.4 L69.4 668.9 L70.2 668.3 L71 667.8 L71.7 667.3 L72.5 666.7 L73.3 666.2 L74 665.7 L74.8 665.3 L76.7 665.3 L78.6 665.3 L80.6 665.3 L82.5 665.4 L84.4 665.4 L86.3 665.4 L88.2 665.4 L90.2 665.4 L92.1 665.5 L94 665.5 L95.9 665.5 L97.8 665.5 L99.8 665.5 L101.7 665.6 L103.6 665.6 L105.5 665.6 L107.4 665.6 L109.4 665.6 L111.3 665.7 L113.2 665.7 L115.1 665.7 L117 665.7 L119 665.7 L120.9 665.8 L122.8 665.8 L124.7 665.8 L126.6 665.8 L128.6 665.8 L130.5 665.9 L132.4 665.9 L134.3 665.9 L136.2 665.9 L138.2 665.9 L140.1 665.9 L142 666 L143.9 666 L145.8 666 L147.8 666 L149.7 666 L151.6 666" stroke="#f2d8ba" stroke-width="1.3" fill="none" stroke-linejoin="round"/>
<path d="M36.4 705.2 L36.6 704.3 L36.8 703.5 L37 702.7 L37.2 701.9 L37.9 698.7 L38.7 695.7 L39.5 693 L40.2 690.3 L41 687.9 L41.8 685.5 L42.5 683.3 L43.3 681.3 L44.1 679.3 L44.8 677.5 L45.6 675.7 L46.4 674.1 L47.2 672.6 L47.9 671.1 L48.7 669.8 L49.5 668.5 L50.2 667.3 L51 666.2 L51.8 665.1 L52.5 664.1 L53.3 663.1 L54.1 662.3 L54.8 661.4 L55.6 660.6 L56.4 659.9 L57.1 659.2 L57.9 658.5 L58.7 657.9 L59.4 657.3 L60.2 656.7 L61 656.2 L61.7 655.7 L62.5 655.3 L63.3 654.8 L64 654.4 L64.8 654 L65.6 653.7 L66.4 653.3 L67.1 653 L67.9 652.7 L68.7 652.4 L69.4 652.2 L70.2 651.9 L71 651.7 L71.7 651.4 L72.5 651.2 L73.3 651 L74 650.8 L74.8 650.7 L76.7 650.7 L78.6 650.8 L80.6 650.8 L82.5 650.8 L84.4 650.9 L86.3 650.9 L88.2 651 L90.2 651 L92.1 651 L94 651.1 L95.9 651.1 L97.8 651.1 L99.8 651.2 L101.7 651.2 L103.6 651.3 L105.5 651.3 L107.4 651.3 L109.4 651.4 L111.3 651.4 L113.2 651.4 L115.1 651.5 L117 651.5 L119 651.5 L120.9 651.6 L122.8 651.6 L124.7 651.6 L126.6 651.7 L128.6 651.7 L130.5 651.7 L132.4 651.8 L134.3 651.8 L136.2 651.8 L138.2 651.9 L140.1 651.9 L142 651.9 L143.9 651.9 L145.8 652 L147.8 652 L149.7 652 L151.6 652.1" stroke="#f1b14e" stroke-width="1.3" fill="none" stroke-linejoin="round"/>
<path d="M36.4 705.2 L36.6 704 L36.8 702.8 L37 701.6 L37.2 700.5 L37.9 696.1 L38.7 692.1 L39.5 688.4 L40.2 684.9 L41 681.8 L41.8 678.8 L42.5 676.1 L43.3 673.6 L44.1 671.2 L44.8 669.1 L45.6 667.1 L46.4 665.2 L47.2 663.5 L47.9 662 L48.7 660.5 L49.5 659.1 L50.2 657.9 L51 656.7 L51.8 655.7 L52.5 654.7 L53.3 653.8 L54.1 652.9 L54.8 652.1 L55.6 651.4 L56.4 650.7 L57.1 650.1 L57.9 649.6 L58.7 649 L59.4 648.5 L60.2 648.1 L61 647.7 L61.7 647.3 L62.5 646.9 L63.3 646.6 L64 646.3 L64.8 646 L65.6 645.7 L66.4 645.5 L67.1 645.3 L67.9 645.1 L68.7 644.9 L69.4 644.7 L70.2 644.5 L71 644.4 L71.7 644.2 L72.5 644.1 L73.3 644 L74 643.9 L74.8 643.8 L76.7 645.3 L78.6 645.4 L80.6 645.4 L82.5 645.5 L84.4 645.5 L86.3 645.6 L88.2 645.6 L90.2 645.7 L92.1 645.7 L94 645.7 L95.9 645.8 L97.8 645.8 L99.8 645.9 L101.7 645.9 L103.6 645.9 L105.5 646 L107.4 646 L109.4 646.1 L111.3 646.1 L113.2 646.1 L115.1 646.2 L117 646.2 L119 646.3 L120.9 646.3 L122.8 646.3 L124.7 646.4 L126.6 646.4 L128.6 646.4 L130.5 646.5 L132.4 646.5 L134.3 646.5 L136.2 646.6 L138.2 646.6 L140.1 646.6 L142 646.7 L143.9 646.7 L145.8 646.7 L147.8 646.8 L149.7 646.8 L151.6 646.8" stroke="#e64a32" stroke-width="1.4" fill="none" stroke-linejoin="round"/>
<path d="M36.4 705.2 L36.6 702.1 L36.8 699.2 L37 696.4 L37.2 693.8 L37.9 684.4 L38.7 676.8 L39.5 670.5 L40.2 665.4 L41 661.2 L41.8 657.8 L42.5 654.9 L43.3 652.6 L44.1 650.7 L44.8 649.2 L45.6 647.9 L46.4 646.9 L47.2 646.1 L47.9 645.4 L48.7 644.8 L49.5 644.3 L50.2 643.9 L51 643.6 L51.8 643.4 L52.5 643.2 L53.3 643 L54.1 642.9 L54.8 642.7 L55.6 642.6 L56.4 642.6 L57.1 642.5 L57.9 642.5 L58.7 642.4 L59.4 642.4 L60.2 642.3 L61 642.3 L61.7 642.3 L62.5 642.3 L63.3 642.3 L64 642.3 L64.8 642.3 L65.6 642.3 L66.4 642.2 L67.1 642.2 L67.9 642.2 L68.7 642.2 L69.4 642.2 L70.2 642.2 L71 642.2 L71.7 642.2 L72.5 642.2 L73.3 642.2 L74 642.2 L74.8 642.2 L76.7 642.3 L78.6 642.3 L80.6 642.3 L82.5 642.4 L84.4 642.4 L86.3 642.4 L88.2 642.4 L90.2 642.5 L92.1 642.5 L94 642.5 L95.9 642.6 L97.8 642.6 L99.8 642.6 L101.7 642.7 L103.6 642.7 L105.5 642.7 L107.4 642.7 L109.4 642.8 L111.3 642.8 L113.2 642.8 L115.1 642.8 L117 642.9 L119 642.9 L120.9 642.9 L122.8 642.9 L124.7 643 L126.6 643 L128.6 643 L130.5 643 L132.4 643.1 L134.3 643.1 L136.2 643.1 L138.2 643.1 L140.1 643.2 L142 643.2 L143.9 643.2 L145.8 643.2 L147.8 643.3 L149.7 643.3 L151.6 643.3" stroke="#b9664c" stroke-width="1.4" fill="none" stroke-linejoin="round"/>
<line x1="36.4" y1="628" x2="36.4" y2="705.9" stroke="#000" stroke-width="1.5"/>
<line x1="35.7" y1="705.2" x2="152.1" y2="705.2" stroke="#000" stroke-width="1.6"/>
<line x1="32.5" y1="705.2" x2="36.4" y2="705.2" stroke="#000" stroke-width="1.1"/>
<text x="31.9" y="707.6" font-size="6.7" text-anchor="end">0</text>
<line x1="32.5" y1="689.8" x2="36.4" y2="689.8" stroke="#000" stroke-width="1.1"/>
<text x="31.9" y="692.3" font-size="6.7" text-anchor="end">10</text>
<line x1="32.5" y1="674.5" x2="36.4" y2="674.5" stroke="#000" stroke-width="1.1"/>
<text x="31.9" y="676.9" font-size="6.7" text-anchor="end">20</text>
<line x1="32.5" y1="659.1" x2="36.4" y2="659.1" stroke="#000" stroke-width="1.1"/>
<text x="31.9" y="661.5" font-size="6.7" text-anchor="end">30</text>
<line x1="32.5" y1="643.8" x2="36.4" y2="643.8" stroke="#000" stroke-width="1.1"/>
<text x="31.9" y="646.2" font-size="6.7" text-anchor="end">40</text>
<line x1="32.5" y1="628.4" x2="36.4" y2="628.4" stroke="#000" stroke-width="1.1"/>
<text x="31.9" y="630.8" font-size="6.7" text-anchor="end">50</text>
<line x1="36.4" y1="705.2" x2="36.4" y2="708.2" stroke="#000" stroke-width="1.1"/>
<text x="36.4" y="716.3" font-size="6.7" text-anchor="middle">0</text>
<line x1="55.6" y1="705.2" x2="55.6" y2="708.2" stroke="#000" stroke-width="1.1"/>
<text x="55.6" y="716.3" font-size="6.7" text-anchor="middle">100</text>
<line x1="74.8" y1="705.2" x2="74.8" y2="708.2" stroke="#000" stroke-width="1.1"/>
<text x="74.8" y="716.3" font-size="6.7" text-anchor="middle">200</text>
<line x1="94" y1="705.2" x2="94" y2="708.2" stroke="#000" stroke-width="1.1"/>
<text x="94" y="716.3" font-size="6.7" text-anchor="middle">300</text>
<line x1="113.2" y1="705.2" x2="113.2" y2="708.2" stroke="#000" stroke-width="1.1"/>
<text x="113.2" y="716.3" font-size="6.7" text-anchor="middle">400</text>
<line x1="132.4" y1="705.2" x2="132.4" y2="708.2" stroke="#000" stroke-width="1.1"/>
<text x="132.4" y="716.3" font-size="6.7" text-anchor="middle">500</text>
<line x1="151.6" y1="705.2" x2="151.6" y2="708.2" stroke="#000" stroke-width="1.1"/>
<text x="151.6" y="716.3" font-size="6.7" text-anchor="middle">600</text>
<text x="94" y="728.2" font-size="7.3" text-anchor="middle">Time (S)</text>
<text x="56.6" y="636.3" font-size="9.7" fill="#118a17">KD =5.966E-11 (M)</text>
<path d="M168.4 705.2 L168.6 705.1 L168.8 705.1 L169 705 L169.2 705 L169.9 704.7 L170.7 704.5 L171.5 704.2 L172.2 704 L173 703.8 L173.8 703.5 L174.5 703.3 L175.3 703.1 L176.1 702.9 L176.8 702.6 L177.6 702.4 L178.4 702.2 L179.2 702 L179.9 701.8 L180.7 701.6 L181.5 701.4 L182.2 701.2 L183 701 L183.8 700.8 L184.5 700.6 L185.3 700.4 L186.1 700.2 L186.8 700 L187.6 699.9 L188.4 699.7 L189.1 699.5 L189.9 699.3 L190.7 699.2 L191.4 699 L192.2 698.8 L193 698.6 L193.7 698.5 L194.5 698.3 L195.3 698.2 L196 698 L196.8 697.8 L197.6 697.7 L198.4 697.5 L199.1 697.4 L199.9 697.2 L200.7 697.1 L201.4 696.9 L202.2 696.8 L203 696.7 L203.7 696.5 L204.5 696.4 L205.3 696.3 L206 696.1 L206.8 696 L208.7 696 L210.6 696 L212.6 696 L214.5 696 L216.4 696.1 L218.3 696.1 L220.2 696.1 L222.2 696.1 L224.1 696.1 L226 696.1 L227.9 696.1 L229.8 696.1 L231.8 696.2 L233.7 696.2 L235.6 696.2 L237.5 696.2 L239.4 696.2 L241.4 696.2 L243.3 696.2 L245.2 696.2 L247.1 696.2 L249 696.3 L251 696.3 L252.9 696.3 L254.8 696.3 L256.7 696.3 L258.6 696.3 L260.6 696.3 L262.5 696.3 L264.4 696.3 L266.3 696.4 L268.2 696.4 L270.2 696.4 L272.1 696.4 L274 696.4 L275.9 696.4 L277.8 696.4 L279.8 696.4 L281.7 696.4 L283.6 696.4" stroke="#36a68b" stroke-width="1.4" fill="none" stroke-linejoin="round"/>
<path d="M168.4 705.2 L168.6 705.1 L168.8 705 L169 704.9 L169.2 704.8 L169.9 704.4 L170.7 704 L171.5 703.6 L172.2 703.2 L173 702.8 L173.8 702.4 L174.5 702 L175.3 701.6 L176.1 701.2 L176.8 700.8 L177.6 700.5 L178.4 700.1 L179.2 699.7 L179.9 699.4 L180.7 699 L181.5 698.7 L182.2 698.3 L183 698 L183.8 697.7 L184.5 697.3 L185.3 697 L186.1 696.7 L186.8 696.3 L187.6 696 L188.4 695.7 L189.1 695.4 L189.9 695.1 L190.7 694.8 L191.4 694.5 L192.2 694.2 L193 693.9 L193.7 693.6 L194.5 693.3 L195.3 693 L196 692.7 L196.8 692.4 L197.6 692.2 L198.4 691.9 L199.1 691.6 L199.9 691.4 L200.7 691.1 L201.4 690.8 L202.2 690.6 L203 690.3 L203.7 690.1 L204.5 689.8 L205.3 689.6 L206 689.3 L206.8 689.1 L208.7 689.1 L210.6 689.1 L212.6 689.1 L214.5 689.1 L216.4 689.1 L218.3 689.1 L220.2 689.1 L222.2 689.1 L224.1 689.2 L226 689.2 L227.9 689.2 L229.8 689.2 L231.8 689.2 L233.7 689.2 L235.6 689.2 L237.5 689.2 L239.4 689.2 L241.4 689.2 L243.3 689.2 L245.2 689.2 L247.1 689.2 L249 689.3 L251 689.3 L252.9 689.3 L254.8 689.3 L256.7 689.3 L258.6 689.3 L260.6 689.3 L262.5 689.3 L264.4 689.3 L266.3 689.3 L268.2 689.3 L270.2 689.3 L272.1 689.3 L274 689.3 L275.9 689.4 L277.8 689.4 L279.8 689.4 L281.7 689.4 L283.6 689.4" stroke="#8cbd9f" stroke-width="1.3" fill="none" stroke-linejoin="round"/>
<path d="M168.4 705.2 L168.6 705 L168.8 704.8 L169 704.6 L169.2 704.4 L169.9 703.7 L170.7 702.9 L171.5 702.2 L172.2 701.4 L173 700.7 L173.8 700 L174.5 699.3 L175.3 698.7 L176.1 698 L176.8 697.3 L177.6 696.7 L178.4 696 L179.2 695.4 L179.9 694.8 L180.7 694.2 L181.5 693.6 L182.2 693 L183 692.4 L183.8 691.8 L184.5 691.3 L185.3 690.7 L186.1 690.2 L186.8 689.6 L187.6 689.1 L188.4 688.6 L189.1 688.1 L189.9 687.6 L190.7 687.1 L191.4 686.6 L192.2 686.1 L193 685.6 L193.7 685.2 L194.5 684.7 L195.3 684.3 L196 683.8 L196.8 683.4 L197.6 683 L198.4 682.5 L199.1 682.1 L199.9 681.7 L200.7 681.3 L201.4 680.9 L202.2 680.5 L203 680.1 L203.7 679.8 L204.5 679.4 L205.3 679 L206 678.7 L206.8 678.3 L208.7 678.3 L210.6 678.4 L212.6 678.4 L214.5 678.4 L216.4 678.4 L218.3 678.5 L220.2 678.5 L222.2 678.5 L224.1 678.5 L226 678.5 L227.9 678.6 L229.8 678.6 L231.8 678.6 L233.7 678.6 L235.6 678.6 L237.5 678.7 L239.4 678.7 L241.4 678.7 L243.3 678.7 L245.2 678.7 L247.1 678.8 L249 678.8 L251 678.8 L252.9 678.8 L254.8 678.8 L256.7 678.9 L258.6 678.9 L260.6 678.9 L262.5 678.9 L264.4 678.9 L266.3 678.9 L268.2 679 L270.2 679 L272.1 679 L274 679 L275.9 679 L277.8 679 L279.8 679.1 L281.7 679.1 L283.6 679.1" stroke="#f2d8ba" stroke-width="1.3" fill="none" stroke-linejoin="round"/>
<path d="M168.4 705.2 L168.6 704.9 L168.8 704.6 L169 704.4 L169.2 704.1 L169.9 703 L170.7 701.9 L171.5 700.9 L172.2 699.9 L173 698.9 L173.8 697.9 L174.5 697 L175.3 696 L176.1 695.1 L176.8 694.2 L177.6 693.4 L178.4 692.5 L179.2 691.7 L179.9 690.9 L180.7 690.1 L181.5 689.3 L182.2 688.6 L183 687.8 L183.8 687.1 L184.5 686.4 L185.3 685.7 L186.1 685 L186.8 684.3 L187.6 683.7 L188.4 683.1 L189.1 682.4 L189.9 681.8 L190.7 681.2 L191.4 680.7 L192.2 680.1 L193 679.5 L193.7 679 L194.5 678.5 L195.3 677.9 L196 677.4 L196.8 676.9 L197.6 676.5 L198.4 676 L199.1 675.5 L199.9 675.1 L200.7 674.6 L201.4 674.2 L202.2 673.8 L203 673.3 L203.7 672.9 L204.5 672.5 L205.3 672.2 L206 671.8 L206.8 671.4 L208.7 671.4 L210.6 671.5 L212.6 671.5 L214.5 671.5 L216.4 671.5 L218.3 671.5 L220.2 671.6 L222.2 671.6 L224.1 671.6 L226 671.6 L227.9 671.7 L229.8 671.7 L231.8 671.7 L233.7 671.7 L235.6 671.7 L237.5 671.8 L239.4 671.8 L241.4 671.8 L243.3 671.8 L245.2 671.8 L247.1 671.8 L249 671.9 L251 671.9 L252.9 671.9 L254.8 671.9 L256.7 671.9 L258.6 672 L260.6 672 L262.5 672 L264.4 672 L266.3 672 L268.2 672 L270.2 672.1 L272.1 672.1 L274 672.1 L275.9 672.1 L277.8 672.1 L279.8 672.1 L281.7 672.2 L283.6 672.2" stroke="#f1b14e" stroke-width="1.3" fill="none" stroke-linejoin="round"/>
<path d="M168.4 705.2 L168.6 704.8 L168.8 704.4 L169 704 L169.2 703.6 L169.9 702 L170.7 700.4 L171.5 698.9 L172.2 697.4 L173 696 L173.8 694.6 L174.5 693.3 L175.3 692 L176.1 690.7 L176.8 689.4 L177.6 688.2 L178.4 687.1 L179.2 685.9 L179.9 684.8 L180.7 683.7 L181.5 682.7 L182.2 681.7 L183 680.7 L183.8 679.7 L184.5 678.8 L185.3 677.9 L186.1 677 L186.8 676.2 L187.6 675.3 L188.4 674.5 L189.1 673.7 L189.9 673 L190.7 672.2 L191.4 671.5 L192.2 670.8 L193 670.1 L193.7 669.5 L194.5 668.8 L195.3 668.2 L196 667.6 L196.8 667 L197.6 666.4 L198.4 665.9 L199.1 665.3 L199.9 664.8 L200.7 664.3 L201.4 663.8 L202.2 663.3 L203 662.8 L203.7 662.4 L204.5 661.9 L205.3 661.5 L206 661.1 L206.8 660.7 L208.7 660.7 L210.6 660.7 L212.6 660.7 L214.5 660.7 L216.4 660.8 L218.3 660.8 L220.2 660.8 L222.2 660.8 L224.1 660.9 L226 660.9 L227.9 660.9 L229.8 660.9 L231.8 660.9 L233.7 661 L235.6 661 L237.5 661 L239.4 661 L241.4 661 L243.3 661.1 L245.2 661.1 L247.1 661.1 L249 661.1 L251 661.1 L252.9 661.2 L254.8 661.2 L256.7 661.2 L258.6 661.2 L260.6 661.2 L262.5 661.2 L264.4 661.3 L266.3 661.3 L268.2 661.3 L270.2 661.3 L272.1 661.3 L274 661.3 L275.9 661.4 L277.8 661.4 L279.8 661.4 L281.7 661.4 L283.6 661.4" stroke="#e64a32" stroke-width="1.4" fill="none" stroke-linejoin="round"/>
<path d="M168.4 705.2 L168.6 704.7 L168.8 704.2 L169 703.7 L169.2 703.2 L169.9 701.3 L170.7 699.4 L171.5 697.6 L172.2 695.9 L173 694.2 L173.8 692.6 L174.5 691 L175.3 689.5 L176.1 688 L176.8 686.6 L177.6 685.3 L178.4 684 L179.2 682.7 L179.9 681.5 L180.7 680.3 L181.5 679.2 L182.2 678.1 L183 677 L183.8 676 L184.5 675 L185.3 674.1 L186.1 673.2 L186.8 672.3 L187.6 671.4 L188.4 670.6 L189.1 669.8 L189.9 669.1 L190.7 668.3 L191.4 667.6 L192.2 666.9 L193 666.3 L193.7 665.6 L194.5 665 L195.3 664.4 L196 663.8 L196.8 663.3 L197.6 662.7 L198.4 662.2 L199.1 661.7 L199.9 661.2 L200.7 660.8 L201.4 660.3 L202.2 659.9 L203 659.5 L203.7 659.1 L204.5 658.7 L205.3 658.3 L206 657.9 L206.8 657.6 L208.7 657.6 L210.6 657.6 L212.6 657.6 L214.5 657.6 L216.4 657.6 L218.3 657.6 L220.2 657.6 L222.2 657.6 L224.1 657.6 L226 657.6 L227.9 657.6 L229.8 657.6 L231.8 657.6 L233.7 657.6 L235.6 657.6 L237.5 657.6 L239.4 657.6 L241.4 657.6 L243.3 657.6 L245.2 657.6 L247.1 657.6 L249 657.6 L251 657.6 L252.9 657.6 L254.8 657.6 L256.7 657.6 L258.6 657.6 L260.6 657.6 L262.5 657.6 L264.4 657.6 L266.3 657.6 L268.2 657.6 L270.2 657.6 L272.1 657.6 L274 657.6 L275.9 657.6 L277.8 657.6 L279.8 657.6 L281.7 657.6 L283.6 657.6" stroke="#b9664c" stroke-width="1.4" fill="none" stroke-linejoin="round"/>
<line x1="168.4" y1="628" x2="168.4" y2="705.9" stroke="#000" stroke-width="1.5"/>
<line x1="167.7" y1="705.2" x2="284.1" y2="705.2" stroke="#000" stroke-width="1.6"/>
<line x1="164.5" y1="705.2" x2="168.4" y2="705.2" stroke="#000" stroke-width="1.1"/>
<text x="163.9" y="707.6" font-size="6.7" text-anchor="end">0</text>
<line x1="164.5" y1="689.8" x2="168.4" y2="689.8" stroke="#000" stroke-width="1.1"/>
<text x="163.9" y="692.3" font-size="6.7" text-anchor="end">10</text>
<line x1="164.5" y1="674.5" x2="168.4" y2="674.5" stroke="#000" stroke-width="1.1"/>
<text x="163.9" y="676.9" font-size="6.7" text-anchor="end">20</text>
<line x1="164.5" y1="659.1" x2="168.4" y2="659.1" stroke="#000" stroke-width="1.1"/>
<text x="163.9" y="661.5" font-size="6.7" text-anchor="end">30</text>
<line x1="164.5" y1="643.8" x2="168.4" y2="643.8" stroke="#000" stroke-width="1.1"/>
<text x="163.9" y="646.2" font-size="6.7" text-anchor="end">40</text>
<line x1="164.5" y1="628.4" x2="168.4" y2="628.4" stroke="#000" stroke-width="1.1"/>
<text x="163.9" y="630.8" font-size="6.7" text-anchor="end">50</text>
<line x1="168.4" y1="705.2" x2="168.4" y2="708.2" stroke="#000" stroke-width="1.1"/>
<text x="168.4" y="716.3" font-size="6.7" text-anchor="middle">0</text>
<line x1="187.6" y1="705.2" x2="187.6" y2="708.2" stroke="#000" stroke-width="1.1"/>
<text x="187.6" y="716.3" font-size="6.7" text-anchor="middle">100</text>
<line x1="206.8" y1="705.2" x2="206.8" y2="708.2" stroke="#000" stroke-width="1.1"/>
<text x="206.8" y="716.3" font-size="6.7" text-anchor="middle">200</text>
<line x1="226" y1="705.2" x2="226" y2="708.2" stroke="#000" stroke-width="1.1"/>
<text x="226" y="716.3" font-size="6.7" text-anchor="middle">300</text>
<line x1="245.2" y1="705.2" x2="245.2" y2="708.2" stroke="#000" stroke-width="1.1"/>
<text x="245.2" y="716.3" font-size="6.7" text-anchor="middle">400</text>
<line x1="264.4" y1="705.2" x2="264.4" y2="708.2" stroke="#000" stroke-width="1.1"/>
<text x="264.4" y="716.3" font-size="6.7" text-anchor="middle">500</text>
<line x1="283.6" y1="705.2" x2="283.6" y2="708.2" stroke="#000" stroke-width="1.1"/>
<text x="283.6" y="716.3" font-size="6.7" text-anchor="middle">600</text>
<text x="226" y="728.2" font-size="7.3" text-anchor="middle">Time (S)</text>
<text x="191" y="637.1" font-size="9.7" fill="#118a17">KD = 1.709E-11 (M)</text>
<path d="M300 705.2 L300.2 705.1 L300.4 705 L300.6 704.9 L300.8 704.8 L301.5 704.4 L302.3 704 L303.1 703.6 L303.8 703.2 L304.6 702.8 L305.4 702.4 L306.1 702 L306.9 701.6 L307.7 701.2 L308.4 700.8 L309.2 700.4 L310 700 L310.8 699.7 L311.5 699.3 L312.3 698.9 L313.1 698.5 L313.8 698.1 L314.6 697.8 L315.4 697.4 L316.1 697 L316.9 696.6 L317.7 696.3 L318.4 695.9 L319.2 695.5 L320 695.2 L320.7 694.8 L321.5 694.4 L322.3 694.1 L323 693.7 L323.8 693.3 L324.6 693 L325.3 692.6 L326.1 692.3 L326.9 691.9 L327.6 691.6 L328.4 691.2 L329.2 690.9 L330 690.5 L330.7 690.2 L331.5 689.8 L332.3 689.5 L333 689.1 L333.8 688.8 L334.6 688.4 L335.3 688.1 L336.1 687.8 L336.9 687.4 L337.6 687.1 L338.4 686.8 L340.3 686.8 L342.2 686.8 L344.2 686.8 L346.1 686.8 L348 686.8 L349.9 686.8 L351.8 686.8 L353.8 686.8 L355.7 686.8 L357.6 686.9 L359.5 686.9 L361.4 686.9 L363.4 686.9 L365.3 686.9 L367.2 686.9 L369.1 686.9 L371 686.9 L373 686.9 L374.9 686.9 L376.8 686.9 L378.7 686.9 L380.6 687 L382.6 687 L384.5 687 L386.4 687 L388.3 687 L390.2 687 L392.2 687 L394.1 687 L396 687 L397.9 687 L399.8 687 L401.8 687 L403.7 687 L405.6 687 L407.5 687 L409.4 687.1 L411.4 687.1 L413.3 687.1 L415.2 687.1" stroke="#36a68b" stroke-width="1.4" fill="none" stroke-linejoin="round"/>
<path d="M300 705.2 L300.2 705 L300.4 704.7 L300.6 704.5 L300.8 704.2 L301.5 703.3 L302.3 702.4 L303.1 701.5 L303.8 700.6 L304.6 699.7 L305.4 698.9 L306.1 698 L306.9 697.2 L307.7 696.4 L308.4 695.6 L309.2 694.8 L310 694.1 L310.8 693.3 L311.5 692.6 L312.3 691.9 L313.1 691.2 L313.8 690.5 L314.6 689.8 L315.4 689.2 L316.1 688.5 L316.9 687.9 L317.7 687.3 L318.4 686.7 L319.2 686.1 L320 685.5 L320.7 684.9 L321.5 684.4 L322.3 683.8 L323 683.3 L323.8 682.7 L324.6 682.2 L325.3 681.7 L326.1 681.2 L326.9 680.7 L327.6 680.3 L328.4 679.8 L329.2 679.3 L330 678.9 L330.7 678.4 L331.5 678 L332.3 677.6 L333 677.2 L333.8 676.8 L334.6 676.4 L335.3 676 L336.1 675.6 L336.9 675.2 L337.6 674.8 L338.4 674.5 L340.3 674.5 L342.2 674.5 L344.2 674.5 L346.1 674.6 L348 674.6 L349.9 674.6 L351.8 674.6 L353.8 674.7 L355.7 674.7 L357.6 674.7 L359.5 674.7 L361.4 674.7 L363.4 674.8 L365.3 674.8 L367.2 674.8 L369.1 674.8 L371 674.8 L373 674.9 L374.9 674.9 L376.8 674.9 L378.7 674.9 L380.6 674.9 L382.6 675 L384.5 675 L386.4 675 L388.3 675 L390.2 675 L392.2 675 L394.1 675.1 L396 675.1 L397.9 675.1 L399.8 675.1 L401.8 675.1 L403.7 675.2 L405.6 675.2 L407.5 675.2 L409.4 675.2 L411.4 675.2 L413.3 675.2 L415.2 675.2" stroke="#8cbd9f" stroke-width="1.3" fill="none" stroke-linejoin="round"/>
<path d="M300 705.2 L300.2 704.7 L300.4 704.2 L300.6 703.8 L300.8 703.3 L301.5 701.4 L302.3 699.7 L303.1 698 L303.8 696.3 L304.6 694.8 L305.4 693.3 L306.1 691.8 L306.9 690.4 L307.7 689.1 L308.4 687.8 L309.2 686.6 L310 685.4 L310.8 684.3 L311.5 683.2 L312.3 682.1 L313.1 681.1 L313.8 680.1 L314.6 679.2 L315.4 678.3 L316.1 677.4 L316.9 676.6 L317.7 675.8 L318.4 675.1 L319.2 674.3 L320 673.6 L320.7 672.9 L321.5 672.3 L322.3 671.7 L323 671.1 L323.8 670.5 L324.6 669.9 L325.3 669.4 L326.1 668.9 L326.9 668.4 L327.6 667.9 L328.4 667.5 L329.2 667 L330 666.6 L330.7 666.2 L331.5 665.8 L332.3 665.5 L333 665.1 L333.8 664.8 L334.6 664.4 L335.3 664.1 L336.1 663.8 L336.9 663.5 L337.6 663.2 L338.4 663 L340.3 663 L342.2 663 L344.2 663 L346.1 663.1 L348 663.1 L349.9 663.1 L351.8 663.1 L353.8 663.1 L355.7 663.2 L357.6 663.2 L359.5 663.2 L361.4 663.2 L363.4 663.2 L365.3 663.3 L367.2 663.3 L369.1 663.3 L371 663.3 L373 663.3 L374.9 663.4 L376.8 663.4 L378.7 663.4 L380.6 663.4 L382.6 663.4 L384.5 663.5 L386.4 663.5 L388.3 663.5 L390.2 663.5 L392.2 663.5 L394.1 663.5 L396 663.6 L397.9 663.6 L399.8 663.6 L401.8 663.6 L403.7 663.6 L405.6 663.6 L407.5 663.7 L409.4 663.7 L411.4 663.7 L413.3 663.7 L415.2 663.7" stroke="#f2d8ba" stroke-width="1.3" fill="none" stroke-linejoin="round"/>
<path d="M300 705.2 L300.2 704.2 L300.4 703.3 L300.6 702.4 L300.8 701.5 L301.5 698 L302.3 694.9 L303.1 691.9 L303.8 689.2 L304.6 686.7 L305.4 684.4 L306.1 682.3 L306.9 680.3 L307.7 678.5 L308.4 676.8 L309.2 675.3 L310 673.8 L310.8 672.5 L311.5 671.3 L312.3 670.2 L313.1 669.1 L313.8 668.2 L314.6 667.3 L315.4 666.5 L316.1 665.7 L316.9 665 L317.7 664.4 L318.4 663.8 L319.2 663.3 L320 662.8 L320.7 662.3 L321.5 661.9 L322.3 661.5 L323 661.1 L323.8 660.8 L324.6 660.4 L325.3 660.2 L326.1 659.9 L326.9 659.6 L327.6 659.4 L328.4 659.2 L329.2 659 L330 658.8 L330.7 658.7 L331.5 658.5 L332.3 658.4 L333 658.3 L333.8 658.1 L334.6 658 L335.3 657.9 L336.1 657.8 L336.9 657.7 L337.6 657.7 L338.4 657.6 L340.3 657.6 L342.2 657.6 L344.2 657.7 L346.1 657.7 L348 657.7 L349.9 657.7 L351.8 657.7 L353.8 657.8 L355.7 657.8 L357.6 657.8 L359.5 657.8 L361.4 657.8 L363.4 657.9 L365.3 657.9 L367.2 657.9 L369.1 657.9 L371 657.9 L373 658 L374.9 658 L376.8 658 L378.7 658 L380.6 658 L382.6 658.1 L384.5 658.1 L386.4 658.1 L388.3 658.1 L390.2 658.1 L392.2 658.2 L394.1 658.2 L396 658.2 L397.9 658.2 L399.8 658.2 L401.8 658.2 L403.7 658.3 L405.6 658.3 L407.5 658.3 L409.4 658.3 L411.4 658.3 L413.3 658.3 L415.2 658.4" stroke="#f1b14e" stroke-width="1.3" fill="none" stroke-linejoin="round"/>
<path d="M300 705.2 L300.2 703.1 L300.4 701.1 L300.6 699.2 L300.8 697.4 L301.5 690.8 L302.3 685.3 L303.1 680.8 L303.8 676.9 L304.6 673.8 L305.4 671.1 L306.1 668.9 L306.9 667 L307.7 665.4 L308.4 664.2 L309.2 663.1 L310 662.2 L310.8 661.4 L311.5 660.8 L312.3 660.3 L313.1 659.8 L313.8 659.4 L314.6 659.1 L315.4 658.9 L316.1 658.7 L316.9 658.5 L317.7 658.3 L318.4 658.2 L319.2 658.1 L320 658 L320.7 657.9 L321.5 657.9 L322.3 657.8 L323 657.8 L323.8 657.8 L324.6 657.7 L325.3 657.7 L326.1 657.7 L326.9 657.7 L327.6 657.7 L328.4 657.6 L329.2 657.6 L330 657.6 L330.7 657.6 L331.5 657.6 L332.3 657.6 L333 657.6 L333.8 657.6 L334.6 657.6 L335.3 657.6 L336.1 657.6 L336.9 657.6 L337.6 657.6 L338.4 657.6 L340.3 657.6 L342.2 657.6 L344.2 657.7 L346.1 657.7 L348 657.7 L349.9 657.7 L351.8 657.7 L353.8 657.8 L355.7 657.8 L357.6 657.8 L359.5 657.8 L361.4 657.8 L363.4 657.9 L365.3 657.9 L367.2 657.9 L369.1 657.9 L371 657.9 L373 658 L374.9 658 L376.8 658 L378.7 658 L380.6 658 L382.6 658.1 L384.5 658.1 L386.4 658.1 L388.3 658.1 L390.2 658.1 L392.2 658.2 L394.1 658.2 L396 658.2 L397.9 658.2 L399.8 658.2 L401.8 658.2 L403.7 658.3 L405.6 658.3 L407.5 658.3 L409.4 658.3 L411.4 658.3 L413.3 658.3 L415.2 658.4" stroke="#e64a32" stroke-width="1.4" fill="none" stroke-linejoin="round"/>
<path d="M300 705.2 L300.2 701.5 L300.4 698 L300.6 694.9 L300.8 691.9 L301.5 682.3 L302.3 675.3 L303.1 670.3 L303.8 666.6 L304.6 663.9 L305.4 662 L306.1 660.6 L306.9 659.5 L307.7 658.8 L308.4 658.2 L309.2 657.9 L310 657.6 L310.8 657.4 L311.5 657.2 L312.3 657.1 L313.1 657 L313.8 657 L314.6 656.9 L315.4 656.9 L316.1 656.9 L316.9 656.9 L317.7 656.8 L318.4 656.8 L319.2 656.8 L320 656.8 L320.7 656.8 L321.5 656.8 L322.3 656.8 L323 656.8 L323.8 656.8 L324.6 656.8 L325.3 656.8 L326.1 656.8 L326.9 656.8 L327.6 656.8 L328.4 656.8 L329.2 656.8 L330 656.8 L330.7 656.8 L331.5 656.8 L332.3 656.8 L333 656.8 L333.8 656.8 L334.6 656.8 L335.3 656.8 L336.1 656.8 L336.9 656.8 L337.6 656.8 L338.4 656.8 L340.3 656.8 L342.2 656.9 L344.2 656.9 L346.1 656.9 L348 656.9 L349.9 657 L351.8 657 L353.8 657 L355.7 657 L357.6 657 L359.5 657.1 L361.4 657.1 L363.4 657.1 L365.3 657.1 L367.2 657.1 L369.1 657.2 L371 657.2 L373 657.2 L374.9 657.2 L376.8 657.2 L378.7 657.3 L380.6 657.3 L382.6 657.3 L384.5 657.3 L386.4 657.3 L388.3 657.3 L390.2 657.4 L392.2 657.4 L394.1 657.4 L396 657.4 L397.9 657.4 L399.8 657.5 L401.8 657.5 L403.7 657.5 L405.6 657.5 L407.5 657.5 L409.4 657.5 L411.4 657.6 L413.3 657.6 L415.2 657.6" stroke="#b9664c" stroke-width="1.4" fill="none" stroke-linejoin="round"/>
<line x1="300" y1="628" x2="300" y2="705.9" stroke="#000" stroke-width="1.5"/>
<line x1="299.3" y1="705.2" x2="415.7" y2="705.2" stroke="#000" stroke-width="1.6"/>
<line x1="296.1" y1="705.2" x2="300" y2="705.2" stroke="#000" stroke-width="1.1"/>
<text x="295.5" y="707.6" font-size="6.7" text-anchor="end">0</text>
<line x1="296.1" y1="689.8" x2="300" y2="689.8" stroke="#000" stroke-width="1.1"/>
<text x="295.5" y="692.3" font-size="6.7" text-anchor="end">10</text>
<line x1="296.1" y1="674.5" x2="300" y2="674.5" stroke="#000" stroke-width="1.1"/>
<text x="295.5" y="676.9" font-size="6.7" text-anchor="end">20</text>
<line x1="296.1" y1="659.1" x2="300" y2="659.1" stroke="#000" stroke-width="1.1"/>
<text x="295.5" y="661.5" font-size="6.7" text-anchor="end">30</text>
<line x1="296.1" y1="643.8" x2="300" y2="643.8" stroke="#000" stroke-width="1.1"/>
<text x="295.5" y="646.2" font-size="6.7" text-anchor="end">40</text>
<line x1="296.1" y1="628.4" x2="300" y2="628.4" stroke="#000" stroke-width="1.1"/>
<text x="295.5" y="630.8" font-size="6.7" text-anchor="end">50</text>
<line x1="300" y1="705.2" x2="300" y2="708.2" stroke="#000" stroke-width="1.1"/>
<text x="300" y="716.3" font-size="6.7" text-anchor="middle">0</text>
<line x1="319.2" y1="705.2" x2="319.2" y2="708.2" stroke="#000" stroke-width="1.1"/>
<text x="319.2" y="716.3" font-size="6.7" text-anchor="middle">100</text>
<line x1="338.4" y1="705.2" x2="338.4" y2="708.2" stroke="#000" stroke-width="1.1"/>
<text x="338.4" y="716.3" font-size="6.7" text-anchor="middle">200</text>
<line x1="357.6" y1="705.2" x2="357.6" y2="708.2" stroke="#000" stroke-width="1.1"/>
<text x="357.6" y="716.3" font-size="6.7" text-anchor="middle">300</text>
<line x1="376.8" y1="705.2" x2="376.8" y2="708.2" stroke="#000" stroke-width="1.1"/>
<text x="376.8" y="716.3" font-size="6.7" text-anchor="middle">400</text>
<line x1="396" y1="705.2" x2="396" y2="708.2" stroke="#000" stroke-width="1.1"/>
<text x="396" y="716.3" font-size="6.7" text-anchor="middle">500</text>
<line x1="415.2" y1="705.2" x2="415.2" y2="708.2" stroke="#000" stroke-width="1.1"/>
<text x="415.2" y="716.3" font-size="6.7" text-anchor="middle">600</text>
<text x="357.6" y="728.2" font-size="7.3" text-anchor="middle">Time (S)</text>
<text x="320.4" y="637.1" font-size="9.7" fill="#118a17">KD = 4.726E-11 (M)</text>
<path d="M432 704 L432.2 704 L432.4 704 L432.6 703.9 L432.8 703.9 L433.5 703.9 L434.3 703.8 L435.1 703.7 L435.8 703.6 L436.6 703.6 L437.4 703.5 L438.1 703.4 L438.9 703.3 L439.7 703.3 L440.4 703.2 L441.2 703.1 L442 703.1 L442.8 703 L443.5 702.9 L444.3 702.8 L445.1 702.8 L445.8 702.7 L446.6 702.6 L447.4 702.6 L448.1 702.5 L448.9 702.4 L449.7 702.4 L450.4 702.3 L451.2 702.2 L452 702.2 L452.7 702.1 L453.5 702 L454.3 702 L455 701.9 L455.8 701.8 L456.6 701.8 L457.3 701.7 L458.1 701.6 L458.9 701.6 L459.6 701.5 L460.4 701.4 L461.2 701.4 L462 701.3 L462.7 701.2 L463.5 701.2 L464.3 701.1 L465 701 L465.8 701 L466.6 700.9 L467.3 700.9 L468.1 700.8 L468.9 700.7 L469.6 700.7 L470.4 700.6 L472.3 700.6 L474.2 700.6 L476.2 700.7 L478.1 700.7 L480 700.7 L481.9 700.7 L483.8 700.7 L485.8 700.7 L487.7 700.8 L489.6 700.8 L491.5 700.8 L493.4 700.8 L495.4 700.8 L497.3 700.8 L499.2 700.9 L501.1 700.9 L503 700.9 L505 700.9 L506.9 700.9 L508.8 700.9 L510.7 701 L512.6 701 L514.6 701 L516.5 701 L518.4 701 L520.3 701 L522.2 701 L524.2 701.1 L526.1 701.1 L528 701.1 L529.9 701.1 L531.8 701.1 L533.8 701.1 L535.7 701.1 L537.6 701.2 L539.5 701.2 L541.4 701.2 L543.4 701.2 L545.3 701.2 L547.2 701.2" stroke="#36a68b" stroke-width="1.4" fill="none" stroke-linejoin="round"/>
<path d="M432 704 L432.2 704 L432.4 703.9 L432.6 703.9 L432.8 703.9 L433.5 703.7 L434.3 703.6 L435.1 703.4 L435.8 703.3 L436.6 703.2 L437.4 703 L438.1 702.9 L438.9 702.7 L439.7 702.6 L440.4 702.5 L441.2 702.3 L442 702.2 L442.8 702.1 L443.5 701.9 L444.3 701.8 L445.1 701.7 L445.8 701.5 L446.6 701.4 L447.4 701.3 L448.1 701.1 L448.9 701 L449.7 700.9 L450.4 700.7 L451.2 700.6 L452 700.5 L452.7 700.3 L453.5 700.2 L454.3 700.1 L455 700 L455.8 699.8 L456.6 699.7 L457.3 699.6 L458.1 699.5 L458.9 699.3 L459.6 699.2 L460.4 699.1 L461.2 699 L462 698.8 L462.7 698.7 L463.5 698.6 L464.3 698.5 L465 698.4 L465.8 698.2 L466.6 698.1 L467.3 698 L468.1 697.9 L468.9 697.8 L469.6 697.6 L470.4 697.5 L472.3 697.6 L474.2 697.6 L476.2 697.6 L478.1 697.6 L480 697.7 L481.9 697.7 L483.8 697.7 L485.8 697.8 L487.7 697.8 L489.6 697.8 L491.5 697.9 L493.4 697.9 L495.4 697.9 L497.3 697.9 L499.2 698 L501.1 698 L503 698 L505 698 L506.9 698.1 L508.8 698.1 L510.7 698.1 L512.6 698.2 L514.6 698.2 L516.5 698.2 L518.4 698.2 L520.3 698.3 L522.2 698.3 L524.2 698.3 L526.1 698.3 L528 698.4 L529.9 698.4 L531.8 698.4 L533.8 698.4 L535.7 698.5 L537.6 698.5 L539.5 698.5 L541.4 698.5 L543.4 698.6 L545.3 698.6 L547.2 698.6" stroke="#8cbd9f" stroke-width="1.3" fill="none" stroke-linejoin="round"/>
<path d="M432 704 L432.2 703.9 L432.4 703.9 L432.6 703.8 L432.8 703.7 L433.5 703.4 L434.3 703.2 L435.1 702.9 L435.8 702.6 L436.6 702.3 L437.4 702.1 L438.1 701.8 L438.9 701.5 L439.7 701.2 L440.4 701 L441.2 700.7 L442 700.4 L442.8 700.2 L443.5 699.9 L444.3 699.6 L445.1 699.4 L445.8 699.1 L446.6 698.8 L447.4 698.6 L448.1 698.3 L448.9 698.1 L449.7 697.8 L450.4 697.5 L451.2 697.3 L452 697 L452.7 696.8 L453.5 696.5 L454.3 696.3 L455 696 L455.8 695.8 L456.6 695.5 L457.3 695.3 L458.1 695 L458.9 694.8 L459.6 694.5 L460.4 694.3 L461.2 694.1 L462 693.8 L462.7 693.6 L463.5 693.3 L464.3 693.1 L465 692.9 L465.8 692.6 L466.6 692.4 L467.3 692.1 L468.1 691.9 L468.9 691.7 L469.6 691.4 L470.4 691.2 L472.3 691.3 L474.2 691.3 L476.2 691.4 L478.1 691.5 L480 691.5 L481.9 691.6 L483.8 691.7 L485.8 691.7 L487.7 691.8 L489.6 691.8 L491.5 691.9 L493.4 692 L495.4 692 L497.3 692.1 L499.2 692.1 L501.1 692.2 L503 692.3 L505 692.3 L506.9 692.4 L508.8 692.4 L510.7 692.5 L512.6 692.5 L514.6 692.6 L516.5 692.7 L518.4 692.7 L520.3 692.8 L522.2 692.8 L524.2 692.9 L526.1 692.9 L528 693 L529.9 693 L531.8 693.1 L533.8 693.2 L535.7 693.2 L537.6 693.3 L539.5 693.3 L541.4 693.4 L543.4 693.4 L545.3 693.5 L547.2 693.5" stroke="#f2d8ba" stroke-width="1.3" fill="none" stroke-linejoin="round"/>
<path d="M432 704 L432.2 703.9 L432.4 703.7 L432.6 703.6 L432.8 703.4 L433.5 702.9 L434.3 702.3 L435.1 701.7 L435.8 701.2 L436.6 700.6 L437.4 700.1 L438.1 699.5 L438.9 699 L439.7 698.4 L440.4 697.9 L441.2 697.4 L442 696.8 L442.8 696.3 L443.5 695.8 L444.3 695.3 L445.1 694.8 L445.8 694.3 L446.6 693.8 L447.4 693.3 L448.1 692.8 L448.9 692.3 L449.7 691.8 L450.4 691.4 L451.2 690.9 L452 690.4 L452.7 689.9 L453.5 689.5 L454.3 689 L455 688.6 L455.8 688.1 L456.6 687.6 L457.3 687.2 L458.1 686.8 L458.9 686.3 L459.6 685.9 L460.4 685.4 L461.2 685 L462 684.6 L462.7 684.2 L463.5 683.8 L464.3 683.3 L465 682.9 L465.8 682.5 L466.6 682.1 L467.3 681.7 L468.1 681.3 L468.9 680.9 L469.6 680.5 L470.4 680.1 L472.3 680.3 L474.2 680.4 L476.2 680.5 L478.1 680.6 L480 680.8 L481.9 680.9 L483.8 681 L485.8 681.1 L487.7 681.3 L489.6 681.4 L491.5 681.5 L493.4 681.6 L495.4 681.7 L497.3 681.9 L499.2 682 L501.1 682.1 L503 682.2 L505 682.3 L506.9 682.4 L508.8 682.6 L510.7 682.7 L512.6 682.8 L514.6 682.9 L516.5 683 L518.4 683.1 L520.3 683.2 L522.2 683.3 L524.2 683.5 L526.1 683.6 L528 683.7 L529.9 683.8 L531.8 683.9 L533.8 684 L535.7 684.1 L537.6 684.2 L539.5 684.3 L541.4 684.4 L543.4 684.5 L545.3 684.6 L547.2 684.8" stroke="#f1b14e" stroke-width="1.3" fill="none" stroke-linejoin="round"/>
<path d="M432 704 L432.2 703.7 L432.4 703.4 L432.6 703.2 L432.8 702.9 L433.5 701.8 L434.3 700.7 L435.1 699.6 L435.8 698.6 L436.6 697.5 L437.4 696.5 L438.1 695.5 L438.9 694.5 L439.7 693.5 L440.4 692.5 L441.2 691.5 L442 690.6 L442.8 689.7 L443.5 688.7 L444.3 687.8 L445.1 686.9 L445.8 686 L446.6 685.2 L447.4 684.3 L448.1 683.5 L448.9 682.6 L449.7 681.8 L450.4 681 L451.2 680.2 L452 679.4 L452.7 678.6 L453.5 677.8 L454.3 677 L455 676.3 L455.8 675.5 L456.6 674.8 L457.3 674.1 L458.1 673.4 L458.9 672.7 L459.6 672 L460.4 671.3 L461.2 670.6 L462 670 L462.7 669.3 L463.5 668.6 L464.3 668 L465 667.4 L465.8 666.8 L466.6 666.1 L467.3 665.5 L468.1 664.9 L468.9 664.3 L469.6 663.8 L470.4 663.2 L472.3 663.4 L474.2 663.6 L476.2 663.8 L478.1 663.9 L480 664.1 L481.9 664.3 L483.8 664.5 L485.8 664.7 L487.7 664.9 L489.6 665.1 L491.5 665.2 L493.4 665.4 L495.4 665.6 L497.3 665.8 L499.2 666 L501.1 666.1 L503 666.3 L505 666.5 L506.9 666.7 L508.8 666.8 L510.7 667 L512.6 667.2 L514.6 667.3 L516.5 667.5 L518.4 667.7 L520.3 667.9 L522.2 668 L524.2 668.2 L526.1 668.4 L528 668.5 L529.9 668.7 L531.8 668.8 L533.8 669 L535.7 669.2 L537.6 669.3 L539.5 669.5 L541.4 669.6 L543.4 669.8 L545.3 670 L547.2 670.1" stroke="#e64a32" stroke-width="1.4" fill="none" stroke-linejoin="round"/>
<path d="M432 704 L432.2 703.4 L432.4 702.8 L432.6 702.2 L432.8 701.6 L433.5 699.3 L434.3 697 L435.1 694.8 L435.8 692.7 L436.6 690.6 L437.4 688.6 L438.1 686.7 L438.9 684.8 L439.7 682.9 L440.4 681.1 L441.2 679.4 L442 677.7 L442.8 676.1 L443.5 674.5 L444.3 672.9 L445.1 671.4 L445.8 670 L446.6 668.6 L447.4 667.2 L448.1 665.8 L448.9 664.5 L449.7 663.3 L450.4 662.1 L451.2 660.9 L452 659.7 L452.7 658.6 L453.5 657.5 L454.3 656.5 L455 655.4 L455.8 654.4 L456.6 653.5 L457.3 652.5 L458.1 651.6 L458.9 650.7 L459.6 649.9 L460.4 649 L461.2 648.2 L462 647.4 L462.7 646.6 L463.5 645.9 L464.3 645.2 L465 644.5 L465.8 643.8 L466.6 643.1 L467.3 642.5 L468.1 641.9 L468.9 641.3 L469.6 640.7 L470.4 640.1 L472.3 640.4 L474.2 640.7 L476.2 641 L478.1 641.3 L480 641.6 L481.9 641.8 L483.8 642.1 L485.8 642.4 L487.7 642.7 L489.6 643 L491.5 643.3 L493.4 643.6 L495.4 643.8 L497.3 644.1 L499.2 644.4 L501.1 644.7 L503 644.9 L505 645.2 L506.9 645.5 L508.8 645.7 L510.7 646 L512.6 646.3 L514.6 646.6 L516.5 646.8 L518.4 647.1 L520.3 647.3 L522.2 647.6 L524.2 647.9 L526.1 648.1 L528 648.4 L529.9 648.6 L531.8 648.9 L533.8 649.1 L535.7 649.4 L537.6 649.6 L539.5 649.9 L541.4 650.1 L543.4 650.4 L545.3 650.6 L547.2 650.9" stroke="#b9664c" stroke-width="1.4" fill="none" stroke-linejoin="round"/>
<line x1="432" y1="626.6" x2="432" y2="704.7" stroke="#000" stroke-width="1.5"/>
<line x1="431.3" y1="704" x2="547.7" y2="704" stroke="#000" stroke-width="1.6"/>
<line x1="428.1" y1="704" x2="432" y2="704" stroke="#000" stroke-width="1.1"/>
<text x="427.5" y="706.4" font-size="6.7" text-anchor="end">0</text>
<line x1="428.1" y1="688.6" x2="432" y2="688.6" stroke="#000" stroke-width="1.1"/>
<text x="427.5" y="691" font-size="6.7" text-anchor="end">10</text>
<line x1="428.1" y1="673.2" x2="432" y2="673.2" stroke="#000" stroke-width="1.1"/>
<text x="427.5" y="675.6" font-size="6.7" text-anchor="end">20</text>
<line x1="428.1" y1="657.8" x2="432" y2="657.8" stroke="#000" stroke-width="1.1"/>
<text x="427.5" y="660.2" font-size="6.7" text-anchor="end">30</text>
<line x1="428.1" y1="642.4" x2="432" y2="642.4" stroke="#000" stroke-width="1.1"/>
<text x="427.5" y="644.8" font-size="6.7" text-anchor="end">40</text>
<line x1="428.1" y1="627" x2="432" y2="627" stroke="#000" stroke-width="1.1"/>
<text x="427.5" y="629.4" font-size="6.7" text-anchor="end">50</text>
<line x1="432" y1="704" x2="432" y2="707" stroke="#000" stroke-width="1.1"/>
<text x="432" y="715" font-size="6.7" text-anchor="middle">0</text>
<line x1="451.2" y1="704" x2="451.2" y2="707" stroke="#000" stroke-width="1.1"/>
<text x="451.2" y="715" font-size="6.7" text-anchor="middle">100</text>
<line x1="470.4" y1="704" x2="470.4" y2="707" stroke="#000" stroke-width="1.1"/>
<text x="470.4" y="715" font-size="6.7" text-anchor="middle">200</text>
<line x1="489.6" y1="704" x2="489.6" y2="707" stroke="#000" stroke-width="1.1"/>
<text x="489.6" y="715" font-size="6.7" text-anchor="middle">300</text>
<line x1="508.8" y1="704" x2="508.8" y2="707" stroke="#000" stroke-width="1.1"/>
<text x="508.8" y="715" font-size="6.7" text-anchor="middle">400</text>
<line x1="528" y1="704" x2="528" y2="707" stroke="#000" stroke-width="1.1"/>
<text x="528" y="715" font-size="6.7" text-anchor="middle">500</text>
<line x1="547.2" y1="704" x2="547.2" y2="707" stroke="#000" stroke-width="1.1"/>
<text x="547.2" y="715" font-size="6.7" text-anchor="middle">600</text>
<text x="489.6" y="726.8" font-size="7.3" text-anchor="middle">Time (S)</text>
<text x="454.6" y="634.7" font-size="9.7" fill="#118a17">KD = 3.397E-8 (M)</text>
<path d="M564 703.8 L564.8 704.4 L565.5 704.7 L566.3 703.6 L567.1 704.2 L567.8 703.7 L568.6 704.2 L569.4 703.7 L570.1 704.1 L570.9 704.5 L571.7 704.7 L572.4 704 L573.2 703.9 L574 703.6 L574.8 704.6 L575.5 704 L576.3 704.3 L577.1 704.1 L577.8 704.5 L578.6 704.4 L579.4 704.1 L580.1 703.6 L580.9 704.6 L581.7 704.1 L582.4 703.7 L583.2 703.6 L584 704.5 L584.7 704.5 L585.5 703.6 L586.3 703.5 L587 704.1 L587.8 704.6 L588.6 703.6 L589.3 704.2 L590.1 703.6 L590.9 704 L591.6 703.7 L592.4 704.5 L593.2 703.8 L594 704.4 L594.7 704.2 L595.5 703.7 L596.3 703.7 L597 704.5 L597.8 704.4 L598.6 704.2 L599.3 704.1 L600.1 704.2 L600.9 704.5 L601.6 704.4 L602.4 703.8 L603.2 703.6 L603.9 704.6 L604.7 704 L605.5 703.8 L606.2 704.6 L607 703.7 L607.8 704.6 L608.5 704 L609.3 704 L610.1 704 L610.8 704.3 L611.6 704.2 L612.4 704 L613.2 704.2 L613.9 703.9 L614.7 704.2 L615.5 704.2 L616.2 704.7 L617 704 L617.8 704.1 L618.5 704.4 L619.3 703.8 L620.1 703.8 L620.8 704.2 L621.6 704.5 L622.4 704.1 L623.1 704.6 L623.9 704.5 L624.7 704.2 L625.4 704.6 L626.2 704.2 L627 704.1 L627.7 704.6 L628.5 703.9 L629.3 704.6 L630 703.8 L630.8 703.8 L631.6 704.1 L632.4 704.6 L633.1 704.1 L633.9 704.2 L634.7 703.6 L635.4 704.5 L636.2 703.7 L637 703.5 L637.7 703.8 L638.5 703.7 L639.3 704.5 L640 703.5 L640.8 704.1 L641.6 703.6 L642.3 703.6 L643.1 704.5 L643.9 703.8 L644.6 703.6 L645.4 704.6 L646.2 704.3 L646.9 703.8 L647.7 704.5 L648.5 703.6 L649.2 704.4 L650 703.7 L650.8 704.5 L651.6 704.1 L652.3 703.6 L653.1 704.4 L653.9 704.4 L654.6 704.1 L655.4 704.3 L656.2 704.6 L656.9 704.5 L657.7 704.5 L658.5 703.6 L659.2 703.9 L660 703.6 L660.8 704.5 L661.5 703.8 L662.3 704.6 L663.1 704.1 L663.8 703.9 L664.6 704.3 L665.4 703.7 L666.1 704 L666.9 704 L667.7 703.7 L668.4 704.6 L669.2 703.5 L670 704 L670.8 704.2 L671.5 703.8 L672.3 704.4 L673.1 703.5 L673.8 704 L674.6 704.3 L675.4 703.8 L676.1 704.2 L676.9 704.5 L677.7 703.8 L678.4 704.6 L679.2 703.7" stroke="#b9664c" stroke-width="0.9" fill="none"/>
<path d="M564 703.4 L564.8 702.8 L565.5 702.3 L566.3 702.9 L567.1 702.7 L567.8 703.2 L568.6 703.7 L569.4 703.6 L570.1 703.4 L570.9 702.7 L571.7 703 L572.4 702.9 L573.2 702.3 L574 703.4 L574.8 703.3 L575.5 702.6 L576.3 703.5 L577.1 703.6 L577.8 703 L578.6 703.4 L579.4 703 L580.1 703.2 L580.9 702.7 L581.7 702.7 L582.4 703.2 L583.2 702.6 L584 702.8 L584.7 703.3 L585.5 702.1 L586.3 703.1 L587 703.2 L587.8 703.3 L588.6 702.5 L589.3 702.1 L590.1 702.3 L590.9 702.8 L591.6 703 L592.4 703.4 L593.2 702.4 L594 702.5 L594.7 702.8 L595.5 702.4 L596.3 702.7 L597 701.9 L597.8 702.2 L598.6 702.9 L599.3 702 L600.1 703.2 L600.9 702.5 L601.6 702.7 L602.4 702.9 L603.2 703.2 L603.9 702.1 L604.7 703.2 L605.5 702.4 L606.2 701.8 L607 703 L607.8 702.9 L608.5 702.3 L609.3 702.4 L610.1 702.2 L610.8 702 L611.6 702.9 L612.4 702.7 L613.2 702.7 L613.9 703 L614.7 701.8 L615.5 701.9 L616.2 702 L617 703.1 L617.8 701.8 L618.5 702 L619.3 702.4 L620.1 701.9 L620.8 702.4 L621.6 702.7 L622.4 702.8 L623.1 702.6 L623.9 702.9 L624.7 702.5 L625.4 701.9 L626.2 701.9 L627 701.7 L627.7 701.9 L628.5 702.5 L629.3 702.1 L630 702.3 L630.8 701.7 L631.6 702.1 L632.4 702.5 L633.1 701.9 L633.9 701.4 L634.7 702.5 L635.4 701.5 L636.2 702.8 L637 702.4 L637.7 702.5 L638.5 701.7 L639.3 701.4 L640 701.7 L640.8 702.3 L641.6 701.5 L642.3 702.3 L643.1 702.4 L643.9 701.4 L644.6 701.8 L645.4 701.7 L646.2 701.7 L646.9 701.3 L647.7 702 L648.5 701.4 L649.2 701.6 L650 701.4 L650.8 702 L651.6 701.6 L652.3 701.8 L653.1 702.2 L653.9 702.3 L654.6 701.7 L655.4 702.5 L656.2 701.2 L656.9 702.3 L657.7 702.5 L658.5 702.4 L659.2 701.2 L660 702 L660.8 702.3 L661.5 702.5 L662.3 702.4 L663.1 701.5 L663.8 701.5 L664.6 701.4 L665.4 701.4 L666.1 702.3 L666.9 701.6 L667.7 701.9 L668.4 701.2 L669.2 701.2 L670 701.1 L670.8 702.3 L671.5 701.1 L672.3 701 L673.1 701 L673.8 702.2 L674.6 702 L675.4 702.2 L676.1 702.3 L676.9 701.1 L677.7 701.1 L678.4 701.4 L679.2 701.1" stroke="#e64a32" stroke-width="0.9" fill="none"/>
<path d="M564 701.4 L564.8 701.9 L565.5 702.1 L566.3 702.2 L567.1 701.2 L567.8 702 L568.6 701.9 L569.4 701.7 L570.1 702.3 L570.9 702 L571.7 702 L572.4 701.3 L573.2 701.9 L574 701.9 L574.8 701 L575.5 701.7 L576.3 701.2 L577.1 701.5 L577.8 702.4 L578.6 701.9 L579.4 701.8 L580.1 701.3 L580.9 702 L581.7 701.5 L582.4 701.7 L583.2 702.2 L584 701.3 L584.7 702.4 L585.5 701.3 L586.3 702.3 L587 702.6 L587.8 702.3 L588.6 701.5 L589.3 701.2 L590.1 702.6 L590.9 701.9 L591.6 701.9 L592.4 701.5 L593.2 702.4 L594 701.9 L594.7 702.2 L595.5 701.5 L596.3 702.3 L597 701.3 L597.8 702.3 L598.6 702.4 L599.3 701.7 L600.1 702 L600.9 702.6 L601.6 701.8 L602.4 702.6 L603.2 701.6 L603.9 701.8 L604.7 701.6 L605.5 701.9 L606.2 702.3 L607 702.2 L607.8 702.3 L608.5 701.5 L609.3 702.7 L610.1 701.6 L610.8 702.8 L611.6 702.6 L612.4 702.5 L613.2 701.6 L613.9 702.2 L614.7 702.4 L615.5 701.6 L616.2 702.6 L617 702.3 L617.8 702.2 L618.5 701.9 L619.3 701.9 L620.1 702 L620.8 702.5 L621.6 702.5 L622.4 702.8 L623.1 701.8 L623.9 702.1 L624.7 702 L625.4 702.8 L626.2 702.4 L627 701.9 L627.7 702.2 L628.5 702.9 L629.3 702.4 L630 701.8 L630.8 702.8 L631.6 702.9 L632.4 702.7 L633.1 702.1 L633.9 701.9 L634.7 702.9 L635.4 703 L636.2 702.8 L637 702.7 L637.7 702.4 L638.5 703 L639.3 702.8 L640 703 L640.8 701.8 L641.6 702.2 L642.3 703.1 L643.1 701.9 L643.9 703.1 L644.6 702.7 L645.4 701.9 L646.2 702.2 L646.9 702.3 L647.7 702.7 L648.5 703.1 L649.2 702.4 L650 703.2 L650.8 703.1 L651.6 702.8 L652.3 703.3 L653.1 702.8 L653.9 702.3 L654.6 702.4 L655.4 702.7 L656.2 702.5 L656.9 702.8 L657.7 703.3 L658.5 702.6 L659.2 702.9 L660 702.4 L660.8 702.2 L661.5 702.9 L662.3 702.7 L663.1 702.4 L663.8 702.9 L664.6 703.2 L665.4 702.5 L666.1 702.3 L666.9 702.4 L667.7 702.6 L668.4 702.4 L669.2 702.6 L670 702.7 L670.8 703 L671.5 703.2 L672.3 702.7 L673.1 703.5 L673.8 703.1 L674.6 702.5 L675.4 702.6 L676.1 702.8 L676.9 703.3 L677.7 703.1 L678.4 703.1 L679.2 702.8" stroke="#f1b14e" stroke-width="0.9" fill="none"/>
<path d="M564 700.9 L564.8 700.6 L565.5 700.2 L566.3 701.3 L567.1 700.6 L567.8 700.5 L568.6 701.1 L569.4 700.9 L570.1 700.2 L570.9 701.6 L571.7 700.9 L572.4 701.5 L573.2 700.6 L574 700.4 L574.8 701 L575.5 701.6 L576.3 700.9 L577.1 701 L577.8 700.8 L578.6 701.1 L579.4 700.9 L580.1 700.6 L580.9 701.1 L581.7 701.3 L582.4 700.5 L583.2 701.6 L584 700.9 L584.7 701.4 L585.5 700.8 L586.3 701.8 L587 700.5 L587.8 701.5 L588.6 701.9 L589.3 701.6 L590.1 701.5 L590.9 702 L591.6 701.5 L592.4 701.5 L593.2 701.1 L594 701.6 L594.7 701.7 L595.5 701.8 L596.3 701.1 L597 700.8 L597.8 701.4 L598.6 701.9 L599.3 701 L600.1 701.7 L600.9 701.9 L601.6 702.1 L602.4 701.1 L603.2 701.1 L603.9 701.4 L604.7 701.6 L605.5 701.5 L606.2 702 L607 701 L607.8 701.9 L608.5 701.5 L609.3 701.2 L610.1 701.2 L610.8 701.8 L611.6 702 L612.4 701.7 L613.2 702.3 L613.9 701.3 L614.7 702 L615.5 701.3 L616.2 702.1 L617 702 L617.8 702.2 L618.5 702 L619.3 702.3 L620.1 702.6 L620.8 701.6 L621.6 702.2 L622.4 702.3 L623.1 702.2 L623.9 702 L624.7 702.1 L625.4 701.8 L626.2 701.8 L627 702.2 L627.7 701.4 L628.5 701.5 L629.3 702.7 L630 701.6 L630.8 701.5 L631.6 701.7 L632.4 702.6 L633.1 701.6 L633.9 701.9 L634.7 702.9 L635.4 702.9 L636.2 701.5 L637 702 L637.7 702.6 L638.5 702.8 L639.3 702.8 L640 702.6 L640.8 701.9 L641.6 702.5 L642.3 702.8 L643.1 701.7 L643.9 701.9 L644.6 702.8 L645.4 701.8 L646.2 702.2 L646.9 702 L647.7 702.2 L648.5 701.8 L649.2 702 L650 702 L650.8 702.9 L651.6 702.2 L652.3 702.4 L653.1 702.2 L653.9 702.6 L654.6 702 L655.4 702.5 L656.2 702.9 L656.9 703 L657.7 703.1 L658.5 702.6 L659.2 703.3 L660 702.7 L660.8 703.2 L661.5 702.7 L662.3 702.7 L663.1 702.6 L663.8 702.2 L664.6 703.4 L665.4 702.2 L666.1 702.8 L666.9 702.7 L667.7 702.5 L668.4 702.3 L669.2 703 L670 702.9 L670.8 702.2 L671.5 703.5 L672.3 702.7 L673.1 702.7 L673.8 703.6 L674.6 702.8 L675.4 702.7 L676.1 702.3 L676.9 703.2 L677.7 702.3 L678.4 703 L679.2 703" stroke="#f2d8ba" stroke-width="0.9" fill="none"/>
<path d="M564 698.3 L564.8 699.8 L565.5 698.7 L566.3 698.9 L567.1 699.4 L567.8 698.5 L568.6 699.4 L569.4 699.2 L570.1 699.2 L570.9 698.8 L571.7 699.8 L572.4 699.4 L573.2 699.5 L574 699.3 L574.8 698.8 L575.5 699.8 L576.3 698.9 L577.1 699.6 L577.8 699.5 L578.6 699.9 L579.4 699.6 L580.1 698.8 L580.9 699.4 L581.7 699.1 L582.4 700 L583.2 700 L584 700.1 L584.7 699.6 L585.5 699.6 L586.3 699.3 L587 700.7 L587.8 699.5 L588.6 699.2 L589.3 699.9 L590.1 700.8 L590.9 700.4 L591.6 700.9 L592.4 700.6 L593.2 699.4 L594 699.9 L594.7 699.9 L595.5 699.7 L596.3 699.5 L597 700 L597.8 700.1 L598.6 700.1 L599.3 700 L600.1 700.2 L600.9 700.1 L601.6 700.9 L602.4 700.2 L603.2 702.4 L603.9 701.9 L604.7 703.1 L605.5 703 L606.2 703.2 L607 702 L607.8 701.8 L608.5 702.2 L609.3 702.8 L610.1 702 L610.8 702.1 L611.6 702.5 L612.4 703.1 L613.2 703 L613.9 702.9 L614.7 703.1 L615.5 702.9 L616.2 702.6 L617 702.1 L617.8 703.6 L618.5 702.8 L619.3 703.7 L620.1 703.6 L620.8 702.4 L621.6 702.9 L622.4 702.3 L623.1 703.2 L623.9 703.9 L624.7 703.3 L625.4 703 L626.2 702.4 L627 702.4 L627.7 703.3 L628.5 703.4 L629.3 704 L630 703.1 L630.8 703.9 L631.6 704 L632.4 704.3 L633.1 704.3 L633.9 703.2 L634.7 704.2 L635.4 702.7 L636.2 704.3 L637 702.9 L637.7 704.3 L638.5 704.5 L639.3 703.3 L640 704.2 L640.8 703.3 L641.6 704.3 L642.3 704.6 L643.1 703.3 L643.9 703.5 L644.6 703.3 L645.4 703.5 L646.2 704.7 L646.9 703.7 L647.7 703.6 L648.5 704.1 L649.2 703.3 L650 704.5 L650.8 703.3 L651.6 703.8 L652.3 705 L653.1 705.1 L653.9 704 L654.6 703.7 L655.4 705 L656.2 704.7 L656.9 703.9 L657.7 705 L658.5 703.8 L659.2 704.5 L660 705.2 L660.8 704.7 L661.5 704.4 L662.3 704.7 L663.1 704.3 L663.8 705.2 L664.6 704.1 L665.4 704.9 L666.1 704.4 L666.9 704.5 L667.7 704.9 L668.4 705 L669.2 704.3 L670 704.1 L670.8 704.4 L671.5 704.8 L672.3 705.3 L673.1 705.7 L673.8 704.2 L674.6 704.7 L675.4 704.5 L676.1 705.4 L676.9 704.9 L677.7 704.3 L678.4 704.6 L679.2 705" stroke="#8cbd9f" stroke-width="0.9" fill="none"/>
<path d="M564 698.2 L564.8 698 L565.5 697.3 L566.3 698.2 L567.1 697.7 L567.8 697.9 L568.6 697.4 L569.4 697.6 L570.1 698.6 L570.9 699.1 L571.7 698.7 L572.4 698.4 L573.2 698.2 L574 697.8 L574.8 697.7 L575.5 699.2 L576.3 697.9 L577.1 698 L577.8 697.9 L578.6 698.5 L579.4 699 L580.1 698 L580.9 698.2 L581.7 698.4 L582.4 698 L583.2 699.1 L584 699.6 L584.7 698.8 L585.5 698.4 L586.3 699.5 L587 698.5 L587.8 698.3 L588.6 699.5 L589.3 698.9 L590.1 698.8 L590.9 699.2 L591.6 699.7 L592.4 699.7 L593.2 698.8 L594 698.8 L594.7 699.4 L595.5 700.1 L596.3 698.9 L597 699 L597.8 700 L598.6 699.4 L599.3 698.9 L600.1 698.9 L600.9 699.6 L601.6 699.7 L602.4 699.6 L603.2 702.1 L603.9 702.2 L604.7 702.2 L605.5 701.3 L606.2 702 L607 701.6 L607.8 702 L608.5 701.8 L609.3 702.5 L610.1 702.7 L610.8 701.1 L611.6 702.2 L612.4 702.7 L613.2 701.8 L613.9 701.6 L614.7 702.7 L615.5 702 L616.2 702.5 L617 702.2 L617.8 703.1 L618.5 703.1 L619.3 701.5 L620.1 701.7 L620.8 702.4 L621.6 702.3 L622.4 702.9 L623.1 702 L623.9 702.7 L624.7 701.8 L625.4 702.2 L626.2 702.1 L627 701.9 L627.7 703.2 L628.5 703.6 L629.3 703.3 L630 703.4 L630.8 703.6 L631.6 703.7 L632.4 702.9 L633.1 702.4 L633.9 703.1 L634.7 702.3 L635.4 702.4 L636.2 703.9 L637 703 L637.7 703.4 L638.5 703.9 L639.3 702.5 L640 703.8 L640.8 703.3 L641.6 703.2 L642.3 702.6 L643.1 703.2 L643.9 703.7 L644.6 703.6 L645.4 704.2 L646.2 702.8 L646.9 702.8 L647.7 704.2 L648.5 704.5 L649.2 704.2 L650 704.1 L650.8 703.1 L651.6 703.2 L652.3 703.3 L653.1 704.8 L653.9 703.5 L654.6 703.7 L655.4 703.8 L656.2 703.3 L656.9 704.9 L657.7 704.8 L658.5 703.8 L659.2 703.5 L660 704 L660.8 704.7 L661.5 704.2 L662.3 703.9 L663.1 705.1 L663.8 704.8 L664.6 704.9 L665.4 705.2 L666.1 704.6 L666.9 705.2 L667.7 705.1 L668.4 705.3 L669.2 704.4 L670 705.6 L670.8 704.4 L671.5 705.4 L672.3 705.7 L673.1 704.2 L673.8 705.4 L674.6 704.2 L675.4 704.4 L676.1 704.4 L676.9 705.7 L677.7 705.2 L678.4 705.9 L679.2 704.4" stroke="#36a68b" stroke-width="0.9" fill="none"/>
<line x1="564" y1="628" x2="564" y2="705.9" stroke="#000" stroke-width="1.5"/>
<line x1="563.3" y1="705.2" x2="679.7" y2="705.2" stroke="#000" stroke-width="1.6"/>
<line x1="560.1" y1="701.5" x2="564" y2="701.5" stroke="#000" stroke-width="1.1"/>
<text x="559.5" y="704" font-size="6.7" text-anchor="end">0</text>
<line x1="560.1" y1="686.9" x2="564" y2="686.9" stroke="#000" stroke-width="1.1"/>
<text x="559.5" y="689.3" font-size="6.7" text-anchor="end">2</text>
<line x1="560.1" y1="672.3" x2="564" y2="672.3" stroke="#000" stroke-width="1.1"/>
<text x="559.5" y="674.7" font-size="6.7" text-anchor="end">4</text>
<line x1="560.1" y1="657.7" x2="564" y2="657.7" stroke="#000" stroke-width="1.1"/>
<text x="559.5" y="660.1" font-size="6.7" text-anchor="end">6</text>
<line x1="560.1" y1="643" x2="564" y2="643" stroke="#000" stroke-width="1.1"/>
<text x="559.5" y="645.4" font-size="6.7" text-anchor="end">8</text>
<line x1="560.1" y1="628.4" x2="564" y2="628.4" stroke="#000" stroke-width="1.1"/>
<text x="559.5" y="630.8" font-size="6.7" text-anchor="end">10</text>
<line x1="564" y1="705.2" x2="564" y2="708.2" stroke="#000" stroke-width="1.1"/>
<text x="564" y="716.3" font-size="6.7" text-anchor="middle">0</text>
<line x1="583.2" y1="705.2" x2="583.2" y2="708.2" stroke="#000" stroke-width="1.1"/>
<text x="583.2" y="716.3" font-size="6.7" text-anchor="middle">100</text>
<line x1="602.4" y1="705.2" x2="602.4" y2="708.2" stroke="#000" stroke-width="1.1"/>
<text x="602.4" y="716.3" font-size="6.7" text-anchor="middle">200</text>
<line x1="621.6" y1="705.2" x2="621.6" y2="708.2" stroke="#000" stroke-width="1.1"/>
<text x="621.6" y="716.3" font-size="6.7" text-anchor="middle">300</text>
<line x1="640.8" y1="705.2" x2="640.8" y2="708.2" stroke="#000" stroke-width="1.1"/>
<text x="640.8" y="716.3" font-size="6.7" text-anchor="middle">400</text>
<line x1="660" y1="705.2" x2="660" y2="708.2" stroke="#000" stroke-width="1.1"/>
<text x="660" y="716.3" font-size="6.7" text-anchor="middle">500</text>
<line x1="679.2" y1="705.2" x2="679.2" y2="708.2" stroke="#000" stroke-width="1.1"/>
<text x="679.2" y="716.3" font-size="6.7" text-anchor="middle">600</text>
<text x="621.6" y="728.2" font-size="7.3" text-anchor="middle">Time (S)</text>
<line x1="619" y1="637.4" x2="627.6" y2="637.4" stroke="#b9664c" stroke-width="1.5"/>
<text x="632.2" y="640.3" font-size="8">50 nM</text>
<line x1="619" y1="648.7" x2="627.6" y2="648.7" stroke="#e64a32" stroke-width="1.5"/>
<text x="632.2" y="651.6" font-size="8">25 nM</text>
<line x1="619" y1="660" x2="627.6" y2="660" stroke="#f1b14e" stroke-width="1.5"/>
<text x="632.2" y="662.9" font-size="8">12.50 nM</text>
<line x1="619" y1="671.3" x2="627.6" y2="671.3" stroke="#f2d8ba" stroke-width="1.5"/>
<text x="632.2" y="674.2" font-size="8">6.25 nM</text>
<line x1="619" y1="682.6" x2="627.6" y2="682.6" stroke="#8cbd9f" stroke-width="1.5"/>
<text x="632.2" y="685.5" font-size="8">3.12 nM</text>
<line x1="619" y1="693.9" x2="627.6" y2="693.9" stroke="#36a68b" stroke-width="1.5"/>
<text x="632.2" y="696.8" font-size="8">1.56 nM</text>
<path d="M39.4 810.1 L39.6 810.1 L39.8 810 L40 810 L40.2 810 L40.9 809.9 L41.7 809.7 L42.5 809.6 L43.2 809.5 L44 809.4 L44.8 809.3 L45.5 809.2 L46.3 809.1 L47.1 809 L47.8 809 L48.6 808.9 L49.4 808.8 L50.2 808.7 L50.9 808.6 L51.7 808.6 L52.5 808.5 L53.2 808.4 L54 808.4 L54.8 808.3 L55.5 808.2 L56.3 808.2 L57.1 808.1 L57.8 808 L58.6 808 L59.4 807.9 L60.1 807.9 L60.9 807.8 L61.7 807.8 L62.4 807.7 L63.2 807.7 L64 807.6 L64.7 807.6 L65.5 807.6 L66.3 807.5 L67 807.5 L67.8 807.4 L68.6 807.4 L69.4 807.4 L70.1 807.3 L70.9 807.3 L71.7 807.3 L72.4 807.2 L73.2 807.2 L74 807.2 L74.7 807.1 L75.5 807.1 L76.3 807.1 L77 807.1 L77.8 807 L79.7 807.1 L81.6 807.1 L83.6 807.2 L85.5 807.2 L87.4 807.3 L89.3 807.3 L91.2 807.3 L93.2 807.4 L95.1 807.4 L97 807.4 L98.9 807.4 L100.8 807.5 L102.8 807.5 L104.7 807.5 L106.6 807.6 L108.5 807.6 L110.4 807.6 L112.4 807.6 L114.3 807.6 L116.2 807.7 L118.1 807.7 L120 807.7 L122 807.7 L123.9 807.7 L125.8 807.7 L127.7 807.7 L129.6 807.8 L131.6 807.8 L133.5 807.8 L135.4 807.8 L137.3 807.8 L139.2 807.8 L141.2 807.8 L143.1 807.8 L145 807.8 L146.9 807.8 L148.8 807.9 L150.8 807.9 L152.7 807.9 L154.6 807.9" stroke="#36a68b" stroke-width="1.4" fill="none" stroke-linejoin="round"/>
<path d="M39.4 810.1 L39.6 810 L39.8 810 L40 809.9 L40.2 809.9 L40.9 809.7 L41.7 809.5 L42.5 809.3 L43.2 809.1 L44 808.9 L44.8 808.8 L45.5 808.6 L46.3 808.4 L47.1 808.3 L47.8 808.1 L48.6 808 L49.4 807.8 L50.2 807.7 L50.9 807.5 L51.7 807.4 L52.5 807.3 L53.2 807.2 L54 807 L54.8 806.9 L55.5 806.8 L56.3 806.7 L57.1 806.6 L57.8 806.5 L58.6 806.4 L59.4 806.3 L60.1 806.2 L60.9 806.1 L61.7 806 L62.4 806 L63.2 805.9 L64 805.8 L64.7 805.7 L65.5 805.6 L66.3 805.6 L67 805.5 L67.8 805.4 L68.6 805.4 L69.4 805.3 L70.1 805.2 L70.9 805.2 L71.7 805.1 L72.4 805.1 L73.2 805 L74 805 L74.7 804.9 L75.5 804.9 L76.3 804.8 L77 804.8 L77.8 804.7 L79.7 804.9 L81.6 805 L83.6 805.1 L85.5 805.2 L87.4 805.3 L89.3 805.4 L91.2 805.5 L93.2 805.6 L95.1 805.6 L97 805.7 L98.9 805.8 L100.8 805.9 L102.8 805.9 L104.7 806 L106.6 806 L108.5 806.1 L110.4 806.2 L112.4 806.2 L114.3 806.3 L116.2 806.3 L118.1 806.4 L120 806.4 L122 806.4 L123.9 806.5 L125.8 806.5 L127.7 806.5 L129.6 806.6 L131.6 806.6 L133.5 806.6 L135.4 806.7 L137.3 806.7 L139.2 806.7 L141.2 806.7 L143.1 806.8 L145 806.8 L146.9 806.8 L148.8 806.8 L150.8 806.8 L152.7 806.9 L154.6 806.9" stroke="#8cbd9f" stroke-width="1.3" fill="none" stroke-linejoin="round"/>
<path d="M39.4 810.1 L39.6 810 L39.8 809.8 L40 809.7 L40.2 809.5 L40.9 808.9 L41.7 808.4 L42.5 807.9 L43.2 807.4 L44 806.9 L44.8 806.4 L45.5 806 L46.3 805.5 L47.1 805.1 L47.8 804.7 L48.6 804.4 L49.4 804 L50.2 803.6 L50.9 803.3 L51.7 803 L52.5 802.7 L53.2 802.4 L54 802.1 L54.8 801.8 L55.5 801.5 L56.3 801.3 L57.1 801 L57.8 800.8 L58.6 800.6 L59.4 800.4 L60.1 800.2 L60.9 800 L61.7 799.8 L62.4 799.6 L63.2 799.4 L64 799.2 L64.7 799.1 L65.5 798.9 L66.3 798.8 L67 798.6 L67.8 798.5 L68.6 798.3 L69.4 798.2 L70.1 798.1 L70.9 798 L71.7 797.8 L72.4 797.7 L73.2 797.6 L74 797.5 L74.7 797.4 L75.5 797.3 L76.3 797.2 L77 797.2 L77.8 797.1 L79.7 797.5 L81.6 797.8 L83.6 798.2 L85.5 798.5 L87.4 798.8 L89.3 799.1 L91.2 799.4 L93.2 799.6 L95.1 799.9 L97 800.1 L98.9 800.3 L100.8 800.6 L102.8 800.8 L104.7 801 L106.6 801.1 L108.5 801.3 L110.4 801.5 L112.4 801.7 L114.3 801.8 L116.2 801.9 L118.1 802.1 L120 802.2 L122 802.3 L123.9 802.5 L125.8 802.6 L127.7 802.7 L129.6 802.8 L131.6 802.9 L133.5 803 L135.4 803.1 L137.3 803.1 L139.2 803.2 L141.2 803.3 L143.1 803.4 L145 803.4 L146.9 803.5 L148.8 803.6 L150.8 803.6 L152.7 803.7 L154.6 803.7" stroke="#f2d8ba" stroke-width="1.3" fill="none" stroke-linejoin="round"/>
<path d="M39.4 810.1 L39.6 809.8 L39.8 809.5 L40 809.2 L40.2 808.9 L40.9 807.7 L41.7 806.6 L42.5 805.6 L43.2 804.6 L44 803.7 L44.8 802.8 L45.5 801.9 L46.3 801.1 L47.1 800.4 L47.8 799.6 L48.6 799 L49.4 798.3 L50.2 797.7 L50.9 797.1 L51.7 796.5 L52.5 796 L53.2 795.5 L54 795 L54.8 794.6 L55.5 794.2 L56.3 793.7 L57.1 793.4 L57.8 793 L58.6 792.6 L59.4 792.3 L60.1 792 L60.9 791.7 L61.7 791.4 L62.4 791.1 L63.2 790.9 L64 790.6 L64.7 790.4 L65.5 790.2 L66.3 790 L67 789.8 L67.8 789.6 L68.6 789.4 L69.4 789.3 L70.1 789.1 L70.9 788.9 L71.7 788.8 L72.4 788.7 L73.2 788.5 L74 788.4 L74.7 788.3 L75.5 788.2 L76.3 788.1 L77 788 L77.8 787.9 L79.7 788.6 L81.6 789.2 L83.6 789.8 L85.5 790.4 L87.4 791 L89.3 791.5 L91.2 792 L93.2 792.5 L95.1 793 L97 793.4 L98.9 793.8 L100.8 794.2 L102.8 794.6 L104.7 794.9 L106.6 795.3 L108.5 795.6 L110.4 795.9 L112.4 796.2 L114.3 796.5 L116.2 796.7 L118.1 797 L120 797.2 L122 797.5 L123.9 797.7 L125.8 797.9 L127.7 798.1 L129.6 798.3 L131.6 798.4 L133.5 798.6 L135.4 798.8 L137.3 798.9 L139.2 799.1 L141.2 799.2 L143.1 799.3 L145 799.5 L146.9 799.6 L148.8 799.7 L150.8 799.8 L152.7 799.9 L154.6 800" stroke="#f1b14e" stroke-width="1.3" fill="none" stroke-linejoin="round"/>
<path d="M39.4 810.1 L39.6 809.5 L39.8 809 L40 808.4 L40.2 807.9 L40.9 805.8 L41.7 803.8 L42.5 801.9 L43.2 800.2 L44 798.6 L44.8 797.1 L45.5 795.7 L46.3 794.4 L47.1 793.1 L47.8 792 L48.6 790.9 L49.4 789.9 L50.2 788.9 L50.9 788 L51.7 787.2 L52.5 786.4 L53.2 785.7 L54 785 L54.8 784.4 L55.5 783.8 L56.3 783.2 L57.1 782.7 L57.8 782.2 L58.6 781.8 L59.4 781.4 L60.1 781 L60.9 780.6 L61.7 780.2 L62.4 779.9 L63.2 779.6 L64 779.3 L64.7 779 L65.5 778.8 L66.3 778.6 L67 778.3 L67.8 778.1 L68.6 777.9 L69.4 777.8 L70.1 777.6 L70.9 777.4 L71.7 777.3 L72.4 777.1 L73.2 777 L74 776.9 L74.7 776.8 L75.5 776.7 L76.3 776.6 L77 776.5 L77.8 776.4 L79.7 777.6 L81.6 778.8 L83.6 779.9 L85.5 781 L87.4 782 L89.3 782.9 L91.2 783.9 L93.2 784.7 L95.1 785.5 L97 786.3 L98.9 787.1 L100.8 787.8 L102.8 788.5 L104.7 789.1 L106.6 789.7 L108.5 790.3 L110.4 790.9 L112.4 791.4 L114.3 791.9 L116.2 792.4 L118.1 792.8 L120 793.2 L122 793.6 L123.9 794 L125.8 794.4 L127.7 794.8 L129.6 795.1 L131.6 795.4 L133.5 795.7 L135.4 796 L137.3 796.3 L139.2 796.5 L141.2 796.8 L143.1 797 L145 797.3 L146.9 797.5 L148.8 797.7 L150.8 797.9 L152.7 798.1 L154.6 798.2" stroke="#e64a32" stroke-width="1.4" fill="none" stroke-linejoin="round"/>
<path d="M39.4 810.1 L39.6 809.2 L39.8 808.3 L40 807.4 L40.2 806.5 L40.9 803.2 L41.7 800.1 L42.5 797.3 L43.2 794.7 L44 792.3 L44.8 790 L45.5 788 L46.3 786.1 L47.1 784.3 L47.8 782.7 L48.6 781.2 L49.4 779.8 L50.2 778.6 L50.9 777.4 L51.7 776.3 L52.5 775.3 L53.2 774.4 L54 773.5 L54.8 772.7 L55.5 772 L56.3 771.3 L57.1 770.7 L57.8 770.1 L58.6 769.6 L59.4 769.1 L60.1 768.7 L60.9 768.3 L61.7 767.9 L62.4 767.5 L63.2 767.2 L64 766.9 L64.7 766.6 L65.5 766.4 L66.3 766.1 L67 765.9 L67.8 765.7 L68.6 765.5 L69.4 765.3 L70.1 765.2 L70.9 765 L71.7 764.9 L72.4 764.8 L73.2 764.7 L74 764.6 L74.7 764.5 L75.5 764.4 L76.3 764.3 L77 764.2 L77.8 764.1 L79.7 765.8 L81.6 767.5 L83.6 769 L85.5 770.5 L87.4 771.9 L89.3 773.2 L91.2 774.5 L93.2 775.7 L95.1 776.8 L97 777.9 L98.9 778.9 L100.8 779.9 L102.8 780.9 L104.7 781.8 L106.6 782.6 L108.5 783.4 L110.4 784.2 L112.4 784.9 L114.3 785.6 L116.2 786.3 L118.1 786.9 L120 787.5 L122 788.1 L123.9 788.6 L125.8 789.1 L127.7 789.6 L129.6 790.1 L131.6 790.5 L133.5 790.9 L135.4 791.3 L137.3 791.7 L139.2 792.1 L141.2 792.4 L143.1 792.7 L145 793.1 L146.9 793.3 L148.8 793.6 L150.8 793.9 L152.7 794.2 L154.6 794.4" stroke="#b9664c" stroke-width="1.4" fill="none" stroke-linejoin="round"/>
<line x1="39.4" y1="733.1" x2="39.4" y2="810.8" stroke="#000" stroke-width="1.5"/>
<line x1="38.7" y1="810.1" x2="155.1" y2="810.1" stroke="#000" stroke-width="1.6"/>
<line x1="35.5" y1="810.1" x2="39.4" y2="810.1" stroke="#000" stroke-width="1.1"/>
<text x="34.9" y="812.5" font-size="6.7" text-anchor="end">0</text>
<line x1="35.5" y1="794.8" x2="39.4" y2="794.8" stroke="#000" stroke-width="1.1"/>
<text x="34.9" y="797.2" font-size="6.7" text-anchor="end">20</text>
<line x1="35.5" y1="779.5" x2="39.4" y2="779.5" stroke="#000" stroke-width="1.1"/>
<text x="34.9" y="781.9" font-size="6.7" text-anchor="end">40</text>
<line x1="35.5" y1="764.1" x2="39.4" y2="764.1" stroke="#000" stroke-width="1.1"/>
<text x="34.9" y="766.6" font-size="6.7" text-anchor="end">60</text>
<line x1="35.5" y1="748.8" x2="39.4" y2="748.8" stroke="#000" stroke-width="1.1"/>
<text x="34.9" y="751.2" font-size="6.7" text-anchor="end">80</text>
<line x1="35.5" y1="733.5" x2="39.4" y2="733.5" stroke="#000" stroke-width="1.1"/>
<text x="34.9" y="735.9" font-size="6.7" text-anchor="end">100</text>
<line x1="39.4" y1="810.1" x2="39.4" y2="813.1" stroke="#000" stroke-width="1.1"/>
<text x="39.4" y="821" font-size="6.7" text-anchor="middle">0</text>
<line x1="58.6" y1="810.1" x2="58.6" y2="813.1" stroke="#000" stroke-width="1.1"/>
<text x="58.6" y="821" font-size="6.7" text-anchor="middle">100</text>
<line x1="77.8" y1="810.1" x2="77.8" y2="813.1" stroke="#000" stroke-width="1.1"/>
<text x="77.8" y="821" font-size="6.7" text-anchor="middle">200</text>
<line x1="97" y1="810.1" x2="97" y2="813.1" stroke="#000" stroke-width="1.1"/>
<text x="97" y="821" font-size="6.7" text-anchor="middle">300</text>
<line x1="116.2" y1="810.1" x2="116.2" y2="813.1" stroke="#000" stroke-width="1.1"/>
<text x="116.2" y="821" font-size="6.7" text-anchor="middle">400</text>
<line x1="135.4" y1="810.1" x2="135.4" y2="813.1" stroke="#000" stroke-width="1.1"/>
<text x="135.4" y="821" font-size="6.7" text-anchor="middle">500</text>
<line x1="154.6" y1="810.1" x2="154.6" y2="813.1" stroke="#000" stroke-width="1.1"/>
<text x="154.6" y="821" font-size="6.7" text-anchor="middle">600</text>
<text x="97" y="833.2" font-size="7.3" text-anchor="middle">Time (S)</text>
<text x="61" y="744.7" font-size="9.7" fill="#118a17">KD = 9.125E-9 (M)</text>
<path d="M170.6 810.1 L170.8 809.9 L171 809.6 L171.2 809.4 L171.4 809.2 L172.1 808.4 L172.9 807.8 L173.7 807.2 L174.4 806.8 L175.2 806.4 L176 806 L176.7 805.8 L177.5 805.5 L178.3 805.3 L179 805.1 L179.8 804.9 L180.6 804.7 L181.4 804.6 L182.1 804.5 L182.9 804.3 L183.7 804.2 L184.4 804.1 L185.2 804 L186 803.9 L186.7 803.8 L187.5 803.7 L188.3 803.6 L189 803.5 L189.8 803.4 L190.6 803.3 L191.3 803.2 L192.1 803.2 L192.9 803.1 L193.6 803 L194.4 802.9 L195.2 802.8 L195.9 802.7 L196.7 802.6 L197.5 802.6 L198.2 802.5 L199 802.4 L199.8 802.3 L200.6 802.2 L201.3 802.1 L202.1 802.1 L202.9 802 L203.6 801.9 L204.4 801.8 L205.2 801.7 L205.9 801.6 L206.7 801.5 L207.5 801.5 L208.2 801.4 L209 801.3 L210.9 801.9 L212.8 802.5 L214.8 803 L216.7 803.5 L218.6 803.9 L220.5 804.3 L222.4 804.6 L224.4 804.9 L226.3 805.2 L228.2 805.5 L230.1 805.7 L232 805.9 L234 806.1 L235.9 806.3 L237.8 806.4 L239.7 806.6 L241.6 806.7 L243.6 806.8 L245.5 806.9 L247.4 807 L249.3 807.1 L251.2 807.2 L253.2 807.3 L255.1 807.3 L257 807.4 L258.9 807.4 L260.8 807.5 L262.8 807.5 L264.7 807.6 L266.6 807.6 L268.5 807.6 L270.4 807.7 L272.4 807.7 L274.3 807.7 L276.2 807.7 L278.1 807.7 L280 807.8 L282 807.8 L283.9 807.8 L285.8 807.8" stroke="#36a68b" stroke-width="1.4" fill="none" stroke-linejoin="round"/>
<path d="M170.6 810.1 L170.8 809.7 L171 809.3 L171.2 808.9 L171.4 808.6 L172.1 807.3 L172.9 806.3 L173.7 805.4 L174.4 804.6 L175.2 804 L176 803.5 L176.7 803 L177.5 802.6 L178.3 802.3 L179 801.9 L179.8 801.7 L180.6 801.4 L181.4 801.2 L182.1 801 L182.9 800.8 L183.7 800.6 L184.4 800.4 L185.2 800.3 L186 800.1 L186.7 800 L187.5 799.8 L188.3 799.7 L189 799.6 L189.8 799.4 L190.6 799.3 L191.3 799.2 L192.1 799 L192.9 798.9 L193.6 798.8 L194.4 798.7 L195.2 798.5 L195.9 798.4 L196.7 798.3 L197.5 798.2 L198.2 798 L199 797.9 L199.8 797.8 L200.6 797.7 L201.3 797.5 L202.1 797.4 L202.9 797.3 L203.6 797.2 L204.4 797 L205.2 796.9 L205.9 796.8 L206.7 796.7 L207.5 796.6 L208.2 796.4 L209 796.3 L210.9 797.3 L212.8 798.2 L214.8 798.9 L216.7 799.7 L218.6 800.3 L220.5 800.9 L222.4 801.4 L224.4 801.9 L226.3 802.3 L228.2 802.7 L230.1 803.1 L232 803.4 L234 803.7 L235.9 804 L237.8 804.2 L239.7 804.4 L241.6 804.6 L243.6 804.8 L245.5 804.9 L247.4 805.1 L249.3 805.2 L251.2 805.3 L253.2 805.4 L255.1 805.5 L257 805.6 L258.9 805.7 L260.8 805.8 L262.8 805.8 L264.7 805.9 L266.6 806 L268.5 806 L270.4 806 L272.4 806.1 L274.3 806.1 L276.2 806.1 L278.1 806.2 L280 806.2 L282 806.2 L283.9 806.3 L285.8 806.3" stroke="#8cbd9f" stroke-width="1.3" fill="none" stroke-linejoin="round"/>
<path d="M170.6 810.1 L170.8 809.5 L171 808.9 L171.2 808.4 L171.4 807.8 L172.1 806 L172.9 804.4 L173.7 803.1 L174.4 802 L175.2 801.1 L176 800.3 L176.7 799.6 L177.5 799 L178.3 798.5 L179 798 L179.8 797.6 L180.6 797.3 L181.4 796.9 L182.1 796.7 L182.9 796.4 L183.7 796.1 L184.4 795.9 L185.2 795.7 L186 795.5 L186.7 795.2 L187.5 795 L188.3 794.8 L189 794.7 L189.8 794.5 L190.6 794.3 L191.3 794.1 L192.1 793.9 L192.9 793.8 L193.6 793.6 L194.4 793.4 L195.2 793.2 L195.9 793.1 L196.7 792.9 L197.5 792.7 L198.2 792.6 L199 792.4 L199.8 792.2 L200.6 792 L201.3 791.9 L202.1 791.7 L202.9 791.5 L203.6 791.4 L204.4 791.2 L205.2 791 L205.9 790.9 L206.7 790.7 L207.5 790.5 L208.2 790.4 L209 790.2 L210.9 791.5 L212.8 792.7 L214.8 793.8 L216.7 794.8 L218.6 795.7 L220.5 796.5 L222.4 797.3 L224.4 797.9 L226.3 798.5 L228.2 799.1 L230.1 799.6 L232 800 L234 800.4 L235.9 800.8 L237.8 801.1 L239.7 801.4 L241.6 801.7 L243.6 801.9 L245.5 802.1 L247.4 802.3 L249.3 802.5 L251.2 802.7 L253.2 802.8 L255.1 803 L257 803.1 L258.9 803.2 L260.8 803.3 L262.8 803.4 L264.7 803.5 L266.6 803.5 L268.5 803.6 L270.4 803.7 L272.4 803.7 L274.3 803.8 L276.2 803.8 L278.1 803.8 L280 803.9 L282 803.9 L283.9 803.9 L285.8 804" stroke="#f2d8ba" stroke-width="1.3" fill="none" stroke-linejoin="round"/>
<path d="M170.6 810.1 L170.8 809.1 L171 808.2 L171.2 807.2 L171.4 806.4 L172.1 803.3 L172.9 800.7 L173.7 798.6 L174.4 796.8 L175.2 795.2 L176 794 L176.7 792.9 L177.5 791.9 L178.3 791.1 L179 790.4 L179.8 789.7 L180.6 789.2 L181.4 788.7 L182.1 788.2 L182.9 787.8 L183.7 787.4 L184.4 787.1 L185.2 786.7 L186 786.4 L186.7 786.1 L187.5 785.8 L188.3 785.5 L189 785.2 L189.8 785 L190.6 784.7 L191.3 784.4 L192.1 784.2 L192.9 783.9 L193.6 783.6 L194.4 783.4 L195.2 783.1 L195.9 782.9 L196.7 782.6 L197.5 782.4 L198.2 782.1 L199 781.9 L199.8 781.6 L200.6 781.4 L201.3 781.2 L202.1 780.9 L202.9 780.7 L203.6 780.4 L204.4 780.2 L205.2 779.9 L205.9 779.7 L206.7 779.4 L207.5 779.2 L208.2 778.9 L209 778.7 L210.9 780.3 L212.8 781.8 L214.8 783.1 L216.7 784.4 L218.6 785.4 L220.5 786.4 L222.4 787.3 L224.4 788.1 L226.3 788.9 L228.2 789.5 L230.1 790.1 L232 790.7 L234 791.2 L235.9 791.6 L237.8 792 L239.7 792.4 L241.6 792.7 L243.6 793 L245.5 793.3 L247.4 793.5 L249.3 793.8 L251.2 794 L253.2 794.1 L255.1 794.3 L257 794.5 L258.9 794.6 L260.8 794.7 L262.8 794.8 L264.7 794.9 L266.6 795 L268.5 795.1 L270.4 795.2 L272.4 795.2 L274.3 795.3 L276.2 795.3 L278.1 795.4 L280 795.4 L282 795.5 L283.9 795.5 L285.8 795.5" stroke="#f1b14e" stroke-width="1.3" fill="none" stroke-linejoin="round"/>
<path d="M170.6 810.1 L170.8 808.6 L171 807.2 L171.2 805.8 L171.4 804.5 L172.1 799.9 L172.9 796.1 L173.7 792.9 L174.4 790.2 L175.2 788 L176 786 L176.7 784.4 L177.5 783 L178.3 781.8 L179 780.8 L179.8 779.8 L180.6 779 L181.4 778.3 L182.1 777.6 L182.9 777 L183.7 776.5 L184.4 776 L185.2 775.5 L186 775 L186.7 774.6 L187.5 774.1 L188.3 773.7 L189 773.3 L189.8 773 L190.6 772.6 L191.3 772.2 L192.1 771.8 L192.9 771.5 L193.6 771.1 L194.4 770.7 L195.2 770.4 L195.9 770 L196.7 769.7 L197.5 769.3 L198.2 769 L199 768.6 L199.8 768.3 L200.6 767.9 L201.3 767.6 L202.1 767.3 L202.9 766.9 L203.6 766.6 L204.4 766.2 L205.2 765.9 L205.9 765.5 L206.7 765.2 L207.5 764.8 L208.2 764.5 L209 764.1 L210.9 766.1 L212.8 767.9 L214.8 769.5 L216.7 771 L218.6 772.4 L220.5 773.7 L222.4 774.8 L224.4 775.9 L226.3 776.8 L228.2 777.7 L230.1 778.5 L232 779.2 L234 779.9 L235.9 780.5 L237.8 781.1 L239.7 781.6 L241.6 782 L243.6 782.5 L245.5 782.8 L247.4 783.2 L249.3 783.5 L251.2 783.8 L253.2 784.1 L255.1 784.3 L257 784.6 L258.9 784.8 L260.8 785 L262.8 785.1 L264.7 785.3 L266.6 785.4 L268.5 785.6 L270.4 785.7 L272.4 785.8 L274.3 785.9 L276.2 786 L278.1 786.1 L280 786.2 L282 786.2 L283.9 786.3 L285.8 786.4" stroke="#e64a32" stroke-width="1.4" fill="none" stroke-linejoin="round"/>
<path d="M170.6 810.1 L170.8 808.2 L171 806.4 L171.2 804.7 L171.4 803 L172.1 797.2 L172.9 792.3 L173.7 788.3 L174.4 784.9 L175.2 782 L176 779.6 L176.7 777.6 L177.5 775.8 L178.3 774.3 L179 773 L179.8 771.9 L180.6 770.9 L181.4 770 L182.1 769.2 L182.9 768.5 L183.7 767.8 L184.4 767.2 L185.2 766.6 L186 766 L186.7 765.5 L187.5 765 L188.3 764.5 L189 764.1 L189.8 763.6 L190.6 763.2 L191.3 762.7 L192.1 762.3 L192.9 761.9 L193.6 761.5 L194.4 761.1 L195.2 760.6 L195.9 760.2 L196.7 759.8 L197.5 759.4 L198.2 759 L199 758.6 L199.8 758.2 L200.6 757.8 L201.3 757.4 L202.1 757 L202.9 756.6 L203.6 756.2 L204.4 755.8 L205.2 755.4 L205.9 755 L206.7 754.6 L207.5 754.2 L208.2 753.8 L209 753.4 L210.9 755.4 L212.8 757.2 L214.8 758.9 L216.7 760.4 L218.6 761.8 L220.5 763.1 L222.4 764.3 L224.4 765.3 L226.3 766.3 L228.2 767.2 L230.1 768 L232 768.8 L234 769.4 L235.9 770.1 L237.8 770.6 L239.7 771.1 L241.6 771.6 L243.6 772.1 L245.5 772.4 L247.4 772.8 L249.3 773.1 L251.2 773.4 L253.2 773.7 L255.1 774 L257 774.2 L258.9 774.4 L260.8 774.6 L262.8 774.8 L264.7 774.9 L266.6 775.1 L268.5 775.2 L270.4 775.3 L272.4 775.5 L274.3 775.6 L276.2 775.7 L278.1 775.7 L280 775.8 L282 775.9 L283.9 776 L285.8 776" stroke="#b9664c" stroke-width="1.4" fill="none" stroke-linejoin="round"/>
<line x1="170.6" y1="733.1" x2="170.6" y2="810.8" stroke="#000" stroke-width="1.5"/>
<line x1="169.9" y1="810.1" x2="286.3" y2="810.1" stroke="#000" stroke-width="1.6"/>
<line x1="166.7" y1="810.1" x2="170.6" y2="810.1" stroke="#000" stroke-width="1.1"/>
<text x="166.1" y="812.5" font-size="6.7" text-anchor="end">0</text>
<line x1="166.7" y1="791" x2="170.6" y2="791" stroke="#000" stroke-width="1.1"/>
<text x="166.1" y="793.4" font-size="6.7" text-anchor="end">50</text>
<line x1="166.7" y1="771.8" x2="170.6" y2="771.8" stroke="#000" stroke-width="1.1"/>
<text x="166.1" y="774.2" font-size="6.7" text-anchor="end">100</text>
<line x1="166.7" y1="752.6" x2="170.6" y2="752.6" stroke="#000" stroke-width="1.1"/>
<text x="166.1" y="755.1" font-size="6.7" text-anchor="end">150</text>
<line x1="166.7" y1="733.5" x2="170.6" y2="733.5" stroke="#000" stroke-width="1.1"/>
<text x="166.1" y="735.9" font-size="6.7" text-anchor="end">200</text>
<line x1="170.6" y1="810.1" x2="170.6" y2="813.1" stroke="#000" stroke-width="1.1"/>
<text x="170.6" y="821" font-size="6.7" text-anchor="middle">0</text>
<line x1="189.8" y1="810.1" x2="189.8" y2="813.1" stroke="#000" stroke-width="1.1"/>
<text x="189.8" y="821" font-size="6.7" text-anchor="middle">100</text>
<line x1="209" y1="810.1" x2="209" y2="813.1" stroke="#000" stroke-width="1.1"/>
<text x="209" y="821" font-size="6.7" text-anchor="middle">200</text>
<line x1="228.2" y1="810.1" x2="228.2" y2="813.1" stroke="#000" stroke-width="1.1"/>
<text x="228.2" y="821" font-size="6.7" text-anchor="middle">300</text>
<line x1="247.4" y1="810.1" x2="247.4" y2="813.1" stroke="#000" stroke-width="1.1"/>
<text x="247.4" y="821" font-size="6.7" text-anchor="middle">400</text>
<line x1="266.6" y1="810.1" x2="266.6" y2="813.1" stroke="#000" stroke-width="1.1"/>
<text x="266.6" y="821" font-size="6.7" text-anchor="middle">500</text>
<line x1="285.8" y1="810.1" x2="285.8" y2="813.1" stroke="#000" stroke-width="1.1"/>
<text x="285.8" y="821" font-size="6.7" text-anchor="middle">600</text>
<text x="228.2" y="833.2" font-size="7.3" text-anchor="middle">Time (S)</text>
<text x="192.6" y="744.7" font-size="9.7" fill="#118a17">KD = 1.856E-9 (M)</text>
<path d="M301.4 810.1 L301.6 810.1 L301.8 810.1 L302 810.1 L302.2 810 L302.9 810 L303.7 809.9 L304.5 809.9 L305.2 809.8 L306 809.8 L306.8 809.7 L307.5 809.7 L308.3 809.6 L309.1 809.6 L309.8 809.5 L310.6 809.5 L311.4 809.4 L312.2 809.4 L312.9 809.3 L313.7 809.3 L314.5 809.2 L315.2 809.2 L316 809.1 L316.8 809.1 L317.5 809 L318.3 809 L319.1 808.9 L319.8 808.9 L320.6 808.8 L321.4 808.8 L322.1 808.7 L322.9 808.7 L323.7 808.7 L324.4 808.6 L325.2 808.6 L326 808.5 L326.7 808.5 L327.5 808.4 L328.3 808.4 L329 808.4 L329.8 808.3 L330.6 808.3 L331.4 808.2 L332.1 808.2 L332.9 808.2 L333.7 808.1 L334.4 808.1 L335.2 808 L336 808 L336.7 808 L337.5 807.9 L338.3 807.9 L339 807.8 L339.8 807.8 L341.7 807.8 L343.6 807.8 L345.6 807.8 L347.5 807.8 L349.4 807.9 L351.3 807.9 L353.2 807.9 L355.2 807.9 L357.1 807.9 L359 807.9 L360.9 807.9 L362.8 807.9 L364.8 807.9 L366.7 807.9 L368.6 808 L370.5 808 L372.4 808 L374.4 808 L376.3 808 L378.2 808 L380.1 808 L382 808 L384 808 L385.9 808 L387.8 808.1 L389.7 808.1 L391.6 808.1 L393.6 808.1 L395.5 808.1 L397.4 808.1 L399.3 808.1 L401.2 808.1 L403.2 808.1 L405.1 808.1 L407 808.1 L408.9 808.2 L410.8 808.2 L412.8 808.2 L414.7 808.2 L416.6 808.2" stroke="#36a68b" stroke-width="1.4" fill="none" stroke-linejoin="round"/>
<path d="M301.4 810.1 L301.6 810.1 L301.8 810 L302 810 L302.2 810 L302.9 809.9 L303.7 809.8 L304.5 809.7 L305.2 809.6 L306 809.4 L306.8 809.3 L307.5 809.2 L308.3 809.1 L309.1 809 L309.8 808.9 L310.6 808.8 L311.4 808.7 L312.2 808.6 L312.9 808.5 L313.7 808.4 L314.5 808.3 L315.2 808.2 L316 808.1 L316.8 808 L317.5 807.9 L318.3 807.9 L319.1 807.8 L319.8 807.7 L320.6 807.6 L321.4 807.5 L322.1 807.4 L322.9 807.3 L323.7 807.2 L324.4 807.1 L325.2 807 L326 807 L326.7 806.9 L327.5 806.8 L328.3 806.7 L329 806.6 L329.8 806.5 L330.6 806.4 L331.4 806.4 L332.1 806.3 L332.9 806.2 L333.7 806.1 L334.4 806 L335.2 806 L336 805.9 L336.7 805.8 L337.5 805.7 L338.3 805.7 L339 805.6 L339.8 805.5 L341.7 805.5 L343.6 805.5 L345.6 805.6 L347.5 805.6 L349.4 805.6 L351.3 805.6 L353.2 805.6 L355.2 805.7 L357.1 805.7 L359 805.7 L360.9 805.7 L362.8 805.8 L364.8 805.8 L366.7 805.8 L368.6 805.8 L370.5 805.8 L372.4 805.8 L374.4 805.9 L376.3 805.9 L378.2 805.9 L380.1 805.9 L382 805.9 L384 806 L385.9 806 L387.8 806 L389.7 806 L391.6 806 L393.6 806.1 L395.5 806.1 L397.4 806.1 L399.3 806.1 L401.2 806.1 L403.2 806.1 L405.1 806.2 L407 806.2 L408.9 806.2 L410.8 806.2 L412.8 806.2 L414.7 806.3 L416.6 806.3" stroke="#8cbd9f" stroke-width="1.3" fill="none" stroke-linejoin="round"/>
<path d="M301.4 810.1 L301.6 810 L301.8 810 L302 809.9 L302.2 809.9 L302.9 809.6 L303.7 809.4 L304.5 809.2 L305.2 809 L306 808.7 L306.8 808.5 L307.5 808.3 L308.3 808.1 L309.1 807.9 L309.8 807.7 L310.6 807.4 L311.4 807.2 L312.2 807 L312.9 806.8 L313.7 806.6 L314.5 806.4 L315.2 806.2 L316 806 L316.8 805.8 L317.5 805.6 L318.3 805.4 L319.1 805.2 L319.8 805 L320.6 804.8 L321.4 804.6 L322.1 804.5 L322.9 804.3 L323.7 804.1 L324.4 803.9 L325.2 803.7 L326 803.5 L326.7 803.4 L327.5 803.2 L328.3 803 L329 802.8 L329.8 802.7 L330.6 802.5 L331.4 802.3 L332.1 802.1 L332.9 802 L333.7 801.8 L334.4 801.6 L335.2 801.5 L336 801.3 L336.7 801.2 L337.5 801 L338.3 800.8 L339 800.7 L339.8 800.5 L341.7 800.6 L343.6 800.6 L345.6 800.6 L347.5 800.7 L349.4 800.7 L351.3 800.7 L353.2 800.7 L355.2 800.8 L357.1 800.8 L359 800.8 L360.9 800.9 L362.8 800.9 L364.8 800.9 L366.7 801 L368.6 801 L370.5 801 L372.4 801 L374.4 801.1 L376.3 801.1 L378.2 801.1 L380.1 801.2 L382 801.2 L384 801.2 L385.9 801.2 L387.8 801.3 L389.7 801.3 L391.6 801.3 L393.6 801.4 L395.5 801.4 L397.4 801.4 L399.3 801.4 L401.2 801.5 L403.2 801.5 L405.1 801.5 L407 801.5 L408.9 801.6 L410.8 801.6 L412.8 801.6 L414.7 801.6 L416.6 801.7" stroke="#f2d8ba" stroke-width="1.3" fill="none" stroke-linejoin="round"/>
<path d="M301.4 810.1 L301.6 810 L301.8 809.9 L302 809.8 L302.2 809.6 L302.9 809.2 L303.7 808.7 L304.5 808.3 L305.2 807.8 L306 807.4 L306.8 807 L307.5 806.5 L308.3 806.1 L309.1 805.7 L309.8 805.3 L310.6 804.9 L311.4 804.5 L312.2 804.1 L312.9 803.7 L313.7 803.3 L314.5 802.9 L315.2 802.5 L316 802.1 L316.8 801.8 L317.5 801.4 L318.3 801 L319.1 800.7 L319.8 800.3 L320.6 800 L321.4 799.6 L322.1 799.3 L322.9 799 L323.7 798.6 L324.4 798.3 L325.2 798 L326 797.6 L326.7 797.3 L327.5 797 L328.3 796.7 L329 796.4 L329.8 796.1 L330.6 795.8 L331.4 795.5 L332.1 795.2 L332.9 794.9 L333.7 794.6 L334.4 794.4 L335.2 794.1 L336 793.8 L336.7 793.5 L337.5 793.3 L338.3 793 L339 792.7 L339.8 792.5 L341.7 792.5 L343.6 792.6 L345.6 792.7 L347.5 792.7 L349.4 792.8 L351.3 792.9 L353.2 792.9 L355.2 793 L357.1 793 L359 793.1 L360.9 793.2 L362.8 793.2 L364.8 793.3 L366.7 793.3 L368.6 793.4 L370.5 793.5 L372.4 793.5 L374.4 793.6 L376.3 793.6 L378.2 793.7 L380.1 793.7 L382 793.8 L384 793.9 L385.9 793.9 L387.8 794 L389.7 794 L391.6 794.1 L393.6 794.1 L395.5 794.2 L397.4 794.2 L399.3 794.3 L401.2 794.4 L403.2 794.4 L405.1 794.5 L407 794.5 L408.9 794.6 L410.8 794.6 L412.8 794.7 L414.7 794.7 L416.6 794.8" stroke="#f1b14e" stroke-width="1.3" fill="none" stroke-linejoin="round"/>
<path d="M301.4 810.1 L301.6 809.9 L301.8 809.7 L302 809.4 L302.2 809.2 L302.9 808.3 L303.7 807.5 L304.5 806.7 L305.2 805.8 L306 805 L306.8 804.2 L307.5 803.4 L308.3 802.6 L309.1 801.9 L309.8 801.1 L310.6 800.4 L311.4 799.7 L312.2 798.9 L312.9 798.2 L313.7 797.5 L314.5 796.8 L315.2 796.2 L316 795.5 L316.8 794.9 L317.5 794.2 L318.3 793.6 L319.1 793 L319.8 792.4 L320.6 791.8 L321.4 791.2 L322.1 790.6 L322.9 790 L323.7 789.4 L324.4 788.9 L325.2 788.3 L326 787.8 L326.7 787.3 L327.5 786.8 L328.3 786.2 L329 785.7 L329.8 785.2 L330.6 784.8 L331.4 784.3 L332.1 783.8 L332.9 783.3 L333.7 782.9 L334.4 782.4 L335.2 782 L336 781.5 L336.7 781.1 L337.5 780.7 L338.3 780.3 L339 779.9 L339.8 779.5 L341.7 779.6 L343.6 779.7 L345.6 779.8 L347.5 779.9 L349.4 780 L351.3 780.1 L353.2 780.2 L355.2 780.3 L357.1 780.4 L359 780.5 L360.9 780.6 L362.8 780.7 L364.8 780.8 L366.7 780.9 L368.6 781 L370.5 781.1 L372.4 781.2 L374.4 781.3 L376.3 781.4 L378.2 781.5 L380.1 781.6 L382 781.7 L384 781.8 L385.9 781.8 L387.8 781.9 L389.7 782 L391.6 782.1 L393.6 782.2 L395.5 782.3 L397.4 782.4 L399.3 782.5 L401.2 782.6 L403.2 782.7 L405.1 782.8 L407 782.9 L408.9 782.9 L410.8 783 L412.8 783.1 L414.7 783.2 L416.6 783.3" stroke="#e64a32" stroke-width="1.4" fill="none" stroke-linejoin="round"/>
<path d="M301.4 810.1 L301.6 809.7 L301.8 809.3 L302 808.9 L302.2 808.4 L302.9 806.8 L303.7 805.2 L304.5 803.7 L305.2 802.2 L306 800.8 L306.8 799.4 L307.5 798 L308.3 796.6 L309.1 795.3 L309.8 794.1 L310.6 792.8 L311.4 791.6 L312.2 790.5 L312.9 789.3 L313.7 788.2 L314.5 787.1 L315.2 786.1 L316 785 L316.8 784.1 L317.5 783.1 L318.3 782.1 L319.1 781.2 L319.8 780.3 L320.6 779.4 L321.4 778.6 L322.1 777.8 L322.9 777 L323.7 776.2 L324.4 775.4 L325.2 774.7 L326 773.9 L326.7 773.2 L327.5 772.6 L328.3 771.9 L329 771.2 L329.8 770.6 L330.6 770 L331.4 769.4 L332.1 768.8 L332.9 768.2 L333.7 767.7 L334.4 767.1 L335.2 766.6 L336 766.1 L336.7 765.6 L337.5 765.1 L338.3 764.7 L339 764.2 L339.8 763.8 L341.7 763.9 L343.6 764 L345.6 764.2 L347.5 764.3 L349.4 764.4 L351.3 764.6 L353.2 764.7 L355.2 764.8 L357.1 765 L359 765.1 L360.9 765.2 L362.8 765.4 L364.8 765.5 L366.7 765.6 L368.6 765.7 L370.5 765.9 L372.4 766 L374.4 766.1 L376.3 766.2 L378.2 766.4 L380.1 766.5 L382 766.6 L384 766.7 L385.9 766.9 L387.8 767 L389.7 767.1 L391.6 767.2 L393.6 767.3 L395.5 767.5 L397.4 767.6 L399.3 767.7 L401.2 767.8 L403.2 767.9 L405.1 768.1 L407 768.2 L408.9 768.3 L410.8 768.4 L412.8 768.5 L414.7 768.6 L416.6 768.7" stroke="#b9664c" stroke-width="1.4" fill="none" stroke-linejoin="round"/>
<line x1="301.4" y1="733.1" x2="301.4" y2="810.8" stroke="#000" stroke-width="1.5"/>
<line x1="300.7" y1="810.1" x2="417.1" y2="810.1" stroke="#000" stroke-width="1.6"/>
<line x1="297.5" y1="810.1" x2="301.4" y2="810.1" stroke="#000" stroke-width="1.1"/>
<text x="296.9" y="812.5" font-size="6.7" text-anchor="end">0</text>
<line x1="297.5" y1="794.8" x2="301.4" y2="794.8" stroke="#000" stroke-width="1.1"/>
<text x="296.9" y="797.2" font-size="6.7" text-anchor="end">20</text>
<line x1="297.5" y1="779.5" x2="301.4" y2="779.5" stroke="#000" stroke-width="1.1"/>
<text x="296.9" y="781.9" font-size="6.7" text-anchor="end">40</text>
<line x1="297.5" y1="764.1" x2="301.4" y2="764.1" stroke="#000" stroke-width="1.1"/>
<text x="296.9" y="766.6" font-size="6.7" text-anchor="end">60</text>
<line x1="297.5" y1="748.8" x2="301.4" y2="748.8" stroke="#000" stroke-width="1.1"/>
<text x="296.9" y="751.2" font-size="6.7" text-anchor="end">80</text>
<line x1="297.5" y1="733.5" x2="301.4" y2="733.5" stroke="#000" stroke-width="1.1"/>
<text x="296.9" y="735.9" font-size="6.7" text-anchor="end">100</text>
<line x1="301.4" y1="810.1" x2="301.4" y2="813.1" stroke="#000" stroke-width="1.1"/>
<text x="301.4" y="821" font-size="6.7" text-anchor="middle">0</text>
<line x1="320.6" y1="810.1" x2="320.6" y2="813.1" stroke="#000" stroke-width="1.1"/>
<text x="320.6" y="821" font-size="6.7" text-anchor="middle">100</text>
<line x1="339.8" y1="810.1" x2="339.8" y2="813.1" stroke="#000" stroke-width="1.1"/>
<text x="339.8" y="821" font-size="6.7" text-anchor="middle">200</text>
<line x1="359" y1="810.1" x2="359" y2="813.1" stroke="#000" stroke-width="1.1"/>
<text x="359" y="821" font-size="6.7" text-anchor="middle">300</text>
<line x1="378.2" y1="810.1" x2="378.2" y2="813.1" stroke="#000" stroke-width="1.1"/>
<text x="378.2" y="821" font-size="6.7" text-anchor="middle">400</text>
<line x1="397.4" y1="810.1" x2="397.4" y2="813.1" stroke="#000" stroke-width="1.1"/>
<text x="397.4" y="821" font-size="6.7" text-anchor="middle">500</text>
<line x1="416.6" y1="810.1" x2="416.6" y2="813.1" stroke="#000" stroke-width="1.1"/>
<text x="416.6" y="821" font-size="6.7" text-anchor="middle">600</text>
<text x="359" y="833.2" font-size="7.3" text-anchor="middle">Time (S)</text>
<text x="323.6" y="744.7" font-size="9.7" fill="#118a17">KD = 5.191E-9 (M)</text>
<path d="M432.4 810.1 L432.6 810.1 L432.8 810 L433 810 L433.2 809.9 L433.9 809.8 L434.7 809.6 L435.5 809.4 L436.2 809.3 L437 809.2 L437.8 809 L438.5 808.9 L439.3 808.8 L440.1 808.6 L440.8 808.5 L441.6 808.4 L442.4 808.3 L443.2 808.2 L443.9 808.1 L444.7 808 L445.5 807.9 L446.2 807.8 L447 807.7 L447.8 807.7 L448.5 807.6 L449.3 807.5 L450.1 807.4 L450.8 807.4 L451.6 807.3 L452.4 807.2 L453.1 807.2 L453.9 807.1 L454.7 807.1 L455.4 807 L456.2 807 L457 806.9 L457.7 806.9 L458.5 806.8 L459.3 806.8 L460 806.7 L460.8 806.7 L461.6 806.6 L462.4 806.6 L463.1 806.6 L463.9 806.5 L464.7 806.5 L465.4 806.5 L466.2 806.4 L467 806.4 L467.7 806.4 L468.5 806.3 L469.3 806.3 L470 806.3 L470.8 806.3 L472.7 806.5 L474.6 806.8 L476.6 807 L478.5 807.2 L480.4 807.4 L482.3 807.6 L484.2 807.7 L486.2 807.9 L488.1 808 L490 808.1 L491.9 808.2 L493.8 808.4 L495.8 808.4 L497.7 808.5 L499.6 808.6 L501.5 808.7 L503.4 808.7 L505.4 808.8 L507.3 808.9 L509.2 808.9 L511.1 808.9 L513 809 L515 809 L516.9 809.1 L518.8 809.1 L520.7 809.1 L522.6 809.1 L524.6 809.2 L526.5 809.2 L528.4 809.2 L530.3 809.2 L532.2 809.2 L534.2 809.3 L536.1 809.3 L538 809.3 L539.9 809.3 L541.8 809.3 L543.8 809.3 L545.7 809.3 L547.6 809.3" stroke="#36a68b" stroke-width="1.4" fill="none" stroke-linejoin="round"/>
<path d="M432.4 810.1 L432.6 810 L432.8 809.9 L433 809.8 L433.2 809.8 L433.9 809.4 L434.7 809.1 L435.5 808.8 L436.2 808.5 L437 808.2 L437.8 807.9 L438.5 807.7 L439.3 807.4 L440.1 807.2 L440.8 806.9 L441.6 806.7 L442.4 806.5 L443.2 806.3 L443.9 806.1 L444.7 805.9 L445.5 805.7 L446.2 805.6 L447 805.4 L447.8 805.2 L448.5 805.1 L449.3 804.9 L450.1 804.8 L450.8 804.6 L451.6 804.5 L452.4 804.4 L453.1 804.2 L453.9 804.1 L454.7 804 L455.4 803.9 L456.2 803.8 L457 803.7 L457.7 803.6 L458.5 803.5 L459.3 803.4 L460 803.3 L460.8 803.3 L461.6 803.2 L462.4 803.1 L463.1 803 L463.9 803 L464.7 802.9 L465.4 802.8 L466.2 802.8 L467 802.7 L467.7 802.6 L468.5 802.6 L469.3 802.5 L470 802.5 L470.8 802.4 L472.7 803 L474.6 803.5 L476.6 803.9 L478.5 804.3 L480.4 804.7 L482.3 805.1 L484.2 805.4 L486.2 805.7 L488.1 805.9 L490 806.2 L491.9 806.4 L493.8 806.6 L495.8 806.8 L497.7 807 L499.6 807.1 L501.5 807.2 L503.4 807.4 L505.4 807.5 L507.3 807.6 L509.2 807.7 L511.1 807.8 L513 807.9 L515 807.9 L516.9 808 L518.8 808.1 L520.7 808.1 L522.6 808.2 L524.6 808.2 L526.5 808.3 L528.4 808.3 L530.3 808.4 L532.2 808.4 L534.2 808.4 L536.1 808.4 L538 808.5 L539.9 808.5 L541.8 808.5 L543.8 808.5 L545.7 808.6 L547.6 808.6" stroke="#8cbd9f" stroke-width="1.3" fill="none" stroke-linejoin="round"/>
<path d="M432.4 810.1 L432.6 809.9 L432.8 809.8 L433 809.6 L433.2 809.5 L433.9 808.9 L434.7 808.3 L435.5 807.7 L436.2 807.2 L437 806.7 L437.8 806.3 L438.5 805.8 L439.3 805.4 L440.1 805 L440.8 804.6 L441.6 804.2 L442.4 803.8 L443.2 803.5 L443.9 803.2 L444.7 802.9 L445.5 802.6 L446.2 802.3 L447 802 L447.8 801.8 L448.5 801.5 L449.3 801.3 L450.1 801.1 L450.8 800.9 L451.6 800.7 L452.4 800.5 L453.1 800.3 L453.9 800.1 L454.7 800 L455.4 799.8 L456.2 799.7 L457 799.5 L457.7 799.4 L458.5 799.3 L459.3 799.1 L460 799 L460.8 798.9 L461.6 798.8 L462.4 798.7 L463.1 798.6 L463.9 798.5 L464.7 798.4 L465.4 798.3 L466.2 798.3 L467 798.2 L467.7 798.1 L468.5 798 L469.3 798 L470 797.9 L470.8 797.8 L472.7 798.7 L474.6 799.5 L476.6 800.3 L478.5 800.9 L480.4 801.6 L482.3 802.1 L484.2 802.6 L486.2 803.1 L488.1 803.5 L490 803.9 L491.9 804.3 L493.8 804.6 L495.8 804.9 L497.7 805.2 L499.6 805.4 L501.5 805.7 L503.4 805.9 L505.4 806.1 L507.3 806.2 L509.2 806.4 L511.1 806.5 L513 806.7 L515 806.8 L516.9 806.9 L518.8 807 L520.7 807.1 L522.6 807.2 L524.6 807.3 L526.5 807.3 L528.4 807.4 L530.3 807.5 L532.2 807.5 L534.2 807.6 L536.1 807.6 L538 807.6 L539.9 807.7 L541.8 807.7 L543.8 807.7 L545.7 807.8 L547.6 807.8" stroke="#f2d8ba" stroke-width="1.3" fill="none" stroke-linejoin="round"/>
<path d="M432.4 810.1 L432.6 809.7 L432.8 809.3 L433 808.9 L433.2 808.6 L433.9 807.1 L434.7 805.8 L435.5 804.6 L436.2 803.4 L437 802.4 L437.8 801.4 L438.5 800.4 L439.3 799.6 L440.1 798.8 L440.8 798 L441.6 797.3 L442.4 796.7 L443.2 796.1 L443.9 795.5 L444.7 795 L445.5 794.5 L446.2 794.1 L447 793.7 L447.8 793.3 L448.5 792.9 L449.3 792.6 L450.1 792.3 L450.8 792 L451.6 791.7 L452.4 791.4 L453.1 791.2 L453.9 791 L454.7 790.8 L455.4 790.6 L456.2 790.4 L457 790.3 L457.7 790.1 L458.5 790 L459.3 789.8 L460 789.7 L460.8 789.6 L461.6 789.5 L462.4 789.4 L463.1 789.3 L463.9 789.2 L464.7 789.1 L465.4 789 L466.2 789 L467 788.9 L467.7 788.9 L468.5 788.8 L469.3 788.7 L470 788.7 L470.8 788.7 L472.7 790.2 L474.6 791.6 L476.6 792.9 L478.5 794.1 L480.4 795.2 L482.3 796.2 L484.2 797.1 L486.2 797.9 L488.1 798.7 L490 799.4 L491.9 800 L493.8 800.6 L495.8 801.1 L497.7 801.6 L499.6 802.1 L501.5 802.5 L503.4 802.8 L505.4 803.2 L507.3 803.5 L509.2 803.8 L511.1 804 L513 804.3 L515 804.5 L516.9 804.7 L518.8 804.9 L520.7 805 L522.6 805.2 L524.6 805.3 L526.5 805.4 L528.4 805.5 L530.3 805.7 L532.2 805.7 L534.2 805.8 L536.1 805.9 L538 806 L539.9 806.1 L541.8 806.1 L543.8 806.2 L545.7 806.2 L547.6 806.3" stroke="#f1b14e" stroke-width="1.3" fill="none" stroke-linejoin="round"/>
<path d="M432.4 810.1 L432.6 809.4 L432.8 808.8 L433 808.1 L433.2 807.5 L433.9 805.1 L434.7 802.9 L435.5 800.9 L436.2 799.1 L437 797.4 L437.8 795.8 L438.5 794.4 L439.3 793.1 L440.1 791.9 L440.8 790.9 L441.6 789.9 L442.4 789 L443.2 788.1 L443.9 787.4 L444.7 786.7 L445.5 786 L446.2 785.4 L447 784.9 L447.8 784.4 L448.5 784 L449.3 783.6 L450.1 783.2 L450.8 782.8 L451.6 782.5 L452.4 782.2 L453.1 782 L453.9 781.7 L454.7 781.5 L455.4 781.3 L456.2 781.1 L457 780.9 L457.7 780.8 L458.5 780.6 L459.3 780.5 L460 780.4 L460.8 780.3 L461.6 780.2 L462.4 780.1 L463.1 780 L463.9 779.9 L464.7 779.8 L465.4 779.8 L466.2 779.7 L467 779.7 L467.7 779.6 L468.5 779.6 L469.3 779.5 L470 779.5 L470.8 779.5 L472.7 781.7 L474.6 783.7 L476.6 785.6 L478.5 787.3 L480.4 788.9 L482.3 790.3 L484.2 791.6 L486.2 792.8 L488.1 793.9 L490 794.9 L491.9 795.8 L493.8 796.6 L495.8 797.4 L497.7 798.1 L499.6 798.7 L501.5 799.3 L503.4 799.8 L505.4 800.3 L507.3 800.7 L509.2 801.2 L511.1 801.5 L513 801.9 L515 802.2 L516.9 802.5 L518.8 802.7 L520.7 802.9 L522.6 803.2 L524.6 803.4 L526.5 803.5 L528.4 803.7 L530.3 803.9 L532.2 804 L534.2 804.1 L536.1 804.2 L538 804.3 L539.9 804.4 L541.8 804.5 L543.8 804.6 L545.7 804.7 L547.6 804.7" stroke="#e64a32" stroke-width="1.4" fill="none" stroke-linejoin="round"/>
<path d="M432.4 810.1 L432.6 808.9 L432.8 807.8 L433 806.7 L433.2 805.6 L433.9 801.6 L434.7 798 L435.5 794.9 L436.2 792.1 L437 789.6 L437.8 787.4 L438.5 785.5 L439.3 783.7 L440.1 782.2 L440.8 780.8 L441.6 779.6 L442.4 778.6 L443.2 777.6 L443.9 776.8 L444.7 776 L445.5 775.4 L446.2 774.8 L447 774.3 L447.8 773.8 L448.5 773.4 L449.3 773 L450.1 772.7 L450.8 772.4 L451.6 772.2 L452.4 771.9 L453.1 771.7 L453.9 771.6 L454.7 771.4 L455.4 771.3 L456.2 771.1 L457 771 L457.7 770.9 L458.5 770.8 L459.3 770.8 L460 770.7 L460.8 770.6 L461.6 770.6 L462.4 770.5 L463.1 770.5 L463.9 770.5 L464.7 770.4 L465.4 770.4 L466.2 770.4 L467 770.3 L467.7 770.3 L468.5 770.3 L469.3 770.3 L470 770.3 L470.8 770.3 L472.7 773.2 L474.6 776 L476.6 778.4 L478.5 780.7 L480.4 782.8 L482.3 784.7 L484.2 786.4 L486.2 788 L488.1 789.4 L490 790.7 L491.9 791.9 L493.8 793 L495.8 794.1 L497.7 795 L499.6 795.8 L501.5 796.6 L503.4 797.3 L505.4 797.9 L507.3 798.5 L509.2 799.1 L511.1 799.6 L513 800 L515 800.4 L516.9 800.8 L518.8 801.1 L520.7 801.4 L522.6 801.7 L524.6 802 L526.5 802.2 L528.4 802.4 L530.3 802.6 L532.2 802.8 L534.2 803 L536.1 803.1 L538 803.3 L539.9 803.4 L541.8 803.5 L543.8 803.6 L545.7 803.7 L547.6 803.8" stroke="#b9664c" stroke-width="1.4" fill="none" stroke-linejoin="round"/>
<line x1="432.4" y1="733.1" x2="432.4" y2="810.8" stroke="#000" stroke-width="1.5"/>
<line x1="431.7" y1="810.1" x2="548.1" y2="810.1" stroke="#000" stroke-width="1.6"/>
<line x1="428.5" y1="810.1" x2="432.4" y2="810.1" stroke="#000" stroke-width="1.1"/>
<text x="427.9" y="812.5" font-size="6.7" text-anchor="end">0</text>
<line x1="428.5" y1="794.8" x2="432.4" y2="794.8" stroke="#000" stroke-width="1.1"/>
<text x="427.9" y="797.2" font-size="6.7" text-anchor="end">20</text>
<line x1="428.5" y1="779.5" x2="432.4" y2="779.5" stroke="#000" stroke-width="1.1"/>
<text x="427.9" y="781.9" font-size="6.7" text-anchor="end">40</text>
<line x1="428.5" y1="764.1" x2="432.4" y2="764.1" stroke="#000" stroke-width="1.1"/>
<text x="427.9" y="766.6" font-size="6.7" text-anchor="end">60</text>
<line x1="428.5" y1="748.8" x2="432.4" y2="748.8" stroke="#000" stroke-width="1.1"/>
<text x="427.9" y="751.2" font-size="6.7" text-anchor="end">80</text>
<line x1="428.5" y1="733.5" x2="432.4" y2="733.5" stroke="#000" stroke-width="1.1"/>
<text x="427.9" y="735.9" font-size="6.7" text-anchor="end">100</text>
<line x1="432.4" y1="810.1" x2="432.4" y2="813.1" stroke="#000" stroke-width="1.1"/>
<text x="432.4" y="821" font-size="6.7" text-anchor="middle">0</text>
<line x1="451.6" y1="810.1" x2="451.6" y2="813.1" stroke="#000" stroke-width="1.1"/>
<text x="451.6" y="821" font-size="6.7" text-anchor="middle">100</text>
<line x1="470.8" y1="810.1" x2="470.8" y2="813.1" stroke="#000" stroke-width="1.1"/>
<text x="470.8" y="821" font-size="6.7" text-anchor="middle">200</text>
<line x1="490" y1="810.1" x2="490" y2="813.1" stroke="#000" stroke-width="1.1"/>
<text x="490" y="821" font-size="6.7" text-anchor="middle">300</text>
<line x1="509.2" y1="810.1" x2="509.2" y2="813.1" stroke="#000" stroke-width="1.1"/>
<text x="509.2" y="821" font-size="6.7" text-anchor="middle">400</text>
<line x1="528.4" y1="810.1" x2="528.4" y2="813.1" stroke="#000" stroke-width="1.1"/>
<text x="528.4" y="821" font-size="6.7" text-anchor="middle">500</text>
<line x1="547.6" y1="810.1" x2="547.6" y2="813.1" stroke="#000" stroke-width="1.1"/>
<text x="547.6" y="821" font-size="6.7" text-anchor="middle">600</text>
<text x="490" y="833.2" font-size="7.3" text-anchor="middle">Time (S)</text>
<text x="453.6" y="744.7" font-size="9.7" fill="#118a17">KD = 5.775E-7 (M)</text>
<path d="M564 809.5 L564.8 809.7 L565.5 809.9 L566.3 810.1 L567.1 809.5 L567.8 809.9 L568.6 809.7 L569.4 810.3 L570.1 810.2 L570.9 810.4 L571.7 809.6 L572.4 809.8 L573.2 810.2 L574 809.4 L574.8 810.1 L575.5 809.9 L576.3 810.2 L577.1 810.1 L577.8 809.4 L578.6 810 L579.4 810.2 L580.1 809.8 L580.9 810 L581.7 809.3 L582.4 810.2 L583.2 809.2 L584 810.3 L584.7 809.3 L585.5 809.5 L586.3 810.1 L587 809.8 L587.8 810 L588.6 810 L589.3 810.1 L590.1 809.9 L590.9 809.1 L591.6 809.1 L592.4 809.2 L593.2 810.2 L594 809.9 L594.7 809.2 L595.5 810.2 L596.3 809.4 L597 809.9 L597.8 809.1 L598.6 810.2 L599.3 809.3 L600.1 809.8 L600.9 810.1 L601.6 810.2 L602.4 809.2 L603.2 809.6 L603.9 810 L604.7 809.7 L605.5 809.1 L606.2 809.9 L607 809.5 L607.8 810 L608.5 810 L609.3 809.3 L610.1 809.3 L610.8 809.9 L611.6 810.1 L612.4 810.1 L613.2 809.4 L613.9 809.6 L614.7 809.8 L615.5 809.9 L616.2 809.4 L617 809.3 L617.8 809.2 L618.5 809.4 L619.3 809.9 L620.1 810 L620.8 809.2 L621.6 809.6 L622.4 809.3 L623.1 810 L623.9 809.1 L624.7 809.7 L625.4 809.1 L626.2 809.1 L627 809.5 L627.7 810 L628.5 809 L629.3 809.5 L630 809 L630.8 809.7 L631.6 809.8 L632.4 809.1 L633.1 809.6 L633.9 809.8 L634.7 809.6 L635.4 809.3 L636.2 810 L637 809.4 L637.7 809.5 L638.5 809.4 L639.3 809.8 L640 809.1 L640.8 809 L641.6 809 L642.3 809.6 L643.1 809.1 L643.9 809.5 L644.6 809.1 L645.4 809.9 L646.2 808.9 L646.9 808.8 L647.7 809.4 L648.5 809.3 L649.2 809.3 L650 809.3 L650.8 809.9 L651.6 808.8 L652.3 809.6 L653.1 809.7 L653.9 809.8 L654.6 809.6 L655.4 808.9 L656.2 809.8 L656.9 809.8 L657.7 809.1 L658.5 809.6 L659.2 809.8 L660 809.2 L660.8 809.2 L661.5 809.2 L662.3 809 L663.1 809.7 L663.8 808.8 L664.6 809 L665.4 809.8 L666.1 809.7 L666.9 809.2 L667.7 809.2 L668.4 809.5 L669.2 809.7 L670 809.3 L670.8 809.6 L671.5 809.1 L672.3 808.8 L673.1 809.6 L673.8 809.1 L674.6 808.9 L675.4 809.6 L676.1 808.8 L676.9 808.7 L677.7 809.3 L678.4 809.2 L679.2 808.8" stroke="#b9664c" stroke-width="0.9" fill="none"/>
<path d="M564 809.1 L564.8 809.3 L565.5 808.6 L566.3 808.8 L567.1 809.3 L567.8 809.5 L568.6 809.3 L569.4 809.2 L570.1 808.6 L570.9 808.8 L571.7 808.7 L572.4 808.8 L573.2 808.7 L574 809.7 L574.8 809.1 L575.5 808.6 L576.3 808.6 L577.1 809.4 L577.8 809.2 L578.6 809 L579.4 809.3 L580.1 809.1 L580.9 809.7 L581.7 809.2 L582.4 809.1 L583.2 809.7 L584 809.6 L584.7 808.6 L585.5 808.8 L586.3 808.6 L587 809 L587.8 808.8 L588.6 808.7 L589.3 808.7 L590.1 809.7 L590.9 809 L591.6 809.4 L592.4 808.9 L593.2 809.4 L594 809.1 L594.7 808.7 L595.5 809 L596.3 809.4 L597 809.1 L597.8 809.2 L598.6 808.6 L599.3 809.4 L600.1 809.4 L600.9 809 L601.6 809.6 L602.4 801.6 L603.2 809.1 L603.9 809.4 L604.7 809.2 L605.5 809.1 L606.2 809.6 L607 809.6 L607.8 809.6 L608.5 809.4 L609.3 809.3 L610.1 809.4 L610.8 809.4 L611.6 809.6 L612.4 809.1 L613.2 808.8 L613.9 809 L614.7 809.1 L615.5 809 L616.2 809.5 L617 808.9 L617.8 809.2 L618.5 809.1 L619.3 809 L620.1 809.2 L620.8 809.4 L621.6 809.5 L622.4 809.5 L623.1 809.1 L623.9 809.3 L624.7 809 L625.4 809.7 L626.2 809.3 L627 808.7 L627.7 809.5 L628.5 809.1 L629.3 809.2 L630 809.4 L630.8 808.6 L631.6 809.4 L632.4 808.8 L633.1 809.5 L633.9 809.7 L634.7 808.7 L635.4 809.2 L636.2 809.7 L637 809.3 L637.7 809.2 L638.5 808.9 L639.3 809.6 L640 809.5 L640.8 808.6 L641.6 808.9 L642.3 809.6 L643.1 809.3 L643.9 809.3 L644.6 808.9 L645.4 809 L646.2 808.7 L646.9 808.8 L647.7 809.1 L648.5 808.9 L649.2 808.9 L650 808.8 L650.8 809.2 L651.6 808.8 L652.3 808.9 L653.1 808.7 L653.9 809.6 L654.6 808.7 L655.4 809.7 L656.2 808.8 L656.9 809 L657.7 809.2 L658.5 808.6 L659.2 809.1 L660 809.2 L660.8 808.8 L661.5 808.7 L662.3 809 L663.1 809.3 L663.8 809.2 L664.6 809.2 L665.4 808.9 L666.1 809.4 L666.9 809.3 L667.7 809.1 L668.4 809.3 L669.2 809.4 L670 808.8 L670.8 808.7 L671.5 809.2 L672.3 809.2 L673.1 809.5 L673.8 809.4 L674.6 809.6 L675.4 809.1 L676.1 809.1 L676.9 809.6 L677.7 808.7 L678.4 809.4 L679.2 808.7" stroke="#e64a32" stroke-width="0.9" fill="none"/>
<path d="M564 805.7 L564.8 805.6 L565.5 806.6 L566.3 806.3 L567.1 805.6 L567.8 806.9 L568.6 806.9 L569.4 806.1 L570.1 806.2 L570.9 805.6 L571.7 805.8 L572.4 806.1 L573.2 805.4 L574 806.1 L574.8 806.1 L575.5 805.9 L576.3 806.3 L577.1 806.4 L577.8 806 L578.6 806.4 L579.4 805.5 L580.1 805.9 L580.9 806.1 L581.7 806.7 L582.4 806.3 L583.2 806.2 L584 806 L584.7 806 L585.5 805.5 L586.3 805.4 L587 806.1 L587.8 806.2 L588.6 805.9 L589.3 805.3 L590.1 806.3 L590.9 806 L591.6 805.6 L592.4 806.5 L593.2 806.3 L594 805.3 L594.7 805.6 L595.5 806 L596.3 806.6 L597 805.4 L597.8 805.7 L598.6 805.5 L599.3 805.3 L600.1 805.4 L600.9 806.1 L601.6 806.5 L602.4 806.3 L603.2 806 L603.9 806 L604.7 806.4 L605.5 806.4 L606.2 805.8 L607 805.8 L607.8 806.2 L608.5 805.2 L609.3 805.7 L610.1 806.6 L610.8 806.1 L611.6 805.5 L612.4 806.2 L613.2 805.6 L613.9 806.6 L614.7 806.2 L615.5 805.4 L616.2 805.8 L617 805.6 L617.8 806.3 L618.5 805.9 L619.3 805.8 L620.1 806.2 L620.8 805.7 L621.6 805.8 L622.4 805.1 L623.1 805.7 L623.9 806 L624.7 806.4 L625.4 806.3 L626.2 805.5 L627 806.4 L627.7 806.4 L628.5 806.3 L629.3 805.8 L630 805.3 L630.8 805.6 L631.6 805.3 L632.4 806.4 L633.1 806.5 L633.9 805.4 L634.7 806 L635.4 805.5 L636.2 806 L637 806.2 L637.7 806.1 L638.5 806.3 L639.3 805.2 L640 805.6 L640.8 806 L641.6 805.8 L642.3 805.9 L643.1 806.4 L643.9 805.1 L644.6 805.6 L645.4 805 L646.2 805.8 L646.9 805.5 L647.7 806.1 L648.5 806.4 L649.2 805.1 L650 805.2 L650.8 805.9 L651.6 805.1 L652.3 805.2 L653.1 805.9 L653.9 805.5 L654.6 805 L655.4 805.7 L656.2 805 L656.9 806 L657.7 805.8 L658.5 805.3 L659.2 806 L660 805.9 L660.8 805.1 L661.5 805.6 L662.3 805.2 L663.1 806 L663.8 806.1 L664.6 805.8 L665.4 806 L666.1 804.9 L666.9 805.9 L667.7 805.5 L668.4 806.1 L669.2 805.5 L670 805.7 L670.8 805.7 L671.5 806.2 L672.3 806.1 L673.1 805.1 L673.8 805.7 L674.6 805.9 L675.4 806 L676.1 805.8 L676.9 805.9 L677.7 806.2 L678.4 805.3 L679.2 805.7" stroke="#f1b14e" stroke-width="0.9" fill="none"/>
<path d="M564 807.7 L564.8 807.1 L565.5 807.8 L566.3 807.6 L567.1 806.9 L567.8 807.7 L568.6 807.4 L569.4 806.9 L570.1 806.9 L570.9 807.7 L571.7 807.5 L572.4 807 L573.2 807.4 L574 806.8 L574.8 807.6 L575.5 806.8 L576.3 807.3 L577.1 807.6 L577.8 807.3 L578.6 807.7 L579.4 807 L580.1 807.6 L580.9 806.8 L581.7 807.2 L582.4 807.4 L583.2 807.6 L584 807.1 L584.7 807.6 L585.5 806.8 L586.3 807.7 L587 807.2 L587.8 807.2 L588.6 807.5 L589.3 806.9 L590.1 807.4 L590.9 807.1 L591.6 807.2 L592.4 807.5 L593.2 807.4 L594 807.7 L594.7 807.6 L595.5 806.8 L596.3 807.4 L597 807 L597.8 807.7 L598.6 807.1 L599.3 807.4 L600.1 807.2 L600.9 807.4 L601.6 807.7 L602.4 807.4 L603.2 807.5 L603.9 807.6 L604.7 806.9 L605.5 807.4 L606.2 807.3 L607 806.7 L607.8 806.9 L608.5 806.7 L609.3 806.8 L610.1 807.6 L610.8 807.4 L611.6 807.7 L612.4 807 L613.2 807 L613.9 807.3 L614.7 807.3 L615.5 807 L616.2 806.9 L617 807.4 L617.8 806.7 L618.5 807.3 L619.3 807 L620.1 807.5 L620.8 807.6 L621.6 806.7 L622.4 806.9 L623.1 806.9 L623.9 807.7 L624.7 807.7 L625.4 807.5 L626.2 807.5 L627 807.4 L627.7 807.3 L628.5 807.7 L629.3 807.3 L630 807 L630.8 807.5 L631.6 806.7 L632.4 807 L633.1 806.8 L633.9 807.4 L634.7 807.2 L635.4 806.9 L636.2 807.3 L637 807.7 L637.7 806.7 L638.5 806.8 L639.3 807.3 L640 807.6 L640.8 806.7 L641.6 807 L642.3 807.6 L643.1 807.4 L643.9 807.5 L644.6 806.7 L645.4 807.4 L646.2 806.6 L646.9 806.8 L647.7 807.5 L648.5 806.8 L649.2 807.2 L650 806.8 L650.8 806.7 L651.6 807.3 L652.3 807.5 L653.1 806.5 L653.9 807.1 L654.6 806.5 L655.4 806.8 L656.2 806.8 L656.9 806.6 L657.7 806.9 L658.5 807.1 L659.2 807.5 L660 806.8 L660.8 807.1 L661.5 807 L662.3 806.5 L663.1 807.4 L663.8 806.7 L664.6 807.5 L665.4 806.8 L666.1 806.6 L666.9 807.3 L667.7 806.9 L668.4 806.4 L669.2 806.8 L670 806.9 L670.8 807.3 L671.5 807.5 L672.3 807.1 L673.1 807.1 L673.8 807.3 L674.6 807.2 L675.4 807.4 L676.1 806.7 L676.9 806.8 L677.7 807.3 L678.4 807.3 L679.2 806.9" stroke="#f2d8ba" stroke-width="0.9" fill="none"/>
<path d="M564 807 L564.8 806.4 L565.5 807.1 L566.3 807.2 L567.1 806.5 L567.8 807.4 L568.6 806.9 L569.4 807.2 L570.1 806.6 L570.9 806.9 L571.7 806.7 L572.4 807.3 L573.2 806.8 L574 806.8 L574.8 807 L575.5 806.6 L576.3 806.6 L577.1 807.4 L577.8 807.2 L578.6 807.1 L579.4 807.3 L580.1 807.5 L580.9 807.2 L581.7 807.3 L582.4 806.7 L583.2 807 L584 807.4 L584.7 807.2 L585.5 807 L586.3 807.1 L587 807.3 L587.8 807.5 L588.6 807.5 L589.3 806.4 L590.1 806.7 L590.9 807.4 L591.6 806.7 L592.4 806.4 L593.2 806.9 L594 807.4 L594.7 807 L595.5 807 L596.3 807.3 L597 806.9 L597.8 807.5 L598.6 806.5 L599.3 806.8 L600.1 806.8 L600.9 806.4 L601.6 806.8 L602.4 807.2 L603.2 807.3 L603.9 807.4 L604.7 807.5 L605.5 806.6 L606.2 806.6 L607 807.2 L607.8 807.3 L608.5 806.8 L609.3 806.6 L610.1 806.5 L610.8 807.3 L611.6 806.6 L612.4 806.6 L613.2 806.7 L613.9 807.2 L614.7 807.3 L615.5 806.6 L616.2 807.2 L617 807.1 L617.8 806.9 L618.5 807.1 L619.3 806.6 L620.1 807.3 L620.8 807.5 L621.6 806.9 L622.4 806.8 L623.1 806.6 L623.9 806.7 L624.7 806.5 L625.4 806.4 L626.2 807 L627 807 L627.7 807.4 L628.5 807.2 L629.3 806.9 L630 807.4 L630.8 806.7 L631.6 807.4 L632.4 807 L633.1 806.4 L633.9 807.4 L634.7 807.5 L635.4 807 L636.2 807.3 L637 806.7 L637.7 807.5 L638.5 806.6 L639.3 806.5 L640 806.6 L640.8 807 L641.6 807.2 L642.3 806.8 L643.1 806.9 L643.9 807 L644.6 807.1 L645.4 807 L646.2 806.8 L646.9 806.6 L647.7 806.5 L648.5 807.3 L649.2 807.2 L650 807 L650.8 806.9 L651.6 807.1 L652.3 807.3 L653.1 807.4 L653.9 807.2 L654.6 807 L655.4 806.4 L656.2 806.5 L656.9 806.5 L657.7 806.4 L658.5 806.4 L659.2 806.8 L660 806.6 L660.8 807.5 L661.5 806.8 L662.3 806.8 L663.1 807.2 L663.8 806.9 L664.6 806.4 L665.4 807 L666.1 806.8 L666.9 807.2 L667.7 807.1 L668.4 806.5 L669.2 807.5 L670 807.3 L670.8 806.7 L671.5 807 L672.3 807.4 L673.1 806.8 L673.8 807.1 L674.6 806.9 L675.4 807.1 L676.1 806.9 L676.9 806.9 L677.7 807.1 L678.4 807.4 L679.2 807.3" stroke="#8cbd9f" stroke-width="0.9" fill="none"/>
<path d="M564 806 L564.8 806.5 L565.5 807.2 L566.3 806.1 L567.1 807 L567.8 807.2 L568.6 806.6 L569.4 807 L570.1 806.6 L570.9 806.5 L571.7 807 L572.4 806.5 L573.2 807.2 L574 806.6 L574.8 806.5 L575.5 807.2 L576.3 806.8 L577.1 807.3 L577.8 806.7 L578.6 806.1 L579.4 806.6 L580.1 806.3 L580.9 806.3 L581.7 807.2 L582.4 805.9 L583.2 806.3 L584 807.2 L584.7 806.2 L585.5 806.8 L586.3 807.1 L587 806 L587.8 806.6 L588.6 806.3 L589.3 807.2 L590.1 806.3 L590.9 807.3 L591.6 807.1 L592.4 806.9 L593.2 807.4 L594 806.5 L594.7 807.1 L595.5 807 L596.3 806.4 L597 806.8 L597.8 806.1 L598.6 806.5 L599.3 806.2 L600.1 806.6 L600.9 806.1 L601.6 806.2 L602.4 802.9 L603.2 806.9 L603.9 806.3 L604.7 806.5 L605.5 806.2 L606.2 807.3 L607 806.9 L607.8 806.4 L608.5 806.1 L609.3 806.4 L610.1 807.4 L610.8 806.6 L611.6 807.3 L612.4 806.7 L613.2 806.3 L613.9 807.3 L614.7 806.1 L615.5 806.5 L616.2 807.1 L617 807.2 L617.8 806.8 L618.5 806.3 L619.3 806.6 L620.1 807.3 L620.8 807.5 L621.6 807.3 L622.4 806.3 L623.1 807.2 L623.9 806.7 L624.7 807.1 L625.4 806.5 L626.2 807 L627 807.3 L627.7 806.2 L628.5 806.7 L629.3 806.5 L630 806.4 L630.8 806.1 L631.6 807.5 L632.4 807 L633.1 807.3 L633.9 806.8 L634.7 806.3 L635.4 806.4 L636.2 807.5 L637 807.3 L637.7 806.4 L638.5 806.6 L639.3 807 L640 806.9 L640.8 807.3 L641.6 806.3 L642.3 807 L643.1 806.3 L643.9 806.7 L644.6 807.5 L645.4 807.1 L646.2 807.3 L646.9 806.3 L647.7 806.7 L648.5 807.5 L649.2 807.3 L650 807.1 L650.8 806.9 L651.6 806.8 L652.3 807 L653.1 807.1 L653.9 807.6 L654.6 806.8 L655.4 807.1 L656.2 807.6 L656.9 806.9 L657.7 806.2 L658.5 807.6 L659.2 807.4 L660 806.6 L660.8 807.2 L661.5 807.2 L662.3 806.9 L663.1 807.3 L663.8 806.8 L664.6 806.9 L665.4 806.2 L666.1 806.2 L666.9 807.6 L667.7 806.8 L668.4 806.5 L669.2 806.4 L670 806.5 L670.8 806.7 L671.5 806.7 L672.3 807.1 L673.1 807.3 L673.8 806.5 L674.6 806.4 L675.4 806.3 L676.1 806.7 L676.9 807.2 L677.7 806.6 L678.4 806.6 L679.2 806.9" stroke="#36a68b" stroke-width="0.9" fill="none"/>
<line x1="602.4" y1="799.3" x2="602.4" y2="811" stroke="#e64a32" stroke-width="0.8"/>
<line x1="602.8" y1="803.7" x2="602.8" y2="811.7" stroke="#36a68b" stroke-width="0.8"/>
<line x1="564" y1="733.1" x2="564" y2="810.8" stroke="#000" stroke-width="1.5"/>
<line x1="563.3" y1="810.1" x2="679.7" y2="810.1" stroke="#000" stroke-width="1.6"/>
<line x1="560.1" y1="806.6" x2="564" y2="806.6" stroke="#000" stroke-width="1.1"/>
<text x="559.5" y="809" font-size="6.7" text-anchor="end">0</text>
<line x1="560.1" y1="792" x2="564" y2="792" stroke="#000" stroke-width="1.1"/>
<text x="559.5" y="794.4" font-size="6.7" text-anchor="end">2</text>
<line x1="560.1" y1="777.4" x2="564" y2="777.4" stroke="#000" stroke-width="1.1"/>
<text x="559.5" y="779.8" font-size="6.7" text-anchor="end">4</text>
<line x1="560.1" y1="762.7" x2="564" y2="762.7" stroke="#000" stroke-width="1.1"/>
<text x="559.5" y="765.1" font-size="6.7" text-anchor="end">6</text>
<line x1="560.1" y1="748.1" x2="564" y2="748.1" stroke="#000" stroke-width="1.1"/>
<text x="559.5" y="750.5" font-size="6.7" text-anchor="end">8</text>
<line x1="560.1" y1="733.5" x2="564" y2="733.5" stroke="#000" stroke-width="1.1"/>
<text x="559.5" y="735.9" font-size="6.7" text-anchor="end">10</text>
<line x1="564" y1="810.1" x2="564" y2="813.1" stroke="#000" stroke-width="1.1"/>
<text x="564" y="821" font-size="6.7" text-anchor="middle">0</text>
<line x1="583.2" y1="810.1" x2="583.2" y2="813.1" stroke="#000" stroke-width="1.1"/>
<text x="583.2" y="821" font-size="6.7" text-anchor="middle">100</text>
<line x1="602.4" y1="810.1" x2="602.4" y2="813.1" stroke="#000" stroke-width="1.1"/>
<text x="602.4" y="821" font-size="6.7" text-anchor="middle">200</text>
<line x1="621.6" y1="810.1" x2="621.6" y2="813.1" stroke="#000" stroke-width="1.1"/>
<text x="621.6" y="821" font-size="6.7" text-anchor="middle">300</text>
<line x1="640.8" y1="810.1" x2="640.8" y2="813.1" stroke="#000" stroke-width="1.1"/>
<text x="640.8" y="821" font-size="6.7" text-anchor="middle">400</text>
<line x1="660" y1="810.1" x2="660" y2="813.1" stroke="#000" stroke-width="1.1"/>
<text x="660" y="821" font-size="6.7" text-anchor="middle">500</text>
<line x1="679.2" y1="810.1" x2="679.2" y2="813.1" stroke="#000" stroke-width="1.1"/>
<text x="679.2" y="821" font-size="6.7" text-anchor="middle">600</text>
<text x="621.6" y="833.2" font-size="7.3" text-anchor="middle">Time (S)</text>
<line x1="619.6" y1="743" x2="628.2" y2="743" stroke="#b9664c" stroke-width="1.5"/>
<text x="632.8" y="745.9" font-size="8">50 nM</text>
<line x1="619.6" y1="754.1" x2="628.2" y2="754.1" stroke="#e64a32" stroke-width="1.5"/>
<text x="632.8" y="757" font-size="8">25 nM</text>
<line x1="619.6" y1="765.2" x2="628.2" y2="765.2" stroke="#f1b14e" stroke-width="1.5"/>
<text x="632.8" y="768.1" font-size="8">12.50 nM</text>
<line x1="619.6" y1="776.3" x2="628.2" y2="776.3" stroke="#f2d8ba" stroke-width="1.5"/>
<text x="632.8" y="779.2" font-size="8">6.25 nM</text>
<line x1="619.6" y1="787.4" x2="628.2" y2="787.4" stroke="#8cbd9f" stroke-width="1.5"/>
<text x="632.8" y="790.3" font-size="8">3.12 nM</text>
<line x1="619.6" y1="798.5" x2="628.2" y2="798.5" stroke="#36a68b" stroke-width="1.5"/>
<text x="632.8" y="801.4" font-size="8">1.56 nM</text>
<text x="10" y="560" font-size="8.8" text-anchor="middle" transform="rotate(-90 10 560)">Docaravimab Binding</text>
<text x="19" y="560.6" font-size="8.8" text-anchor="middle" transform="rotate(-90 19 560.6)">(RU)</text>
<text x="10" y="666" font-size="8.8" text-anchor="middle" transform="rotate(-90 10 666)">Rafivirumab Binding</text>
<text x="19" y="665" font-size="8.8" text-anchor="middle" transform="rotate(-90 19 665)">(RU)</text>
<text x="10" y="771.5" font-size="8.8" text-anchor="middle" transform="rotate(-90 10 771.5)">RVC20 Binding</text>
<text x="19" y="771" font-size="8.8" text-anchor="middle" transform="rotate(-90 19 771)">(RU)</text></svg></body></html>
